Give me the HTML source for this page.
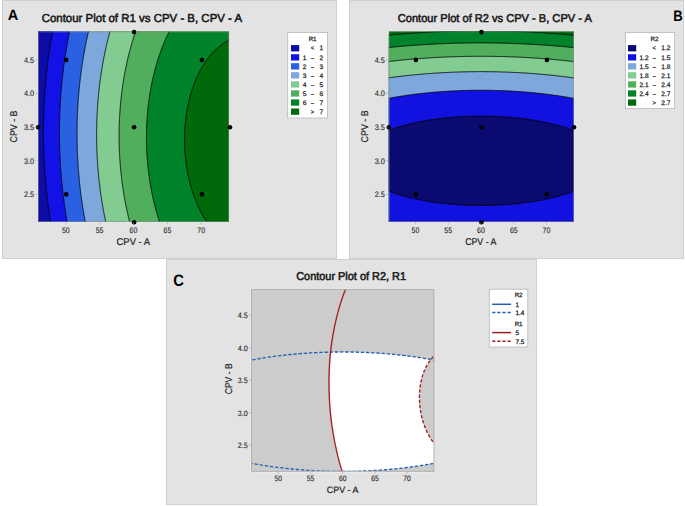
<!DOCTYPE html>
<html><head><meta charset="utf-8"><title>Contour Plots</title>
<style>html,body{margin:0;padding:0;background:#fff;} body{width:685px;height:506px;overflow:hidden;font-family:"Liberation Sans",sans-serif;} svg{display:block;}</style>
</head><body>
<svg width="685" height="506" viewBox="0 0 685 506" font-family='"Liberation Sans", sans-serif' text-rendering="geometricPrecision"><rect x="2.5" y="0.5" width="334" height="258" fill="#e3e3e3" stroke="#d0d0d0" stroke-width="1"/>
<rect x="349.5" y="0.5" width="334" height="258" fill="#e3e3e3" stroke="#d0d0d0" stroke-width="1"/>
<rect x="166.5" y="259.5" width="370" height="245" fill="#e3e3e3" stroke="#d0d0d0" stroke-width="1"/>
<clipPath id="cA"><rect x="38" y="31.4" width="191.1" height="190.6"/></clipPath>
<g clip-path="url(#cA)">
<rect x="38" y="31.4" width="191.1" height="190.6" fill="#006a0a"/>
<path d="M36,29.4L36.8,29.4L37.5,29.4L38.2,29.4L39,29.4L39.8,29.4L40.5,29.4L41.2,29.4L42,29.4L42.8,29.4L43.5,29.4L44.2,29.4L45,29.4L45.8,29.4L46.5,29.4L47.2,29.4L48,29.4L48.8,29.4L49.5,29.4L50.2,29.4L51,29.4L51.8,29.4L52.5,29.4L53.2,29.4L54,29.4L54.8,29.4L55.5,29.4L56.2,29.4L57,29.4L57.8,29.4L58.5,29.4L59.2,29.4L60,29.4L60.8,29.4L61.5,29.4L62.2,29.4L63,29.4L63.8,29.4L64.5,29.4L65.2,29.4L66,29.4L66.8,29.4L67.5,29.4L68.2,29.4L69,29.4L69.8,29.4L70.5,29.4L71.2,29.4L72,29.4L72.8,29.4L73.5,29.4L74.2,29.4L75,29.4L75.8,29.4L76.5,29.4L77.2,29.4L78,29.4L78.8,29.4L79.5,29.4L80.2,29.4L81,29.4L81.8,29.4L82.5,29.4L83.2,29.4L84,29.4L84.8,29.4L85.5,29.4L86.2,29.4L87,29.4L87.8,29.4L88.5,29.4L89.2,29.4L90,29.4L90.8,29.4L91.5,29.4L92.2,29.4L93,29.4L93.8,29.4L94.5,29.4L95.2,29.4L96,29.4L96.8,29.4L97.5,29.4L98.2,29.4L99,29.4L99.8,29.4L100.5,29.4L101.2,29.4L102,29.4L102.8,29.4L103.5,29.4L104.2,29.4L105,29.4L105.8,29.4L106.5,29.4L107.2,29.4L108,29.4L108.8,29.4L109.5,29.4L110.2,29.4L111,29.4L111.8,29.4L112.5,29.4L113.2,29.4L114,29.4L114.8,29.4L115.5,29.4L116.2,29.4L117,29.4L117.8,29.4L118.5,29.4L119.2,29.4L120,29.4L120.8,29.4L121.5,29.4L122.2,29.4L123,29.4L123.8,29.4L124.5,29.4L125.2,29.4L126,29.4L126.8,29.4L127.5,29.4L128.2,29.4L129,29.4L129.8,29.4L130.5,29.4L131.2,29.4L132,29.4L132.8,29.4L133.5,29.4L134.2,29.4L135,29.4L135.8,29.4L136.5,29.4L137.2,29.4L138,29.4L138.8,29.4L139.5,29.4L140.2,29.4L141,29.4L141.8,29.4L142.5,29.4L143.2,29.4L144,29.4L144.8,29.4L145.5,29.4L146.2,29.4L147,29.4L147.8,29.4L148.5,29.4L149.2,29.4L150,29.4L150.8,29.4L151.5,29.4L152.2,29.4L153,29.4L153.8,29.4L154.5,29.4L155.2,29.4L156,29.4L156.8,29.4L157.5,29.4L158.2,29.4L159,29.4L159.8,29.4L160.5,29.4L161.2,29.4L162,29.4L162.8,29.4L163.5,29.4L164.2,29.4L165,29.4L165.8,29.4L166.5,29.4L167.2,29.4L168,29.4L168.8,29.4L169.5,29.4L170.2,29.4L171,29.4L171.8,29.4L172.5,29.4L173.2,29.4L174,29.4L174.8,29.4L175.5,29.4L176.2,29.4L177,29.4L177.8,29.4L178.5,29.4L179.2,29.4L180,29.4L180.8,29.4L181.5,29.4L182.2,29.4L183,29.4L183.8,29.4L184.5,29.4L185.2,29.4L186,29.4L186.8,29.4L187.5,29.4L188.2,29.4L189,29.4L189.8,29.4L190.5,29.4L191.2,29.4L192,29.4L192.8,29.4L193.5,29.4L194.2,29.4L195,29.4L195.8,29.4L196.5,29.4L197.2,29.4L198,29.4L198.8,29.4L199.5,29.4L200.2,29.4L201,29.4L201.8,29.4L202.5,29.4L203.2,29.4L204,29.4L204.8,29.4L205.5,29.4L206.2,29.4L207,29.4L207.8,29.4L208.5,29.4L209.2,29.4L210,29.4L210.8,29.4L211.5,29.4L212.2,29.4L213,29.4L213.8,29.4L214.5,29.4L215.2,29.4L216,29.4L216.8,29.4L217.5,29.4L218.2,29.4L219,29.4L219.8,29.4L220.5,29.4L221.2,29.4L222,29.4L222.8,29.4L223.5,29.4L224.2,29.4L225,29.4L225.8,29.4L226.5,29.4L227.2,29.4L228,29.4L228.8,29.4L229.5,29.4L230.2,29.4L231,29.4L231.8,29.4L231.8,30.1L231.8,30.9L231.8,31.6L231.8,32.4L231.8,33.1L231.8,33.9L231.8,34.6L231.8,35.4L231.8,36.1L231.8,36.9L231.8,37.6L231.8,38.4L231.8,39.1L231.7,39.1L231,39.5L230.2,39.8L230,39.9L229.5,40.1L228.8,40.5L228.4,40.6L228,40.9L227.2,41.2L227,41.4L226.5,41.7L225.8,42.1L225.6,42.1L225,42.5L224.4,42.9L224.2,43L223.5,43.5L223.2,43.6L222.8,44L222.1,44.4L222,44.5L221.2,45L221.1,45.1L220.5,45.6L220.1,45.9L219.8,46.2L219.1,46.6L219,46.8L218.2,47.4L218.2,47.4L217.5,48L217.4,48.2L216.8,48.7L216.5,48.9L216,49.4L215.7,49.6L215.2,50.1L214.9,50.4L214.5,50.8L214.2,51.1L213.8,51.6L213.4,51.9L213,52.4L212.7,52.6L212.2,53.2L212,53.4L211.5,54L211.4,54.1L210.8,54.9L210.7,54.9L210.1,55.6L210,55.8L209.5,56.4L209.2,56.7L208.9,57.1L208.5,57.6L208.3,57.9L207.8,58.6L207.7,58.6L207.2,59.4L207,59.6L206.6,60.1L206.2,60.7L206.1,60.9L205.6,61.6L205.5,61.7L205,62.4L204.8,62.8L204.6,63.1L204.1,63.9L204,64L203.6,64.7L203.2,65.2L203.1,65.4L202.7,66.2L202.5,66.4L202.2,66.9L201.8,67.7L201.8,67.7L201.4,68.4L201,69L200.9,69.2L200.5,69.9L200.2,70.4L200.1,70.7L199.7,71.4L199.5,71.8L199.3,72.2L199,72.9L198.8,73.3L198.6,73.7L198.2,74.4L198,74.8L197.9,75.2L197.5,75.9L197.2,76.4L197.2,76.7L196.8,77.4L196.5,78.1L196.5,78.2L196.2,78.9L195.8,79.7L195.8,79.9L195.5,80.4L195.2,81.2L195,81.7L194.9,81.9L194.6,82.7L194.3,83.4L194.2,83.6L194,84.2L193.8,84.9L193.5,85.6L193.5,85.7L193.2,86.4L193,87.2L192.8,87.7L192.7,87.9L192.4,88.7L192.2,89.4L192,90L192,90.2L191.7,90.9L191.5,91.7L191.2,92.4L191.2,92.4L191,93.2L190.8,93.9L190.6,94.7L190.5,94.9L190.4,95.4L190.2,96.2L190,96.9L189.8,97.7L189.8,97.7L189.6,98.4L189.4,99.2L189.2,99.9L189,100.7L189,100.7L188.8,101.4L188.7,102.2L188.5,102.9L188.3,103.7L188.2,104L188.2,104.4L188,105.2L187.9,105.9L187.7,106.7L187.6,107.4L187.5,107.7L187.4,108.2L187.3,108.9L187.1,109.7L187,110.4L186.9,111.2L186.8,111.9L186.8,111.9L186.6,112.7L186.5,113.4L186.4,114.2L186.3,114.9L186.2,115.7L186.1,116.4L186,117L186,117.2L185.9,117.9L185.8,118.7L185.7,119.4L185.6,120.2L185.5,120.9L185.5,121.7L185.4,122.4L185.3,123.2L185.2,123.8L185.2,123.9L185.2,124.7L185.1,125.4L185.1,126.2L185,126.9L184.9,127.7L184.9,128.4L184.9,129.2L184.8,129.9L184.8,130.7L184.7,131.4L184.7,132.2L184.7,132.9L184.6,133.7L184.6,134.4L184.6,135.2L184.6,135.9L184.6,136.7L184.6,137.4L184.5,138.2L184.5,138.9L184.5,139.7L184.5,140.4L184.5,141.2L184.6,141.9L184.6,142.7L184.6,143.4L184.6,144.2L184.6,144.9L184.6,145.7L184.7,146.4L184.7,147.2L184.7,147.9L184.8,148.7L184.8,149.4L184.8,150.2L184.9,150.9L184.9,151.7L185,152.4L185.1,153.2L185.1,153.9L185.2,154.7L185.2,155.4L185.2,155.6L185.3,156.2L185.4,156.9L185.5,157.7L185.5,158.4L185.6,159.2L185.7,159.9L185.8,160.6L185.9,161.4L186,162.2L186,162.4L186.1,162.9L186.2,163.7L186.3,164.4L186.4,165.1L186.5,165.9L186.6,166.6L186.7,167.4L186.8,167.6L186.8,168.2L187,168.9L187.1,169.7L187.2,170.4L187.4,171.2L187.5,171.9L187.5,171.9L187.6,172.7L187.8,173.4L187.9,174.2L188.1,174.9L188.2,175.7L188.2,175.7L188.4,176.4L188.6,177.2L188.7,177.9L188.9,178.7L189,179.1L189.1,179.4L189.3,180.2L189.4,180.9L189.6,181.7L189.8,182.1L189.8,182.4L190,183.2L190.2,183.9L190.4,184.7L190.5,185L190.6,185.4L190.8,186.2L191,186.9L191.2,187.6L191.3,187.7L191.5,188.4L191.7,189.2L191.9,189.9L192,190.1L192.2,190.7L192.4,191.4L192.7,192.2L192.8,192.4L192.9,192.9L193.2,193.6L193.4,194.4L193.5,194.6L193.7,195.2L193.9,195.9L194.2,196.7L194.2,196.7L194.5,197.4L194.8,198.1L195,198.7L195.1,198.9L195.4,199.7L195.7,200.4L195.8,200.6L196,201.2L196.3,201.9L196.5,202.5L196.6,202.7L196.9,203.4L197.2,204.1L197.2,204.2L197.5,204.9L197.9,205.7L198,205.9L198.2,206.4L198.6,207.1L198.8,207.5L198.9,207.9L199.3,208.6L199.5,209.1L199.6,209.4L200,210.2L200.2,210.6L200.4,210.9L200.8,211.7L201,212.1L201.2,212.4L201.6,213.2L201.8,213.5L202,213.9L202.4,214.7L202.5,214.8L202.8,215.4L203.2,216.1L203.3,216.2L203.7,216.9L204,217.4L204.1,217.6L204.6,218.4L204.8,218.7L205.1,219.1L205.5,219.9L205.5,219.9L206,220.7L206.2,221L206.5,221.4L207,222.1L207,222.2L207.5,222.9L207.8,223.2L208,223.7L208.5,224.3L208.6,224.4L208.5,224.4L207.8,224.4L207,224.4L206.2,224.4L205.5,224.4L204.8,224.4L204,224.4L203.2,224.4L202.5,224.4L201.8,224.4L201,224.4L200.2,224.4L199.5,224.4L198.8,224.4L198,224.4L197.2,224.4L196.5,224.4L195.8,224.4L195,224.4L194.2,224.4L193.5,224.4L192.8,224.4L192,224.4L191.2,224.4L190.5,224.4L189.8,224.4L189,224.4L188.2,224.4L187.5,224.4L186.8,224.4L186,224.4L185.2,224.4L184.5,224.4L183.8,224.4L183,224.4L182.2,224.4L181.5,224.4L180.8,224.4L180,224.4L179.2,224.4L178.5,224.4L177.8,224.4L177,224.4L176.2,224.4L175.5,224.4L174.8,224.4L174,224.4L173.2,224.4L172.5,224.4L171.8,224.4L171,224.4L170.2,224.4L169.5,224.4L168.8,224.4L168,224.4L167.2,224.4L166.5,224.4L165.8,224.4L165,224.4L164.2,224.4L163.5,224.4L162.8,224.4L162,224.4L161.2,224.4L160.5,224.4L159.8,224.4L159,224.4L158.2,224.4L157.5,224.4L156.8,224.4L156,224.4L155.2,224.4L154.5,224.4L153.8,224.4L153,224.4L152.2,224.4L151.5,224.4L150.8,224.4L150,224.4L149.2,224.4L148.5,224.4L147.8,224.4L147,224.4L146.2,224.4L145.5,224.4L144.8,224.4L144,224.4L143.2,224.4L142.5,224.4L141.8,224.4L141,224.4L140.2,224.4L139.5,224.4L138.8,224.4L138,224.4L137.2,224.4L136.5,224.4L135.8,224.4L135,224.4L134.2,224.4L133.5,224.4L132.8,224.4L132,224.4L131.2,224.4L130.5,224.4L129.8,224.4L129,224.4L128.2,224.4L127.5,224.4L126.8,224.4L126,224.4L125.2,224.4L124.5,224.4L123.8,224.4L123,224.4L122.2,224.4L121.5,224.4L120.8,224.4L120,224.4L119.2,224.4L118.5,224.4L117.8,224.4L117,224.4L116.2,224.4L115.5,224.4L114.8,224.4L114,224.4L113.2,224.4L112.5,224.4L111.8,224.4L111,224.4L110.2,224.4L109.5,224.4L108.8,224.4L108,224.4L107.2,224.4L106.5,224.4L105.8,224.4L105,224.4L104.2,224.4L103.5,224.4L102.8,224.4L102,224.4L101.2,224.4L100.5,224.4L99.8,224.4L99,224.4L98.2,224.4L97.5,224.4L96.8,224.4L96,224.4L95.2,224.4L94.5,224.4L93.8,224.4L93,224.4L92.2,224.4L91.5,224.4L90.8,224.4L90,224.4L89.2,224.4L88.5,224.4L87.8,224.4L87,224.4L86.2,224.4L85.5,224.4L84.8,224.4L84,224.4L83.2,224.4L82.5,224.4L81.8,224.4L81,224.4L80.2,224.4L79.5,224.4L78.8,224.4L78,224.4L77.2,224.4L76.5,224.4L75.8,224.4L75,224.4L74.2,224.4L73.5,224.4L72.8,224.4L72,224.4L71.2,224.4L70.5,224.4L69.8,224.4L69,224.4L68.2,224.4L67.5,224.4L66.8,224.4L66,224.4L65.2,224.4L64.5,224.4L63.8,224.4L63,224.4L62.2,224.4L61.5,224.4L60.8,224.4L60,224.4L59.2,224.4L58.5,224.4L57.8,224.4L57,224.4L56.2,224.4L55.5,224.4L54.8,224.4L54,224.4L53.2,224.4L52.5,224.4L51.8,224.4L51,224.4L50.2,224.4L49.5,224.4L48.8,224.4L48,224.4L47.2,224.4L46.5,224.4L45.8,224.4L45,224.4L44.2,224.4L43.5,224.4L42.8,224.4L42,224.4L41.2,224.4L40.5,224.4L39.8,224.4L39,224.4L38.2,224.4L37.5,224.4L36.8,224.4L36,224.4L36,223.7L36,222.9L36,222.2L36,221.4L36,220.7L36,219.9L36,219.2L36,218.4L36,217.7L36,216.9L36,216.2L36,215.4L36,214.7L36,213.9L36,213.2L36,212.4L36,211.7L36,210.9L36,210.2L36,209.4L36,208.7L36,207.9L36,207.2L36,206.4L36,205.7L36,204.9L36,204.2L36,203.4L36,202.7L36,201.9L36,201.2L36,200.4L36,199.7L36,198.9L36,198.2L36,197.4L36,196.7L36,195.9L36,195.2L36,194.4L36,193.7L36,192.9L36,192.2L36,191.4L36,190.7L36,189.9L36,189.2L36,188.4L36,187.7L36,186.9L36,186.2L36,185.4L36,184.7L36,183.9L36,183.2L36,182.4L36,181.7L36,180.9L36,180.2L36,179.4L36,178.7L36,177.9L36,177.2L36,176.4L36,175.7L36,174.9L36,174.2L36,173.4L36,172.7L36,171.9L36,171.2L36,170.4L36,169.7L36,168.9L36,168.2L36,167.4L36,166.7L36,165.9L36,165.2L36,164.4L36,163.7L36,162.9L36,162.2L36,161.4L36,160.7L36,159.9L36,159.2L36,158.4L36,157.7L36,156.9L36,156.2L36,155.4L36,154.7L36,153.9L36,153.2L36,152.4L36,151.7L36,150.9L36,150.2L36,149.4L36,148.7L36,147.9L36,147.2L36,146.4L36,145.7L36,144.9L36,144.2L36,143.4L36,142.7L36,141.9L36,141.2L36,140.4L36,139.7L36,138.9L36,138.2L36,137.4L36,136.7L36,135.9L36,135.2L36,134.4L36,133.7L36,132.9L36,132.2L36,131.4L36,130.7L36,129.9L36,129.2L36,128.4L36,127.7L36,126.9L36,126.2L36,125.4L36,124.7L36,123.9L36,123.2L36,122.4L36,121.7L36,120.9L36,120.2L36,119.4L36,118.7L36,117.9L36,117.2L36,116.4L36,115.7L36,114.9L36,114.2L36,113.4L36,112.7L36,111.9L36,111.2L36,110.4L36,109.7L36,108.9L36,108.2L36,107.4L36,106.7L36,105.9L36,105.2L36,104.4L36,103.7L36,102.9L36,102.2L36,101.4L36,100.7L36,99.9L36,99.2L36,98.4L36,97.7L36,96.9L36,96.2L36,95.4L36,94.7L36,93.9L36,93.2L36,92.4L36,91.7L36,90.9L36,90.2L36,89.4L36,88.7L36,87.9L36,87.2L36,86.4L36,85.7L36,84.9L36,84.2L36,83.4L36,82.7L36,81.9L36,81.2L36,80.4L36,79.7L36,78.9L36,78.2L36,77.4L36,76.7L36,75.9L36,75.2L36,74.4L36,73.7L36,72.9L36,72.2L36,71.4L36,70.7L36,69.9L36,69.2L36,68.4L36,67.7L36,66.9L36,66.2L36,65.4L36,64.7L36,63.9L36,63.1L36,62.4L36,61.6L36,60.9L36,60.1L36,59.4L36,58.6L36,57.9L36,57.1L36,56.4L36,55.6L36,54.9L36,54.1L36,53.4L36,52.6L36,51.9L36,51.1L36,50.4L36,49.6L36,48.9L36,48.1L36,47.4L36,46.6L36,45.9L36,45.1L36,44.4L36,43.6L36,42.9L36,42.1L36,41.4L36,40.6L36,39.9L36,39.1L36,38.4L36,37.6L36,36.9L36,36.1L36,35.4L36,34.6L36,33.9L36,33.1L36,32.4L36,31.6L36,30.9L36,30.1Z" fill="#00832a"/>
<path d="M36,29.4L36.8,29.4L37.5,29.4L38.2,29.4L39,29.4L39.8,29.4L40.5,29.4L41.2,29.4L42,29.4L42.8,29.4L43.5,29.4L44.2,29.4L45,29.4L45.8,29.4L46.5,29.4L47.2,29.4L48,29.4L48.8,29.4L49.5,29.4L50.2,29.4L51,29.4L51.8,29.4L52.5,29.4L53.2,29.4L54,29.4L54.8,29.4L55.5,29.4L56.2,29.4L57,29.4L57.8,29.4L58.5,29.4L59.2,29.4L60,29.4L60.8,29.4L61.5,29.4L62.2,29.4L63,29.4L63.8,29.4L64.5,29.4L65.2,29.4L66,29.4L66.8,29.4L67.5,29.4L68.2,29.4L69,29.4L69.8,29.4L70.5,29.4L71.2,29.4L72,29.4L72.8,29.4L73.5,29.4L74.2,29.4L75,29.4L75.8,29.4L76.5,29.4L77.2,29.4L78,29.4L78.8,29.4L79.5,29.4L80.2,29.4L81,29.4L81.8,29.4L82.5,29.4L83.2,29.4L84,29.4L84.8,29.4L85.5,29.4L86.2,29.4L87,29.4L87.8,29.4L88.5,29.4L89.2,29.4L90,29.4L90.8,29.4L91.5,29.4L92.2,29.4L93,29.4L93.8,29.4L94.5,29.4L95.2,29.4L96,29.4L96.8,29.4L97.5,29.4L98.2,29.4L99,29.4L99.8,29.4L100.5,29.4L101.2,29.4L102,29.4L102.8,29.4L103.5,29.4L104.2,29.4L105,29.4L105.8,29.4L106.5,29.4L107.2,29.4L108,29.4L108.8,29.4L109.5,29.4L110.2,29.4L111,29.4L111.8,29.4L112.5,29.4L113.2,29.4L114,29.4L114.8,29.4L115.5,29.4L116.2,29.4L117,29.4L117.8,29.4L118.5,29.4L119.2,29.4L120,29.4L120.8,29.4L121.5,29.4L122.2,29.4L123,29.4L123.8,29.4L124.5,29.4L125.2,29.4L126,29.4L126.8,29.4L127.5,29.4L128.2,29.4L129,29.4L129.8,29.4L130.5,29.4L131.2,29.4L132,29.4L132.8,29.4L133.5,29.4L134.2,29.4L135,29.4L135.8,29.4L136.5,29.4L137.2,29.4L138,29.4L138.8,29.4L139.5,29.4L140.2,29.4L141,29.4L141.8,29.4L142.5,29.4L143.2,29.4L144,29.4L144.8,29.4L145.5,29.4L146.2,29.4L147,29.4L147.8,29.4L148.5,29.4L149.2,29.4L150,29.4L150.8,29.4L151.5,29.4L152.2,29.4L153,29.4L153.8,29.4L154.5,29.4L155.2,29.4L156,29.4L156.8,29.4L157.5,29.4L158.2,29.4L159,29.4L159.8,29.4L160.5,29.4L161.2,29.4L162,29.4L162.8,29.4L163.5,29.4L164.2,29.4L165,29.4L165.8,29.4L166.5,29.4L167.2,29.4L168,29.4L168.8,29.4L169.5,29.4L170.2,29.4L170.3,29.4L170.2,29.5L169.9,30.1L169.5,30.9L169.5,31L169.2,31.6L168.8,32.4L168.8,32.5L168.4,33.1L168.1,33.9L168,34L167.7,34.6L167.3,35.4L167.2,35.6L167,36.1L166.6,36.9L166.5,37.2L166.3,37.6L166,38.4L165.8,38.9L165.6,39.2L165.3,39.9L165,40.6L165,40.6L164.7,41.4L164.3,42.1L164.2,42.4L164,42.9L163.7,43.6L163.5,44.2L163.4,44.4L163.1,45.1L162.8,45.9L162.8,46.1L162.5,46.6L162.2,47.4L162,48L161.9,48.1L161.7,48.9L161.4,49.6L161.2,50L161.1,50.4L160.8,51.1L160.5,51.9L160.5,52L160.3,52.6L160,53.4L159.8,54.1L159.8,54.2L159.5,54.9L159.2,55.7L159,56.4L159,56.4L158.7,57.1L158.5,57.9L158.3,58.6L158.2,58.7L158,59.4L157.8,60.1L157.5,60.9L157.5,61L157.3,61.6L157.1,62.4L156.9,63.1L156.8,63.5L156.6,63.9L156.4,64.7L156.2,65.4L156,66.1L156,66.2L155.8,66.9L155.6,67.7L155.4,68.4L155.2,68.8L155.2,69.2L155,69.9L154.8,70.7L154.6,71.4L154.5,71.6L154.4,72.2L154.2,72.9L154,73.7L153.8,74.4L153.8,74.6L153.6,75.2L153.4,75.9L153.3,76.7L153.1,77.4L153,77.8L152.9,78.1L152.8,78.9L152.6,79.7L152.4,80.4L152.3,81.2L152.2,81.2L152.1,81.9L151.9,82.7L151.8,83.4L151.6,84.2L151.5,84.9L151.5,84.9L151.3,85.7L151.2,86.4L151.1,87.2L150.9,87.9L150.8,88.7L150.8,88.8L150.6,89.4L150.5,90.2L150.4,90.9L150.3,91.7L150.1,92.4L150,93.2L150,93.2L149.9,93.9L149.8,94.6L149.6,95.4L149.5,96.2L149.4,96.9L149.3,97.7L149.2,98L149.2,98.4L149.1,99.2L149,99.9L148.9,100.7L148.8,101.4L148.7,102.2L148.6,102.9L148.5,103.6L148.5,103.7L148.4,104.4L148.3,105.2L148.2,105.9L148.1,106.7L148.1,107.4L148,108.2L147.9,108.9L147.8,109.7L147.8,110.4L147.8,110.4L147.7,111.2L147.6,111.9L147.5,112.7L147.5,113.4L147.4,114.2L147.4,114.9L147.3,115.7L147.2,116.4L147.2,117.2L147.1,117.9L147.1,118.7L147,119.4L147,119.8L147,120.2L146.9,120.9L146.9,121.7L146.8,122.4L146.8,123.2L146.8,123.9L146.7,124.6L146.7,125.4L146.7,126.2L146.6,126.9L146.6,127.7L146.6,128.4L146.6,129.2L146.5,129.9L146.5,130.7L146.5,131.4L146.5,132.2L146.5,132.9L146.5,133.7L146.5,134.4L146.5,135.2L146.4,135.9L146.4,136.7L146.4,137.4L146.4,138.2L146.4,138.9L146.5,139.7L146.5,140.4L146.5,141.2L146.5,141.9L146.5,142.7L146.5,143.4L146.5,144.2L146.5,144.9L146.6,145.7L146.6,146.4L146.6,147.2L146.6,147.9L146.7,148.7L146.7,149.4L146.7,150.2L146.8,150.9L146.8,151.7L146.8,152.4L146.9,153.2L146.9,153.9L147,154.6L147,155.3L147,155.4L147.1,156.1L147.1,156.9L147.2,157.7L147.2,158.4L147.3,159.2L147.3,159.9L147.4,160.7L147.4,161.4L147.5,162.2L147.6,162.9L147.6,163.7L147.7,164.4L147.8,164.8L147.8,165.2L147.9,165.9L147.9,166.7L148,167.4L148.1,168.2L148.2,168.9L148.3,169.7L148.4,170.4L148.4,171.2L148.5,171.7L148.5,171.9L148.6,172.7L148.7,173.4L148.8,174.2L148.9,174.9L149,175.7L149.1,176.4L149.2,177.2L149.2,177.4L149.3,177.9L149.4,178.7L149.5,179.4L149.7,180.2L149.8,180.9L149.9,181.7L150,182.3L150,182.4L150.1,183.1L150.3,183.9L150.4,184.7L150.5,185.4L150.6,186.2L150.8,186.7L150.8,186.9L150.9,187.7L151.1,188.4L151.2,189.2L151.3,189.9L151.5,190.7L151.5,190.8L151.6,191.4L151.8,192.2L151.9,192.9L152.1,193.7L152.2,194.4L152.2,194.5L152.4,195.2L152.5,195.9L152.7,196.7L152.9,197.4L153,198L153,198.2L153.2,198.9L153.4,199.7L153.6,200.4L153.7,201.1L153.8,201.2L153.9,201.9L154.1,202.7L154.3,203.4L154.5,204.2L154.5,204.3L154.6,204.9L154.8,205.7L155,206.4L155.2,207.2L155.2,207.2L155.4,207.9L155.6,208.7L155.8,209.4L156,210L156,210.2L156.2,210.9L156.5,211.6L156.7,212.4L156.8,212.7L156.9,213.2L157.1,213.9L157.3,214.7L157.5,215.3L157.5,215.4L157.8,216.2L158,216.9L158.2,217.7L158.2,217.7L158.5,218.4L158.7,219.2L158.9,219.9L159,220.1L159.2,220.7L159.4,221.4L159.7,222.2L159.8,222.4L159.9,222.9L160.2,223.7L160.4,224.4L159.8,224.4L159,224.4L158.2,224.4L157.5,224.4L156.8,224.4L156,224.4L155.2,224.4L154.5,224.4L153.8,224.4L153,224.4L152.2,224.4L151.5,224.4L150.8,224.4L150,224.4L149.2,224.4L148.5,224.4L147.8,224.4L147,224.4L146.2,224.4L145.5,224.4L144.8,224.4L144,224.4L143.2,224.4L142.5,224.4L141.8,224.4L141,224.4L140.2,224.4L139.5,224.4L138.8,224.4L138,224.4L137.2,224.4L136.5,224.4L135.8,224.4L135,224.4L134.2,224.4L133.5,224.4L132.8,224.4L132,224.4L131.2,224.4L130.5,224.4L129.8,224.4L129,224.4L128.2,224.4L127.5,224.4L126.8,224.4L126,224.4L125.2,224.4L124.5,224.4L123.8,224.4L123,224.4L122.2,224.4L121.5,224.4L120.8,224.4L120,224.4L119.2,224.4L118.5,224.4L117.8,224.4L117,224.4L116.2,224.4L115.5,224.4L114.8,224.4L114,224.4L113.2,224.4L112.5,224.4L111.8,224.4L111,224.4L110.2,224.4L109.5,224.4L108.8,224.4L108,224.4L107.2,224.4L106.5,224.4L105.8,224.4L105,224.4L104.2,224.4L103.5,224.4L102.8,224.4L102,224.4L101.2,224.4L100.5,224.4L99.8,224.4L99,224.4L98.2,224.4L97.5,224.4L96.8,224.4L96,224.4L95.2,224.4L94.5,224.4L93.8,224.4L93,224.4L92.2,224.4L91.5,224.4L90.8,224.4L90,224.4L89.2,224.4L88.5,224.4L87.8,224.4L87,224.4L86.2,224.4L85.5,224.4L84.8,224.4L84,224.4L83.2,224.4L82.5,224.4L81.8,224.4L81,224.4L80.2,224.4L79.5,224.4L78.8,224.4L78,224.4L77.2,224.4L76.5,224.4L75.8,224.4L75,224.4L74.2,224.4L73.5,224.4L72.8,224.4L72,224.4L71.2,224.4L70.5,224.4L69.8,224.4L69,224.4L68.2,224.4L67.5,224.4L66.8,224.4L66,224.4L65.2,224.4L64.5,224.4L63.8,224.4L63,224.4L62.2,224.4L61.5,224.4L60.8,224.4L60,224.4L59.2,224.4L58.5,224.4L57.8,224.4L57,224.4L56.2,224.4L55.5,224.4L54.8,224.4L54,224.4L53.2,224.4L52.5,224.4L51.8,224.4L51,224.4L50.2,224.4L49.5,224.4L48.8,224.4L48,224.4L47.2,224.4L46.5,224.4L45.8,224.4L45,224.4L44.2,224.4L43.5,224.4L42.8,224.4L42,224.4L41.2,224.4L40.5,224.4L39.8,224.4L39,224.4L38.2,224.4L37.5,224.4L36.8,224.4L36,224.4L36,223.7L36,222.9L36,222.2L36,221.4L36,220.7L36,219.9L36,219.2L36,218.4L36,217.7L36,216.9L36,216.2L36,215.4L36,214.7L36,213.9L36,213.2L36,212.4L36,211.7L36,210.9L36,210.2L36,209.4L36,208.7L36,207.9L36,207.2L36,206.4L36,205.7L36,204.9L36,204.2L36,203.4L36,202.7L36,201.9L36,201.2L36,200.4L36,199.7L36,198.9L36,198.2L36,197.4L36,196.7L36,195.9L36,195.2L36,194.4L36,193.7L36,192.9L36,192.2L36,191.4L36,190.7L36,189.9L36,189.2L36,188.4L36,187.7L36,186.9L36,186.2L36,185.4L36,184.7L36,183.9L36,183.2L36,182.4L36,181.7L36,180.9L36,180.2L36,179.4L36,178.7L36,177.9L36,177.2L36,176.4L36,175.7L36,174.9L36,174.2L36,173.4L36,172.7L36,171.9L36,171.2L36,170.4L36,169.7L36,168.9L36,168.2L36,167.4L36,166.7L36,165.9L36,165.2L36,164.4L36,163.7L36,162.9L36,162.2L36,161.4L36,160.7L36,159.9L36,159.2L36,158.4L36,157.7L36,156.9L36,156.2L36,155.4L36,154.7L36,153.9L36,153.2L36,152.4L36,151.7L36,150.9L36,150.2L36,149.4L36,148.7L36,147.9L36,147.2L36,146.4L36,145.7L36,144.9L36,144.2L36,143.4L36,142.7L36,141.9L36,141.2L36,140.4L36,139.7L36,138.9L36,138.2L36,137.4L36,136.7L36,135.9L36,135.2L36,134.4L36,133.7L36,132.9L36,132.2L36,131.4L36,130.7L36,129.9L36,129.2L36,128.4L36,127.7L36,126.9L36,126.2L36,125.4L36,124.7L36,123.9L36,123.2L36,122.4L36,121.7L36,120.9L36,120.2L36,119.4L36,118.7L36,117.9L36,117.2L36,116.4L36,115.7L36,114.9L36,114.2L36,113.4L36,112.7L36,111.9L36,111.2L36,110.4L36,109.7L36,108.9L36,108.2L36,107.4L36,106.7L36,105.9L36,105.2L36,104.4L36,103.7L36,102.9L36,102.2L36,101.4L36,100.7L36,99.9L36,99.2L36,98.4L36,97.7L36,96.9L36,96.2L36,95.4L36,94.7L36,93.9L36,93.2L36,92.4L36,91.7L36,90.9L36,90.2L36,89.4L36,88.7L36,87.9L36,87.2L36,86.4L36,85.7L36,84.9L36,84.2L36,83.4L36,82.7L36,81.9L36,81.2L36,80.4L36,79.7L36,78.9L36,78.2L36,77.4L36,76.7L36,75.9L36,75.2L36,74.4L36,73.7L36,72.9L36,72.2L36,71.4L36,70.7L36,69.9L36,69.2L36,68.4L36,67.7L36,66.9L36,66.2L36,65.4L36,64.7L36,63.9L36,63.1L36,62.4L36,61.6L36,60.9L36,60.1L36,59.4L36,58.6L36,57.9L36,57.1L36,56.4L36,55.6L36,54.9L36,54.1L36,53.4L36,52.6L36,51.9L36,51.1L36,50.4L36,49.6L36,48.9L36,48.1L36,47.4L36,46.6L36,45.9L36,45.1L36,44.4L36,43.6L36,42.9L36,42.1L36,41.4L36,40.6L36,39.9L36,39.1L36,38.4L36,37.6L36,36.9L36,36.1L36,35.4L36,34.6L36,33.9L36,33.1L36,32.4L36,31.6L36,30.9L36,30.1Z" fill="#51ae5d"/>
<path d="M36,29.4L36.8,29.4L37.5,29.4L38.2,29.4L39,29.4L39.8,29.4L40.5,29.4L41.2,29.4L42,29.4L42.8,29.4L43.5,29.4L44.2,29.4L45,29.4L45.8,29.4L46.5,29.4L47.2,29.4L48,29.4L48.8,29.4L49.5,29.4L50.2,29.4L51,29.4L51.8,29.4L52.5,29.4L53.2,29.4L54,29.4L54.8,29.4L55.5,29.4L56.2,29.4L57,29.4L57.8,29.4L58.5,29.4L59.2,29.4L60,29.4L60.8,29.4L61.5,29.4L62.2,29.4L63,29.4L63.8,29.4L64.5,29.4L65.2,29.4L66,29.4L66.8,29.4L67.5,29.4L68.2,29.4L69,29.4L69.8,29.4L70.5,29.4L71.2,29.4L72,29.4L72.8,29.4L73.5,29.4L74.2,29.4L75,29.4L75.8,29.4L76.5,29.4L77.2,29.4L78,29.4L78.8,29.4L79.5,29.4L80.2,29.4L81,29.4L81.8,29.4L82.5,29.4L83.2,29.4L84,29.4L84.8,29.4L85.5,29.4L86.2,29.4L87,29.4L87.8,29.4L88.5,29.4L89.2,29.4L90,29.4L90.8,29.4L91.5,29.4L92.2,29.4L93,29.4L93.8,29.4L94.5,29.4L95.2,29.4L96,29.4L96.8,29.4L97.5,29.4L98.2,29.4L99,29.4L99.8,29.4L100.5,29.4L101.2,29.4L102,29.4L102.8,29.4L103.5,29.4L104.2,29.4L105,29.4L105.8,29.4L106.5,29.4L107.2,29.4L108,29.4L108.8,29.4L109.5,29.4L110.2,29.4L111,29.4L111.8,29.4L112.5,29.4L113.2,29.4L114,29.4L114.8,29.4L115.5,29.4L116.2,29.4L117,29.4L117.8,29.4L118.5,29.4L119.2,29.4L120,29.4L120.8,29.4L121.5,29.4L122.2,29.4L123,29.4L123.8,29.4L124.5,29.4L125.2,29.4L126,29.4L126.8,29.4L127.5,29.4L128.2,29.4L129,29.4L129.8,29.4L130.5,29.4L131.2,29.4L132,29.4L132.8,29.4L133.5,29.4L134.2,29.4L135,29.4L135.8,29.4L136.3,29.4L136,30.1L135.8,30.9L135.8,31L135.5,31.6L135.3,32.4L135,33.1L135,33.2L134.8,33.9L134.5,34.6L134.3,35.4L134.2,35.5L134,36.2L133.8,36.9L133.6,37.6L133.5,37.8L133.3,38.4L133.1,39.1L132.9,39.9L132.8,40.3L132.6,40.6L132.4,41.4L132.2,42.1L132,42.8L132,42.9L131.7,43.6L131.5,44.4L131.3,45.1L131.2,45.4L131.1,45.9L130.9,46.6L130.7,47.4L130.5,48.1L130.5,48.1L130.3,48.9L130.1,49.6L129.9,50.4L129.8,50.9L129.7,51.1L129.5,51.9L129.3,52.6L129.1,53.4L129,53.8L128.9,54.2L128.7,54.9L128.5,55.6L128.3,56.4L128.2,56.8L128.2,57.1L128,57.9L127.8,58.6L127.6,59.4L127.5,60L127.5,60.1L127.3,60.9L127.1,61.6L127,62.4L126.8,63.1L126.8,63.3L126.6,63.9L126.5,64.7L126.3,65.4L126.2,66.2L126,66.9L126,66.9L125.8,67.7L125.7,68.4L125.5,69.2L125.4,69.9L125.2,70.6L125.2,70.6L125.1,71.4L125,72.2L124.8,72.9L124.7,73.7L124.5,74.4L124.5,74.6L124.4,75.2L124.3,75.9L124.1,76.7L124,77.4L123.9,78.2L123.8,78.9L123.8,79L123.6,79.7L123.5,80.4L123.4,81.2L123.3,81.9L123.2,82.7L123,83.4L123,83.7L122.9,84.2L122.8,84.9L122.7,85.7L122.6,86.4L122.5,87.2L122.4,87.9L122.3,88.7L122.2,88.9L122.2,89.4L122.1,90.2L122,90.9L121.9,91.7L121.8,92.4L121.7,93.2L121.6,93.9L121.5,94.7L121.5,94.8L121.4,95.4L121.3,96.2L121.3,96.9L121.2,97.7L121.1,98.4L121,99.2L120.9,99.9L120.9,100.7L120.8,101.4L120.8,101.8L120.7,102.2L120.6,102.9L120.6,103.7L120.5,104.4L120.4,105.2L120.4,105.9L120.3,106.7L120.3,107.4L120.2,108.2L120.1,108.9L120.1,109.7L120,110.4L120,110.8L120,111.2L119.9,111.9L119.9,112.7L119.8,113.4L119.8,114.2L119.7,114.9L119.7,115.7L119.6,116.4L119.6,117.2L119.6,117.9L119.5,118.7L119.5,119.4L119.5,120.2L119.4,120.9L119.4,121.7L119.4,122.4L119.3,123.2L119.3,123.9L119.3,124.7L119.3,125.4L119.2,126L119.2,126.2L119.2,126.9L119.2,127.7L119.2,128.4L119.2,129.2L119.2,129.9L119.2,130.7L119.1,131.4L119.1,132.2L119.1,132.9L119.1,133.7L119.1,134.4L119.1,135.2L119.1,135.9L119.1,136.7L119.1,137.4L119.1,138.2L119.1,138.9L119.1,139.7L119.1,140.4L119.1,141.2L119.2,141.9L119.2,142.7L119.2,143.4L119.2,144.2L119.2,144.9L119.2,145.7L119.2,146L119.3,146.4L119.3,147.2L119.3,147.9L119.3,148.7L119.4,149.4L119.4,150.2L119.4,150.9L119.4,151.7L119.5,152.4L119.5,153.2L119.6,153.9L119.6,154.7L119.6,155.4L119.7,156.2L119.7,156.9L119.8,157.7L119.8,158.4L119.9,159.2L119.9,159.9L120,160.7L120,161.3L120,161.4L120.1,162.2L120.1,162.9L120.2,163.7L120.2,164.4L120.3,165.2L120.4,165.9L120.4,166.7L120.5,167.4L120.5,168.1L120.6,168.9L120.7,169.7L120.8,170.4L120.8,170.4L120.8,171.2L120.9,171.9L121,172.7L121.1,173.4L121.1,174.2L121.2,174.9L121.3,175.7L121.4,176.4L121.5,177.2L121.5,177.5L121.6,177.9L121.6,178.6L121.7,179.4L121.8,180.2L121.9,180.9L122,181.7L122.1,182.4L122.2,183.2L122.2,183.5L122.3,183.9L122.4,184.7L122.5,185.4L122.6,186.2L122.7,186.9L122.8,187.7L122.9,188.4L123,188.8L123.1,189.2L123.2,189.9L123.3,190.7L123.4,191.4L123.5,192.2L123.6,192.9L123.8,193.6L123.8,193.7L123.9,194.4L124,195.2L124.1,195.9L124.3,196.6L124.4,197.4L124.5,198L124.5,198.2L124.7,198.9L124.8,199.7L124.9,200.4L125.1,201.2L125.2,201.9L125.2,202.1L125.4,202.7L125.5,203.4L125.6,204.2L125.8,204.9L125.9,205.7L126,205.9L126.1,206.4L126.2,207.2L126.4,207.9L126.6,208.7L126.7,209.4L126.8,209.5L126.9,210.2L127,210.9L127.2,211.7L127.4,212.4L127.5,213L127.5,213.2L127.7,213.9L127.9,214.7L128.1,215.4L128.2,216.2L128.2,216.2L128.4,216.9L128.6,217.7L128.8,218.4L128.9,219.2L129,219.4L129.1,219.9L129.3,220.7L129.5,221.4L129.7,222.2L129.8,222.4L129.9,222.9L130.1,223.7L130.3,224.4L129.8,224.4L129,224.4L128.2,224.4L127.5,224.4L126.8,224.4L126,224.4L125.2,224.4L124.5,224.4L123.8,224.4L123,224.4L122.2,224.4L121.5,224.4L120.8,224.4L120,224.4L119.2,224.4L118.5,224.4L117.8,224.4L117,224.4L116.2,224.4L115.5,224.4L114.8,224.4L114,224.4L113.2,224.4L112.5,224.4L111.8,224.4L111,224.4L110.2,224.4L109.5,224.4L108.8,224.4L108,224.4L107.2,224.4L106.5,224.4L105.8,224.4L105,224.4L104.2,224.4L103.5,224.4L102.8,224.4L102,224.4L101.2,224.4L100.5,224.4L99.8,224.4L99,224.4L98.2,224.4L97.5,224.4L96.8,224.4L96,224.4L95.2,224.4L94.5,224.4L93.8,224.4L93,224.4L92.2,224.4L91.5,224.4L90.8,224.4L90,224.4L89.2,224.4L88.5,224.4L87.8,224.4L87,224.4L86.2,224.4L85.5,224.4L84.8,224.4L84,224.4L83.2,224.4L82.5,224.4L81.8,224.4L81,224.4L80.2,224.4L79.5,224.4L78.8,224.4L78,224.4L77.2,224.4L76.5,224.4L75.8,224.4L75,224.4L74.2,224.4L73.5,224.4L72.8,224.4L72,224.4L71.2,224.4L70.5,224.4L69.8,224.4L69,224.4L68.2,224.4L67.5,224.4L66.8,224.4L66,224.4L65.2,224.4L64.5,224.4L63.8,224.4L63,224.4L62.2,224.4L61.5,224.4L60.8,224.4L60,224.4L59.2,224.4L58.5,224.4L57.8,224.4L57,224.4L56.2,224.4L55.5,224.4L54.8,224.4L54,224.4L53.2,224.4L52.5,224.4L51.8,224.4L51,224.4L50.2,224.4L49.5,224.4L48.8,224.4L48,224.4L47.2,224.4L46.5,224.4L45.8,224.4L45,224.4L44.2,224.4L43.5,224.4L42.8,224.4L42,224.4L41.2,224.4L40.5,224.4L39.8,224.4L39,224.4L38.2,224.4L37.5,224.4L36.8,224.4L36,224.4L36,223.7L36,222.9L36,222.2L36,221.4L36,220.7L36,219.9L36,219.2L36,218.4L36,217.7L36,216.9L36,216.2L36,215.4L36,214.7L36,213.9L36,213.2L36,212.4L36,211.7L36,210.9L36,210.2L36,209.4L36,208.7L36,207.9L36,207.2L36,206.4L36,205.7L36,204.9L36,204.2L36,203.4L36,202.7L36,201.9L36,201.2L36,200.4L36,199.7L36,198.9L36,198.2L36,197.4L36,196.7L36,195.9L36,195.2L36,194.4L36,193.7L36,192.9L36,192.2L36,191.4L36,190.7L36,189.9L36,189.2L36,188.4L36,187.7L36,186.9L36,186.2L36,185.4L36,184.7L36,183.9L36,183.2L36,182.4L36,181.7L36,180.9L36,180.2L36,179.4L36,178.7L36,177.9L36,177.2L36,176.4L36,175.7L36,174.9L36,174.2L36,173.4L36,172.7L36,171.9L36,171.2L36,170.4L36,169.7L36,168.9L36,168.2L36,167.4L36,166.7L36,165.9L36,165.2L36,164.4L36,163.7L36,162.9L36,162.2L36,161.4L36,160.7L36,159.9L36,159.2L36,158.4L36,157.7L36,156.9L36,156.2L36,155.4L36,154.7L36,153.9L36,153.2L36,152.4L36,151.7L36,150.9L36,150.2L36,149.4L36,148.7L36,147.9L36,147.2L36,146.4L36,145.7L36,144.9L36,144.2L36,143.4L36,142.7L36,141.9L36,141.2L36,140.4L36,139.7L36,138.9L36,138.2L36,137.4L36,136.7L36,135.9L36,135.2L36,134.4L36,133.7L36,132.9L36,132.2L36,131.4L36,130.7L36,129.9L36,129.2L36,128.4L36,127.7L36,126.9L36,126.2L36,125.4L36,124.7L36,123.9L36,123.2L36,122.4L36,121.7L36,120.9L36,120.2L36,119.4L36,118.7L36,117.9L36,117.2L36,116.4L36,115.7L36,114.9L36,114.2L36,113.4L36,112.7L36,111.9L36,111.2L36,110.4L36,109.7L36,108.9L36,108.2L36,107.4L36,106.7L36,105.9L36,105.2L36,104.4L36,103.7L36,102.9L36,102.2L36,101.4L36,100.7L36,99.9L36,99.2L36,98.4L36,97.7L36,96.9L36,96.2L36,95.4L36,94.7L36,93.9L36,93.2L36,92.4L36,91.7L36,90.9L36,90.2L36,89.4L36,88.7L36,87.9L36,87.2L36,86.4L36,85.7L36,84.9L36,84.2L36,83.4L36,82.7L36,81.9L36,81.2L36,80.4L36,79.7L36,78.9L36,78.2L36,77.4L36,76.7L36,75.9L36,75.2L36,74.4L36,73.7L36,72.9L36,72.2L36,71.4L36,70.7L36,69.9L36,69.2L36,68.4L36,67.7L36,66.9L36,66.2L36,65.4L36,64.7L36,63.9L36,63.1L36,62.4L36,61.6L36,60.9L36,60.1L36,59.4L36,58.6L36,57.9L36,57.1L36,56.4L36,55.6L36,54.9L36,54.1L36,53.4L36,52.6L36,51.9L36,51.1L36,50.4L36,49.6L36,48.9L36,48.1L36,47.4L36,46.6L36,45.9L36,45.1L36,44.4L36,43.6L36,42.9L36,42.1L36,41.4L36,40.6L36,39.9L36,39.1L36,38.4L36,37.6L36,36.9L36,36.1L36,35.4L36,34.6L36,33.9L36,33.1L36,32.4L36,31.6L36,30.9L36,30.1Z" fill="#82cc91"/>
<path d="M36,29.4L36.8,29.4L37.5,29.4L38.2,29.4L39,29.4L39.8,29.4L40.5,29.4L41.2,29.4L42,29.4L42.8,29.4L43.5,29.4L44.2,29.4L45,29.4L45.8,29.4L46.5,29.4L47.2,29.4L48,29.4L48.8,29.4L49.5,29.4L50.2,29.4L51,29.4L51.8,29.4L52.5,29.4L53.2,29.4L54,29.4L54.8,29.4L55.5,29.4L56.2,29.4L57,29.4L57.8,29.4L58.5,29.4L59.2,29.4L60,29.4L60.8,29.4L61.5,29.4L62.2,29.4L63,29.4L63.8,29.4L64.5,29.4L65.2,29.4L66,29.4L66.8,29.4L67.5,29.4L68.2,29.4L69,29.4L69.8,29.4L70.5,29.4L71.2,29.4L72,29.4L72.8,29.4L73.5,29.4L74.2,29.4L75,29.4L75.8,29.4L76.5,29.4L77.2,29.4L78,29.4L78.8,29.4L79.5,29.4L80.2,29.4L81,29.4L81.8,29.4L82.5,29.4L83.2,29.4L84,29.4L84.8,29.4L85.5,29.4L86.2,29.4L87,29.4L87.8,29.4L88.5,29.4L89.2,29.4L90,29.4L90.8,29.4L91.5,29.4L92.2,29.4L93,29.4L93.8,29.4L94.5,29.4L95.2,29.4L96,29.4L96.8,29.4L97.5,29.4L98.2,29.4L99,29.4L99.8,29.4L100.5,29.4L101.2,29.4L102,29.4L102.8,29.4L103.5,29.4L104.2,29.4L105,29.4L105.8,29.4L106.5,29.4L107.2,29.4L108,29.4L108.8,29.4L109.5,29.4L110.2,29.4L110.6,29.4L110.4,30.1L110.2,30.6L110.2,30.9L110,31.6L109.7,32.4L109.5,33.1L109.5,33.3L109.3,33.9L109.1,34.6L109,35.4L108.8,36.1L108.8,36.2L108.6,36.9L108.4,37.6L108.2,38.4L108,39.1L108,39.1L107.8,39.9L107.6,40.6L107.4,41.4L107.3,42.1L107.2,42.2L107.1,42.9L106.9,43.6L106.7,44.4L106.6,45.1L106.5,45.4L106.4,45.9L106.2,46.6L106,47.4L105.9,48.1L105.8,48.7L105.7,48.9L105.5,49.6L105.4,50.4L105.2,51.1L105.1,51.9L105,52.2L104.9,52.6L104.7,53.4L104.6,54.1L104.4,54.9L104.3,55.6L104.2,55.9L104.1,56.4L104,57.1L103.8,57.9L103.7,58.6L103.6,59.4L103.5,59.7L103.4,60.1L103.3,60.9L103.1,61.7L103,62.4L102.9,63.1L102.8,63.8L102.7,63.9L102.6,64.7L102.5,65.4L102.3,66.2L102.2,66.9L102.1,67.7L102,68.2L102,68.4L101.8,69.2L101.7,69.9L101.6,70.7L101.5,71.4L101.4,72.2L101.3,72.9L101.2,72.9L101.1,73.7L101,74.4L100.9,75.2L100.8,75.9L100.7,76.7L100.6,77.4L100.5,78L100.5,78.2L100.4,78.9L100.3,79.7L100.2,80.4L100.1,81.2L100,81.9L99.9,82.7L99.8,83.4L99.8,83.7L99.7,84.2L99.6,84.9L99.5,85.7L99.4,86.4L99.3,87.2L99.3,87.9L99.2,88.7L99.1,89.4L99,90.2L99,90.2L98.9,90.9L98.8,91.7L98.8,92.4L98.7,93.2L98.6,93.9L98.5,94.7L98.5,95.4L98.4,96.2L98.3,96.9L98.3,97.7L98.2,97.8L98.2,98.4L98.1,99.2L98.1,99.9L98,100.7L97.9,101.4L97.9,102.2L97.8,102.9L97.8,103.7L97.7,104.4L97.7,105.2L97.6,105.9L97.6,106.7L97.5,107.4L97.5,107.5L97.5,108.2L97.4,108.9L97.4,109.7L97.3,110.4L97.3,111.2L97.2,111.9L97.2,112.7L97.2,113.4L97.1,114.2L97.1,114.9L97.1,115.7L97,116.4L97,117.2L97,117.9L96.9,118.7L96.9,119.4L96.9,120.2L96.8,120.9L96.8,121.7L96.8,122.4L96.8,123.2L96.8,123.9L96.8,124.2L96.7,124.7L96.7,125.4L96.7,126.2L96.7,126.9L96.7,127.7L96.7,128.4L96.7,129.2L96.6,129.9L96.6,130.7L96.6,131.4L96.6,132.2L96.6,132.9L96.6,133.7L96.6,134.4L96.6,135.2L96.6,135.9L96.6,136.7L96.6,137.4L96.6,138.2L96.6,138.9L96.6,139.7L96.7,140.4L96.7,141.2L96.7,141.9L96.7,142.7L96.7,143.4L96.7,144.1L96.7,144.9L96.8,145.4L96.8,145.7L96.8,146.4L96.8,147.2L96.8,147.9L96.8,148.7L96.9,149.4L96.9,150.2L96.9,150.9L97,151.7L97,152.4L97,153.2L97,153.9L97.1,154.7L97.1,155.4L97.2,156.2L97.2,156.9L97.2,157.7L97.3,158.4L97.3,159.1L97.4,159.9L97.4,160.7L97.5,161.4L97.5,162.1L97.5,162.2L97.6,162.9L97.6,163.7L97.7,164.4L97.7,165.2L97.8,165.9L97.8,166.7L97.9,167.4L97.9,168.2L98,168.9L98.1,169.6L98.1,170.4L98.2,171.2L98.2,171.9L98.2,171.9L98.3,172.7L98.4,173.4L98.5,174.2L98.5,174.9L98.6,175.7L98.7,176.4L98.7,177.2L98.8,177.9L98.9,178.7L99,179.4L99,179.6L99.1,180.2L99.1,180.9L99.2,181.7L99.3,182.4L99.4,183.2L99.5,183.9L99.6,184.7L99.7,185.4L99.7,186.2L99.8,186.2L99.8,186.9L99.9,187.6L100,188.4L100.1,189.2L100.2,189.9L100.3,190.7L100.4,191.4L100.5,191.9L100.5,192.2L100.6,192.9L100.7,193.7L100.8,194.4L101,195.2L101.1,195.9L101.2,196.7L101.2,197.2L101.3,197.4L101.4,198.2L101.5,198.9L101.6,199.7L101.7,200.4L101.9,201.2L102,201.9L102,202L102.1,202.7L102.2,203.4L102.4,204.2L102.5,204.9L102.6,205.7L102.7,206.4L102.8,206.4L102.9,207.2L103,207.9L103.1,208.6L103.3,209.4L103.4,210.1L103.5,210.6L103.6,210.9L103.7,211.6L103.8,212.4L104,213.1L104.1,213.9L104.2,214.5L104.3,214.7L104.4,215.4L104.6,216.2L104.7,216.9L104.9,217.7L105,218.3L105,218.4L105.2,219.2L105.3,219.9L105.5,220.7L105.7,221.4L105.8,221.9L105.8,222.2L106,222.9L106.1,223.7L106.3,224.4L105.8,224.4L105,224.4L104.2,224.4L103.5,224.4L102.8,224.4L102,224.4L101.2,224.4L100.5,224.4L99.8,224.4L99,224.4L98.2,224.4L97.5,224.4L96.8,224.4L96,224.4L95.2,224.4L94.5,224.4L93.8,224.4L93,224.4L92.2,224.4L91.5,224.4L90.8,224.4L90,224.4L89.2,224.4L88.5,224.4L87.8,224.4L87,224.4L86.2,224.4L85.5,224.4L84.8,224.4L84,224.4L83.2,224.4L82.5,224.4L81.8,224.4L81,224.4L80.2,224.4L79.5,224.4L78.8,224.4L78,224.4L77.2,224.4L76.5,224.4L75.8,224.4L75,224.4L74.2,224.4L73.5,224.4L72.8,224.4L72,224.4L71.2,224.4L70.5,224.4L69.8,224.4L69,224.4L68.2,224.4L67.5,224.4L66.8,224.4L66,224.4L65.2,224.4L64.5,224.4L63.8,224.4L63,224.4L62.2,224.4L61.5,224.4L60.8,224.4L60,224.4L59.2,224.4L58.5,224.4L57.8,224.4L57,224.4L56.2,224.4L55.5,224.4L54.8,224.4L54,224.4L53.2,224.4L52.5,224.4L51.8,224.4L51,224.4L50.2,224.4L49.5,224.4L48.8,224.4L48,224.4L47.2,224.4L46.5,224.4L45.8,224.4L45,224.4L44.2,224.4L43.5,224.4L42.8,224.4L42,224.4L41.2,224.4L40.5,224.4L39.8,224.4L39,224.4L38.2,224.4L37.5,224.4L36.8,224.4L36,224.4L36,223.7L36,222.9L36,222.2L36,221.4L36,220.7L36,219.9L36,219.2L36,218.4L36,217.7L36,216.9L36,216.2L36,215.4L36,214.7L36,213.9L36,213.2L36,212.4L36,211.7L36,210.9L36,210.2L36,209.4L36,208.7L36,207.9L36,207.2L36,206.4L36,205.7L36,204.9L36,204.2L36,203.4L36,202.7L36,201.9L36,201.2L36,200.4L36,199.7L36,198.9L36,198.2L36,197.4L36,196.7L36,195.9L36,195.2L36,194.4L36,193.7L36,192.9L36,192.2L36,191.4L36,190.7L36,189.9L36,189.2L36,188.4L36,187.7L36,186.9L36,186.2L36,185.4L36,184.7L36,183.9L36,183.2L36,182.4L36,181.7L36,180.9L36,180.2L36,179.4L36,178.7L36,177.9L36,177.2L36,176.4L36,175.7L36,174.9L36,174.2L36,173.4L36,172.7L36,171.9L36,171.2L36,170.4L36,169.7L36,168.9L36,168.2L36,167.4L36,166.7L36,165.9L36,165.2L36,164.4L36,163.7L36,162.9L36,162.2L36,161.4L36,160.7L36,159.9L36,159.2L36,158.4L36,157.7L36,156.9L36,156.2L36,155.4L36,154.7L36,153.9L36,153.2L36,152.4L36,151.7L36,150.9L36,150.2L36,149.4L36,148.7L36,147.9L36,147.2L36,146.4L36,145.7L36,144.9L36,144.2L36,143.4L36,142.7L36,141.9L36,141.2L36,140.4L36,139.7L36,138.9L36,138.2L36,137.4L36,136.7L36,135.9L36,135.2L36,134.4L36,133.7L36,132.9L36,132.2L36,131.4L36,130.7L36,129.9L36,129.2L36,128.4L36,127.7L36,126.9L36,126.2L36,125.4L36,124.7L36,123.9L36,123.2L36,122.4L36,121.7L36,120.9L36,120.2L36,119.4L36,118.7L36,117.9L36,117.2L36,116.4L36,115.7L36,114.9L36,114.2L36,113.4L36,112.7L36,111.9L36,111.2L36,110.4L36,109.7L36,108.9L36,108.2L36,107.4L36,106.7L36,105.9L36,105.2L36,104.4L36,103.7L36,102.9L36,102.2L36,101.4L36,100.7L36,99.9L36,99.2L36,98.4L36,97.7L36,96.9L36,96.2L36,95.4L36,94.7L36,93.9L36,93.2L36,92.4L36,91.7L36,90.9L36,90.2L36,89.4L36,88.7L36,87.9L36,87.2L36,86.4L36,85.7L36,84.9L36,84.2L36,83.4L36,82.7L36,81.9L36,81.2L36,80.4L36,79.7L36,78.9L36,78.2L36,77.4L36,76.7L36,75.9L36,75.2L36,74.4L36,73.7L36,72.9L36,72.2L36,71.4L36,70.7L36,69.9L36,69.2L36,68.4L36,67.7L36,66.9L36,66.2L36,65.4L36,64.7L36,63.9L36,63.1L36,62.4L36,61.6L36,60.9L36,60.1L36,59.4L36,58.6L36,57.9L36,57.1L36,56.4L36,55.6L36,54.9L36,54.1L36,53.4L36,52.6L36,51.9L36,51.1L36,50.4L36,49.6L36,48.9L36,48.1L36,47.4L36,46.6L36,45.9L36,45.1L36,44.4L36,43.6L36,42.9L36,42.1L36,41.4L36,40.6L36,39.9L36,39.1L36,38.4L36,37.6L36,36.9L36,36.1L36,35.4L36,34.6L36,33.9L36,33.1L36,32.4L36,31.6L36,30.9L36,30.1Z" fill="#7ea7dc"/>
<path d="M36,29.4L36.8,29.4L37.5,29.4L38.2,29.4L39,29.4L39.8,29.4L40.5,29.4L41.2,29.4L42,29.4L42.8,29.4L43.5,29.4L44.2,29.4L45,29.4L45.8,29.4L46.5,29.4L47.2,29.4L48,29.4L48.8,29.4L49.5,29.4L50.2,29.4L51,29.4L51.8,29.4L52.5,29.4L53.2,29.4L54,29.4L54.8,29.4L55.5,29.4L56.2,29.4L57,29.4L57.8,29.4L58.5,29.4L59.2,29.4L60,29.4L60.8,29.4L61.5,29.4L62.2,29.4L63,29.4L63.8,29.4L64.5,29.4L65.2,29.4L66,29.4L66.8,29.4L67.5,29.4L68.2,29.4L69,29.4L69.8,29.4L70.5,29.4L71.2,29.4L72,29.4L72.8,29.4L73.5,29.4L74.2,29.4L75,29.4L75.8,29.4L76.5,29.4L77.2,29.4L78,29.4L78.8,29.4L79.5,29.4L80.2,29.4L81,29.4L81.8,29.4L82.5,29.4L83.2,29.4L84,29.4L84.8,29.4L85.5,29.4L86.2,29.4L87,29.4L87.8,29.4L88.5,29.4L89,29.4L88.8,30.1L88.6,30.9L88.5,31.5L88.5,31.6L88.3,32.4L88.1,33.1L87.9,33.9L87.8,34.6L87.8,34.8L87.6,35.4L87.4,36.1L87.3,36.9L87.1,37.6L87,38.2L87,38.4L86.8,39.1L86.6,39.9L86.5,40.6L86.3,41.4L86.2,41.7L86.2,42.1L86,42.9L85.9,43.6L85.7,44.4L85.6,45.1L85.5,45.4L85.4,45.9L85.3,46.6L85.1,47.4L85,48.1L84.8,48.9L84.8,49.3L84.7,49.6L84.5,50.4L84.4,51.2L84.3,51.9L84.1,52.6L84,53.4L84,53.4L83.9,54.1L83.7,54.9L83.6,55.6L83.5,56.4L83.4,57.1L83.2,57.8L83.2,57.9L83.1,58.6L83,59.4L82.9,60.1L82.7,60.9L82.6,61.6L82.5,62.4L82.5,62.4L82.4,63.2L82.3,63.9L82.2,64.7L82,65.4L81.9,66.2L81.8,66.9L81.8,67.4L81.7,67.7L81.6,68.4L81.5,69.2L81.4,69.9L81.3,70.7L81.2,71.4L81.1,72.2L81,72.8L81,72.9L80.9,73.7L80.8,74.4L80.7,75.2L80.6,75.9L80.5,76.7L80.4,77.4L80.3,78.2L80.2,78.8L80.2,78.9L80.2,79.7L80.1,80.4L80,81.2L79.9,81.9L79.8,82.7L79.7,83.4L79.7,84.2L79.6,84.9L79.5,85.6L79.5,85.7L79.4,86.4L79.3,87.2L79.3,87.9L79.2,88.7L79.1,89.4L79.1,90.2L79,90.9L78.9,91.7L78.9,92.4L78.8,93.2L78.8,93.6L78.7,93.9L78.7,94.7L78.6,95.4L78.5,96.2L78.5,96.9L78.4,97.7L78.4,98.4L78.3,99.2L78.3,99.9L78.2,100.7L78.1,101.4L78.1,102.2L78,102.9L78,103.6L78,103.7L78,104.4L77.9,105.2L77.9,105.9L77.8,106.7L77.8,107.4L77.7,108.2L77.7,108.9L77.7,109.7L77.6,110.4L77.6,111.2L77.5,111.9L77.5,112.7L77.5,113.4L77.4,114.2L77.4,114.9L77.4,115.7L77.4,116.4L77.3,117.2L77.3,117.9L77.3,118.7L77.3,119.4L77.2,119.8L77.2,120.2L77.2,120.9L77.2,121.7L77.2,122.4L77.2,123.2L77.1,123.9L77.1,124.7L77.1,125.4L77.1,126.2L77.1,126.9L77.1,127.7L77.1,128.4L77.1,129.2L77.1,129.9L77.1,130.7L77.1,131.4L77,132.2L77,132.9L77,133.7L77,134.4L77,135.2L77.1,135.9L77.1,136.7L77.1,137.4L77.1,138.2L77.1,138.9L77.1,139.7L77.1,140.4L77.1,141.2L77.1,141.9L77.1,142.7L77.1,143.4L77.2,144.2L77.2,144.9L77.2,145.7L77.2,146.4L77.2,147.2L77.2,147.6L77.3,147.9L77.3,148.7L77.3,149.4L77.3,150.2L77.4,150.9L77.4,151.7L77.4,152.4L77.4,153.2L77.5,153.9L77.5,154.7L77.5,155.4L77.6,156.2L77.6,156.9L77.6,157.7L77.7,158.4L77.7,159.2L77.8,159.9L77.8,160.7L77.9,161.4L77.9,162.2L77.9,162.9L78,163.7L78,163.9L78,164.4L78.1,165.2L78.1,165.9L78.2,166.7L78.2,167.4L78.3,168.2L78.3,168.9L78.4,169.7L78.5,170.4L78.5,171.2L78.6,171.9L78.6,172.7L78.7,173.4L78.8,174L78.8,174.2L78.8,174.9L78.9,175.7L79,176.4L79,177.2L79.1,177.9L79.2,178.7L79.2,179.4L79.3,180.2L79.4,180.9L79.5,181.7L79.5,182.1L79.5,182.4L79.6,183.2L79.7,183.9L79.8,184.7L79.9,185.4L79.9,186.1L80,186.9L80.1,187.7L80.2,188.4L80.2,188.9L80.3,189.2L80.4,189.9L80.5,190.7L80.5,191.4L80.6,192.2L80.7,192.9L80.8,193.6L80.9,194.4L81,195L81,195.2L81.1,195.9L81.2,196.7L81.3,197.4L81.4,198.2L81.5,198.9L81.6,199.7L81.7,200.4L81.8,200.5L81.8,201.2L81.9,201.9L82.1,202.7L82.2,203.4L82.3,204.2L82.4,204.9L82.5,205.6L82.5,205.7L82.6,206.4L82.7,207.2L82.9,207.9L83,208.7L83.1,209.4L83.2,210.2L83.2,210.3L83.3,210.9L83.5,211.6L83.6,212.4L83.7,213.2L83.9,213.9L84,214.7L84,214.7L84.1,215.4L84.2,216.2L84.4,216.9L84.5,217.7L84.7,218.4L84.8,218.9L84.8,219.2L84.9,219.9L85.1,220.7L85.2,221.4L85.4,222.2L85.5,222.9L85.5,222.9L85.6,223.7L85.8,224.4L85.5,224.4L84.8,224.4L84,224.4L83.2,224.4L82.5,224.4L81.8,224.4L81,224.4L80.2,224.4L79.5,224.4L78.8,224.4L78,224.4L77.2,224.4L76.5,224.4L75.8,224.4L75,224.4L74.2,224.4L73.5,224.4L72.8,224.4L72,224.4L71.2,224.4L70.5,224.4L69.8,224.4L69,224.4L68.2,224.4L67.5,224.4L66.8,224.4L66,224.4L65.2,224.4L64.5,224.4L63.8,224.4L63,224.4L62.2,224.4L61.5,224.4L60.8,224.4L60,224.4L59.2,224.4L58.5,224.4L57.8,224.4L57,224.4L56.2,224.4L55.5,224.4L54.8,224.4L54,224.4L53.2,224.4L52.5,224.4L51.8,224.4L51,224.4L50.2,224.4L49.5,224.4L48.8,224.4L48,224.4L47.2,224.4L46.5,224.4L45.8,224.4L45,224.4L44.2,224.4L43.5,224.4L42.8,224.4L42,224.4L41.2,224.4L40.5,224.4L39.8,224.4L39,224.4L38.2,224.4L37.5,224.4L36.8,224.4L36,224.4L36,223.7L36,222.9L36,222.2L36,221.4L36,220.7L36,219.9L36,219.2L36,218.4L36,217.7L36,216.9L36,216.2L36,215.4L36,214.7L36,213.9L36,213.2L36,212.4L36,211.7L36,210.9L36,210.2L36,209.4L36,208.7L36,207.9L36,207.2L36,206.4L36,205.7L36,204.9L36,204.2L36,203.4L36,202.7L36,201.9L36,201.2L36,200.4L36,199.7L36,198.9L36,198.2L36,197.4L36,196.7L36,195.9L36,195.2L36,194.4L36,193.7L36,192.9L36,192.2L36,191.4L36,190.7L36,189.9L36,189.2L36,188.4L36,187.7L36,186.9L36,186.2L36,185.4L36,184.7L36,183.9L36,183.2L36,182.4L36,181.7L36,180.9L36,180.2L36,179.4L36,178.7L36,177.9L36,177.2L36,176.4L36,175.7L36,174.9L36,174.2L36,173.4L36,172.7L36,171.9L36,171.2L36,170.4L36,169.7L36,168.9L36,168.2L36,167.4L36,166.7L36,165.9L36,165.2L36,164.4L36,163.7L36,162.9L36,162.2L36,161.4L36,160.7L36,159.9L36,159.2L36,158.4L36,157.7L36,156.9L36,156.2L36,155.4L36,154.7L36,153.9L36,153.2L36,152.4L36,151.7L36,150.9L36,150.2L36,149.4L36,148.7L36,147.9L36,147.2L36,146.4L36,145.7L36,144.9L36,144.2L36,143.4L36,142.7L36,141.9L36,141.2L36,140.4L36,139.7L36,138.9L36,138.2L36,137.4L36,136.7L36,135.9L36,135.2L36,134.4L36,133.7L36,132.9L36,132.2L36,131.4L36,130.7L36,129.9L36,129.2L36,128.4L36,127.7L36,126.9L36,126.2L36,125.4L36,124.7L36,123.9L36,123.2L36,122.4L36,121.7L36,120.9L36,120.2L36,119.4L36,118.7L36,117.9L36,117.2L36,116.4L36,115.7L36,114.9L36,114.2L36,113.4L36,112.7L36,111.9L36,111.2L36,110.4L36,109.7L36,108.9L36,108.2L36,107.4L36,106.7L36,105.9L36,105.2L36,104.4L36,103.7L36,102.9L36,102.2L36,101.4L36,100.7L36,99.9L36,99.2L36,98.4L36,97.7L36,96.9L36,96.2L36,95.4L36,94.7L36,93.9L36,93.2L36,92.4L36,91.7L36,90.9L36,90.2L36,89.4L36,88.7L36,87.9L36,87.2L36,86.4L36,85.7L36,84.9L36,84.2L36,83.4L36,82.7L36,81.9L36,81.2L36,80.4L36,79.7L36,78.9L36,78.2L36,77.4L36,76.7L36,75.9L36,75.2L36,74.4L36,73.7L36,72.9L36,72.2L36,71.4L36,70.7L36,69.9L36,69.2L36,68.4L36,67.7L36,66.9L36,66.2L36,65.4L36,64.7L36,63.9L36,63.1L36,62.4L36,61.6L36,60.9L36,60.1L36,59.4L36,58.6L36,57.9L36,57.1L36,56.4L36,55.6L36,54.9L36,54.1L36,53.4L36,52.6L36,51.9L36,51.1L36,50.4L36,49.6L36,48.9L36,48.1L36,47.4L36,46.6L36,45.9L36,45.1L36,44.4L36,43.6L36,42.9L36,42.1L36,41.4L36,40.6L36,39.9L36,39.1L36,38.4L36,37.6L36,36.9L36,36.1L36,35.4L36,34.6L36,33.9L36,33.1L36,32.4L36,31.6L36,30.9L36,30.1Z" fill="#2a60e2"/>
<path d="M36,29.4L36.8,29.4L37.5,29.4L38.2,29.4L39,29.4L39.8,29.4L40.5,29.4L41.2,29.4L42,29.4L42.8,29.4L43.5,29.4L44.2,29.4L45,29.4L45.8,29.4L46.5,29.4L47.2,29.4L48,29.4L48.8,29.4L49.5,29.4L50.2,29.4L51,29.4L51.8,29.4L52.5,29.4L53.2,29.4L54,29.4L54.8,29.4L55.5,29.4L56.2,29.4L57,29.4L57.8,29.4L58.5,29.4L59.2,29.4L60,29.4L60.8,29.4L61.5,29.4L62.2,29.4L63,29.4L63.8,29.4L64.5,29.4L65.2,29.4L66,29.4L66.8,29.4L67.5,29.4L68.2,29.4L69,29.4L69.8,29.4L70,29.4L69.9,30.1L69.8,30.8L69.7,30.9L69.6,31.6L69.4,32.4L69.3,33.1L69.1,33.9L69,34.5L69,34.6L68.8,35.4L68.7,36.1L68.5,36.9L68.4,37.6L68.2,38.3L68.2,38.4L68.1,39.2L67.9,39.9L67.8,40.6L67.7,41.4L67.5,42.1L67.5,42.3L67.4,42.9L67.3,43.6L67.1,44.4L67,45.1L66.9,45.9L66.8,46.6L66.7,46.7L66.6,47.4L66.5,48.1L66.4,48.9L66.2,49.6L66.1,50.4L66,51L66,51.1L65.9,51.9L65.7,52.6L65.6,53.4L65.5,54.1L65.4,54.9L65.3,55.6L65.2,55.8L65.2,56.4L65,57.1L64.9,57.9L64.8,58.6L64.7,59.4L64.6,60.1L64.5,60.9L64.5,60.9L64.4,61.6L64.3,62.4L64.2,63.1L64.1,63.9L64,64.7L63.9,65.4L63.8,66.2L63.8,66.4L63.7,66.9L63.6,67.7L63.5,68.4L63.4,69.2L63.3,69.9L63.2,70.7L63.1,71.4L63,72.2L63,72.4L62.9,72.9L62.9,73.7L62.8,74.4L62.7,75.2L62.6,75.9L62.5,76.7L62.4,77.4L62.4,78.2L62.3,78.9L62.2,79.2L62.2,79.7L62.1,80.4L62.1,81.2L62,81.9L61.9,82.7L61.8,83.4L61.8,84.2L61.7,84.9L61.6,85.7L61.6,86.4L61.5,87L61.5,87.2L61.4,87.9L61.4,88.7L61.3,89.4L61.2,90.2L61.2,90.9L61.1,91.7L61.1,92.4L61,93.2L60.9,93.9L60.9,94.7L60.8,95.4L60.8,96.2L60.8,96.5L60.7,96.9L60.7,97.6L60.6,98.4L60.6,99.2L60.5,99.9L60.5,100.7L60.4,101.4L60.4,102.2L60.3,102.9L60.3,103.7L60.3,104.4L60.2,105.2L60.2,105.9L60.1,106.7L60.1,107.4L60.1,108.2L60,108.9L60,109.6L60,109.7L60,110.4L59.9,111.2L59.9,111.9L59.9,112.7L59.8,113.4L59.8,114.2L59.8,114.9L59.8,115.7L59.7,116.4L59.7,117.2L59.7,117.9L59.7,118.7L59.7,119.4L59.6,120.2L59.6,120.9L59.6,121.7L59.6,122.4L59.6,123.2L59.6,123.9L59.6,124.7L59.5,125.4L59.5,126.2L59.5,126.9L59.5,127.7L59.5,128.4L59.5,129.2L59.5,129.9L59.5,130.7L59.5,131.4L59.5,132.2L59.5,132.9L59.5,133.7L59.5,134.4L59.5,135.2L59.5,135.9L59.5,136.7L59.5,137.4L59.5,138.2L59.5,138.9L59.5,139.7L59.5,140.4L59.6,141.2L59.6,141.9L59.6,142.7L59.6,143.4L59.6,144.2L59.6,144.9L59.7,145.7L59.7,146.4L59.7,147.2L59.7,147.9L59.7,148.7L59.8,149.4L59.8,150.1L59.8,150.9L59.8,151.7L59.9,152.4L59.9,153.2L59.9,153.9L59.9,154.7L60,155.4L60,155.9L60,156.2L60,156.9L60.1,157.7L60.1,158.4L60.2,159.2L60.2,159.9L60.2,160.7L60.3,161.4L60.3,162.2L60.4,162.9L60.4,163.6L60.4,164.4L60.5,165.2L60.5,165.9L60.6,166.6L60.6,167.4L60.7,168.2L60.7,168.9L60.8,169.1L60.8,169.7L60.8,170.4L60.9,171.2L60.9,171.9L61,172.7L61.1,173.4L61.1,174.2L61.2,174.9L61.2,175.7L61.3,176.4L61.4,177.2L61.4,177.9L61.5,178.7L61.5,178.7L61.6,179.4L61.6,180.2L61.7,180.9L61.8,181.7L61.8,182.4L61.9,183.2L62,183.9L62.1,184.6L62.1,185.4L62.2,186.2L62.2,186.6L62.3,186.9L62.4,187.7L62.4,188.4L62.5,189.2L62.6,189.9L62.7,190.7L62.8,191.4L62.9,192.2L62.9,192.9L63,193.4L63,193.7L63.1,194.4L63.2,195.2L63.3,195.9L63.4,196.6L63.5,197.4L63.6,198.1L63.7,198.9L63.8,199.5L63.8,199.7L63.9,200.4L64,201.2L64.1,201.9L64.2,202.6L64.3,203.4L64.4,204.2L64.5,204.9L64.5,205.1L64.6,205.7L64.7,206.4L64.8,207.2L64.9,207.9L65,208.7L65.1,209.4L65.2,210.2L65.2,210.3L65.3,210.9L65.5,211.6L65.6,212.4L65.7,213.2L65.8,213.9L65.9,214.7L66,215.1L66,215.4L66.2,216.2L66.3,216.9L66.4,217.7L66.5,218.4L66.7,219.1L66.8,219.7L66.8,219.9L66.9,220.6L67,221.4L67.2,222.2L67.3,222.9L67.4,223.7L67.5,224L67.6,224.4L67.5,224.4L66.8,224.4L66,224.4L65.2,224.4L64.5,224.4L63.8,224.4L63,224.4L62.2,224.4L61.5,224.4L60.8,224.4L60,224.4L59.2,224.4L58.5,224.4L57.8,224.4L57,224.4L56.2,224.4L55.5,224.4L54.8,224.4L54,224.4L53.2,224.4L52.5,224.4L51.8,224.4L51,224.4L50.2,224.4L49.5,224.4L48.8,224.4L48,224.4L47.2,224.4L46.5,224.4L45.8,224.4L45,224.4L44.2,224.4L43.5,224.4L42.8,224.4L42,224.4L41.2,224.4L40.5,224.4L39.8,224.4L39,224.4L38.2,224.4L37.5,224.4L36.8,224.4L36,224.4L36,223.7L36,222.9L36,222.2L36,221.4L36,220.7L36,219.9L36,219.2L36,218.4L36,217.7L36,216.9L36,216.2L36,215.4L36,214.7L36,213.9L36,213.2L36,212.4L36,211.7L36,210.9L36,210.2L36,209.4L36,208.7L36,207.9L36,207.2L36,206.4L36,205.7L36,204.9L36,204.2L36,203.4L36,202.7L36,201.9L36,201.2L36,200.4L36,199.7L36,198.9L36,198.2L36,197.4L36,196.7L36,195.9L36,195.2L36,194.4L36,193.7L36,192.9L36,192.2L36,191.4L36,190.7L36,189.9L36,189.2L36,188.4L36,187.7L36,186.9L36,186.2L36,185.4L36,184.7L36,183.9L36,183.2L36,182.4L36,181.7L36,180.9L36,180.2L36,179.4L36,178.7L36,177.9L36,177.2L36,176.4L36,175.7L36,174.9L36,174.2L36,173.4L36,172.7L36,171.9L36,171.2L36,170.4L36,169.7L36,168.9L36,168.2L36,167.4L36,166.7L36,165.9L36,165.2L36,164.4L36,163.7L36,162.9L36,162.2L36,161.4L36,160.7L36,159.9L36,159.2L36,158.4L36,157.7L36,156.9L36,156.2L36,155.4L36,154.7L36,153.9L36,153.2L36,152.4L36,151.7L36,150.9L36,150.2L36,149.4L36,148.7L36,147.9L36,147.2L36,146.4L36,145.7L36,144.9L36,144.2L36,143.4L36,142.7L36,141.9L36,141.2L36,140.4L36,139.7L36,138.9L36,138.2L36,137.4L36,136.7L36,135.9L36,135.2L36,134.4L36,133.7L36,132.9L36,132.2L36,131.4L36,130.7L36,129.9L36,129.2L36,128.4L36,127.7L36,126.9L36,126.2L36,125.4L36,124.7L36,123.9L36,123.2L36,122.4L36,121.7L36,120.9L36,120.2L36,119.4L36,118.7L36,117.9L36,117.2L36,116.4L36,115.7L36,114.9L36,114.2L36,113.4L36,112.7L36,111.9L36,111.2L36,110.4L36,109.7L36,108.9L36,108.2L36,107.4L36,106.7L36,105.9L36,105.2L36,104.4L36,103.7L36,102.9L36,102.2L36,101.4L36,100.7L36,99.9L36,99.2L36,98.4L36,97.7L36,96.9L36,96.2L36,95.4L36,94.7L36,93.9L36,93.2L36,92.4L36,91.7L36,90.9L36,90.2L36,89.4L36,88.7L36,87.9L36,87.2L36,86.4L36,85.7L36,84.9L36,84.2L36,83.4L36,82.7L36,81.9L36,81.2L36,80.4L36,79.7L36,78.9L36,78.2L36,77.4L36,76.7L36,75.9L36,75.2L36,74.4L36,73.7L36,72.9L36,72.2L36,71.4L36,70.7L36,69.9L36,69.2L36,68.4L36,67.7L36,66.9L36,66.2L36,65.4L36,64.7L36,63.9L36,63.1L36,62.4L36,61.6L36,60.9L36,60.1L36,59.4L36,58.6L36,57.9L36,57.1L36,56.4L36,55.6L36,54.9L36,54.1L36,53.4L36,52.6L36,51.9L36,51.1L36,50.4L36,49.6L36,48.9L36,48.1L36,47.4L36,46.6L36,45.9L36,45.1L36,44.4L36,43.6L36,42.9L36,42.1L36,41.4L36,40.6L36,39.9L36,39.1L36,38.4L36,37.6L36,36.9L36,36.1L36,35.4L36,34.6L36,33.9L36,33.1L36,32.4L36,31.6L36,30.9L36,30.1Z" fill="#1212e6"/>
<path d="M36,29.4L36.8,29.4L37.5,29.4L38.2,29.4L39,29.4L39.8,29.4L40.5,29.4L41.2,29.4L42,29.4L42.8,29.4L43.5,29.4L44.2,29.4L45,29.4L45.8,29.4L46.5,29.4L47.2,29.4L48,29.4L48.8,29.4L49.5,29.4L50.2,29.4L51,29.4L51.8,29.4L52.5,29.4L52.9,29.4L52.8,30.1L52.7,30.9L52.5,31.6L52.5,31.7L52.4,32.4L52.2,33.1L52.1,33.9L52,34.6L51.8,35.4L51.8,35.8L51.7,36.1L51.6,36.9L51.4,37.6L51.3,38.4L51.2,39.1L51,39.9L51,40.2L50.9,40.6L50.8,41.4L50.7,42.2L50.5,42.9L50.4,43.6L50.3,44.4L50.2,44.7L50.2,45.1L50.1,45.9L49.9,46.6L49.8,47.4L49.7,48.1L49.6,48.9L49.5,49.6L49.5,49.6L49.4,50.4L49.3,51.1L49.2,51.9L49,52.6L48.9,53.4L48.8,54.1L48.8,54.7L48.7,54.9L48.6,55.6L48.5,56.4L48.4,57.1L48.3,57.9L48.2,58.6L48.1,59.4L48,60.1L48,60.3L47.9,60.9L47.8,61.7L47.7,62.4L47.6,63.2L47.5,63.9L47.5,64.7L47.4,65.4L47.3,66.2L47.2,66.3L47.2,66.9L47.1,67.7L47,68.4L46.9,69.2L46.8,69.9L46.8,70.7L46.7,71.4L46.6,72.2L46.5,72.9L46.5,73.1L46.4,73.7L46.4,74.4L46.3,75.2L46.2,75.9L46.1,76.7L46.1,77.4L46,78.2L45.9,78.9L45.8,79.7L45.8,80.4L45.8,80.7L45.7,81.2L45.6,81.9L45.6,82.7L45.5,83.4L45.4,84.2L45.4,84.9L45.3,85.7L45.3,86.4L45.2,87.2L45.1,87.9L45.1,88.7L45,89.4L45,89.7L45,90.2L44.9,90.9L44.9,91.7L44.8,92.4L44.8,93.2L44.7,93.9L44.7,94.7L44.6,95.4L44.6,96.2L44.5,96.9L44.5,97.7L44.4,98.4L44.4,99.2L44.3,99.9L44.3,100.7L44.2,101.4L44.2,101.4L44.2,102.2L44.2,102.9L44.1,103.7L44.1,104.4L44.1,105.2L44,105.9L44,106.7L44,107.4L43.9,108.2L43.9,108.9L43.9,109.7L43.8,110.4L43.8,111.2L43.8,111.9L43.8,112.7L43.7,113.4L43.7,114.2L43.7,114.9L43.7,115.7L43.6,116.4L43.6,117.2L43.6,117.9L43.6,118.7L43.6,119.4L43.6,120.2L43.5,120.9L43.5,121.7L43.5,122.4L43.5,123.1L43.5,123.2L43.5,123.9L43.5,124.7L43.5,125.4L43.5,126.1L43.5,126.9L43.4,127.7L43.4,128.4L43.4,129.2L43.4,129.9L43.4,130.7L43.4,131.4L43.4,132.2L43.4,132.9L43.4,133.7L43.4,134.4L43.4,135.2L43.4,135.9L43.5,136.7L43.5,137.4L43.5,138.2L43.5,138.9L43.5,139.7L43.5,140.4L43.5,140.5L43.5,141.2L43.5,141.9L43.5,142.7L43.6,143.4L43.6,144.2L43.6,144.9L43.6,145.7L43.6,146.4L43.6,147.2L43.7,147.9L43.7,148.7L43.7,149.4L43.7,150.2L43.8,150.9L43.8,151.7L43.8,152.4L43.8,153.2L43.9,153.9L43.9,154.7L43.9,155.4L44,156.2L44,156.9L44,157.7L44.1,158.4L44.1,159.2L44.1,159.9L44.2,160.7L44.2,161.4L44.2,162.2L44.2,162.4L44.3,162.9L44.3,163.7L44.4,164.4L44.4,165.2L44.4,165.9L44.5,166.7L44.5,167.4L44.6,168.2L44.6,168.9L44.7,169.7L44.7,170.4L44.8,171.2L44.8,171.9L44.9,172.7L44.9,173.4L45,174.1L45,174.2L45.1,174.9L45.1,175.6L45.2,176.4L45.2,177.2L45.3,177.9L45.4,178.7L45.4,179.4L45.5,180.2L45.5,180.9L45.6,181.7L45.7,182.4L45.7,183.2L45.8,183.3L45.8,183.9L45.9,184.7L45.9,185.4L46,186.2L46.1,186.9L46.2,187.7L46.2,188.4L46.3,189.2L46.4,189.9L46.5,190.7L46.5,191L46.5,191.4L46.6,192.2L46.7,192.9L46.8,193.7L46.9,194.4L47,195.2L47,195.9L47.1,196.7L47.2,197.4L47.2,197.8L47.3,198.2L47.4,198.9L47.5,199.7L47.6,200.4L47.7,201.2L47.7,201.9L47.8,202.7L47.9,203.4L48,203.9L48,204.2L48.1,204.9L48.2,205.7L48.3,206.4L48.4,207.1L48.5,207.9L48.6,208.7L48.7,209.4L48.8,209.5L48.8,210.2L48.9,210.9L49,211.7L49.2,212.4L49.3,213.2L49.4,213.9L49.5,214.7L49.5,214.8L49.6,215.4L49.7,216.2L49.8,216.9L49.9,217.7L50,218.4L50.2,219.2L50.2,219.7L50.3,219.9L50.4,220.6L50.5,221.4L50.6,222.2L50.8,222.9L50.9,223.7L51,224.4L51,224.4L51,224.4L50.2,224.4L49.5,224.4L48.8,224.4L48,224.4L47.2,224.4L46.5,224.4L45.8,224.4L45,224.4L44.2,224.4L43.5,224.4L42.8,224.4L42,224.4L41.2,224.4L40.5,224.4L39.8,224.4L39,224.4L38.2,224.4L37.5,224.4L36.8,224.4L36,224.4L36,223.7L36,222.9L36,222.2L36,221.4L36,220.7L36,219.9L36,219.2L36,218.4L36,217.7L36,216.9L36,216.2L36,215.4L36,214.7L36,213.9L36,213.2L36,212.4L36,211.7L36,210.9L36,210.2L36,209.4L36,208.7L36,207.9L36,207.2L36,206.4L36,205.7L36,204.9L36,204.2L36,203.4L36,202.7L36,201.9L36,201.2L36,200.4L36,199.7L36,198.9L36,198.2L36,197.4L36,196.7L36,195.9L36,195.2L36,194.4L36,193.7L36,192.9L36,192.2L36,191.4L36,190.7L36,189.9L36,189.2L36,188.4L36,187.7L36,186.9L36,186.2L36,185.4L36,184.7L36,183.9L36,183.2L36,182.4L36,181.7L36,180.9L36,180.2L36,179.4L36,178.7L36,177.9L36,177.2L36,176.4L36,175.7L36,174.9L36,174.2L36,173.4L36,172.7L36,171.9L36,171.2L36,170.4L36,169.7L36,168.9L36,168.2L36,167.4L36,166.7L36,165.9L36,165.2L36,164.4L36,163.7L36,162.9L36,162.2L36,161.4L36,160.7L36,159.9L36,159.2L36,158.4L36,157.7L36,156.9L36,156.2L36,155.4L36,154.7L36,153.9L36,153.2L36,152.4L36,151.7L36,150.9L36,150.2L36,149.4L36,148.7L36,147.9L36,147.2L36,146.4L36,145.7L36,144.9L36,144.2L36,143.4L36,142.7L36,141.9L36,141.2L36,140.4L36,139.7L36,138.9L36,138.2L36,137.4L36,136.7L36,135.9L36,135.2L36,134.4L36,133.7L36,132.9L36,132.2L36,131.4L36,130.7L36,129.9L36,129.2L36,128.4L36,127.7L36,126.9L36,126.2L36,125.4L36,124.7L36,123.9L36,123.2L36,122.4L36,121.7L36,120.9L36,120.2L36,119.4L36,118.7L36,117.9L36,117.2L36,116.4L36,115.7L36,114.9L36,114.2L36,113.4L36,112.7L36,111.9L36,111.2L36,110.4L36,109.7L36,108.9L36,108.2L36,107.4L36,106.7L36,105.9L36,105.2L36,104.4L36,103.7L36,102.9L36,102.2L36,101.4L36,100.7L36,99.9L36,99.2L36,98.4L36,97.7L36,96.9L36,96.2L36,95.4L36,94.7L36,93.9L36,93.2L36,92.4L36,91.7L36,90.9L36,90.2L36,89.4L36,88.7L36,87.9L36,87.2L36,86.4L36,85.7L36,84.9L36,84.2L36,83.4L36,82.7L36,81.9L36,81.2L36,80.4L36,79.7L36,78.9L36,78.2L36,77.4L36,76.7L36,75.9L36,75.2L36,74.4L36,73.7L36,72.9L36,72.2L36,71.4L36,70.7L36,69.9L36,69.2L36,68.4L36,67.7L36,66.9L36,66.2L36,65.4L36,64.7L36,63.9L36,63.1L36,62.4L36,61.6L36,60.9L36,60.1L36,59.4L36,58.6L36,57.9L36,57.1L36,56.4L36,55.6L36,54.9L36,54.1L36,53.4L36,52.6L36,51.9L36,51.1L36,50.4L36,49.6L36,48.9L36,48.1L36,47.4L36,46.6L36,45.9L36,45.1L36,44.4L36,43.6L36,42.9L36,42.1L36,41.4L36,40.6L36,39.9L36,39.1L36,38.4L36,37.6L36,36.9L36,36.1L36,35.4L36,34.6L36,33.9L36,33.1L36,32.4L36,31.6L36,30.9L36,30.1Z" fill="#0c0ca6"/>
<path d="M51,224.4 51,224.4 50.9,223.7 50.8,222.9 50.6,222.2 50.5,221.4 50.4,220.6 50.3,219.9 50.2,219.7 50.2,219.2 50,218.4 49.9,217.7 49.8,216.9 49.7,216.2 49.6,215.4 49.5,214.8 49.5,214.7 49.4,213.9 49.3,213.2 49.2,212.4 49,211.7 48.9,210.9 48.8,210.2 48.8,209.5 48.7,209.4 48.6,208.7 48.5,207.9 48.4,207.2 48.3,206.4 48.2,205.7 48.1,204.9 48,204.2 48,203.9 47.9,203.4 47.8,202.7 47.7,201.9 47.7,201.2 47.6,200.4 47.5,199.7 47.4,198.9 47.3,198.1 47.2,197.8 47.2,197.4 47.1,196.7 47,195.9 47,195.2 46.9,194.4 46.8,193.6 46.7,192.9 46.6,192.2 46.5,191.4 46.5,191 46.5,190.7 46.4,189.9 46.3,189.2 46.2,188.4 46.2,187.7 46.1,186.9 46,186.2 45.9,185.4 45.9,184.7 45.8,183.9 45.8,183.3 45.7,183.2 45.7,182.4 45.6,181.7 45.5,180.9 45.5,180.2 45.4,179.4 45.4,178.7 45.3,177.9 45.2,177.2 45.2,176.4 45.1,175.7 45.1,174.9 45,174.2 45,174.1 44.9,173.4 44.9,172.7 44.8,171.9 44.8,171.2 44.7,170.4 44.7,169.7 44.6,168.9 44.6,168.2 44.5,167.4 44.5,166.7 44.4,165.9 44.4,165.2 44.4,164.4 44.3,163.7 44.3,162.9 44.2,162.4 44.2,162.2 44.2,161.4 44.2,160.7 44.1,159.9 44.1,159.2 44.1,158.4 44,157.7 44,156.9 44,156.2 43.9,155.4 43.9,154.7 43.9,153.9 43.8,153.1 43.8,152.4 43.8,151.7 43.8,150.9 43.7,150.2 43.7,149.4 43.7,148.7 43.7,147.9 43.6,147.2 43.6,146.4 43.6,145.7 43.6,144.9 43.6,144.1 43.6,143.4 43.5,142.7 43.5,141.9 43.5,141.2 43.5,140.5 43.5,140.4 43.5,139.7 43.5,138.9 43.5,138.2 43.5,137.4 43.5,136.7 43.4,135.9 43.4,135.2 43.4,134.4 43.4,133.7 43.4,132.9 43.4,132.2 43.4,131.4 43.4,130.7 43.4,129.9 43.4,129.2 43.4,128.4 43.4,127.7 43.5,126.9 43.5,126.2 43.5,125.4 43.5,124.7 43.5,123.9 43.5,123.2 43.5,123.1 43.5,122.4 43.5,121.7 43.5,120.9 43.6,120.2 43.6,119.4 43.6,118.7 43.6,117.9 43.6,117.2 43.6,116.4 43.7,115.7 43.7,114.9 43.7,114.2 43.7,113.4 43.8,112.7 43.8,111.9 43.8,111.2 43.8,110.4 43.9,109.7 43.9,108.9 43.9,108.2 44,107.4 44,106.7 44,105.9 44.1,105.2 44.1,104.4 44.1,103.7 44.2,102.9 44.2,102.2 44.2,101.4 44.2,101.4 44.3,100.7 44.3,99.9 44.4,99.2 44.4,98.4 44.5,97.7 44.5,96.9 44.6,96.2 44.6,95.4 44.7,94.7 44.7,93.9 44.8,93.2 44.8,92.4 44.9,91.7 44.9,90.9 45,90.2 45,89.7 45,89.4 45.1,88.7 45.1,87.9 45.2,87.2 45.3,86.4 45.3,85.7 45.4,84.9 45.4,84.2 45.5,83.4 45.6,82.7 45.6,81.9 45.7,81.2 45.8,80.7 45.8,80.4 45.8,79.7 45.9,78.9 46,78.2 46.1,77.4 46.1,76.7 46.2,75.9 46.3,75.2 46.4,74.4 46.4,73.7 46.5,73.1 46.5,72.9 46.6,72.2 46.7,71.4 46.8,70.7 46.8,69.9 46.9,69.2 47,68.4 47.1,67.7 47.2,66.9 47.2,66.3 47.3,66.1 47.4,65.4 47.5,64.7 47.5,63.9 47.6,63.2 47.7,62.4 47.8,61.6 47.9,60.9 48,60.3 48,60.1 48.1,59.4 48.2,58.6 48.3,57.9 48.4,57.1 48.5,56.4 48.6,55.6 48.7,54.9 48.8,54.7 48.8,54.1 48.9,53.4 49,52.6 49.2,51.9 49.3,51.1 49.4,50.4 49.5,49.6 49.5,49.6 49.6,48.9 49.7,48.1 49.8,47.4 49.9,46.6 50.1,45.9 50.2,45.1 50.2,44.7 50.3,44.4 50.4,43.7 50.5,42.9 50.7,42.1 50.8,41.4 50.9,40.6 51,40.2 51,39.9 51.2,39.1 51.3,38.4 51.4,37.6 51.6,36.9 51.7,36.1 51.8,35.8 51.8,35.4 52,34.6 52.1,33.9 52.2,33.1 52.4,32.4 52.5,31.7 52.5,31.6 52.7,30.9 52.8,30.1 52.9,29.4" fill="none" stroke="#050505" stroke-opacity="0.9" stroke-width="0.95"/>
<path d="M67.6,224.4 67.5,224 67.4,223.7 67.3,222.9 67.2,222.2 67,221.4 66.9,220.6 66.8,219.9 66.8,219.7 66.7,219.2 66.5,218.4 66.4,217.7 66.3,216.9 66.2,216.2 66,215.4 66,215.1 65.9,214.6 65.8,213.9 65.7,213.2 65.6,212.4 65.5,211.6 65.3,210.9 65.2,210.3 65.2,210.2 65.1,209.4 65,208.7 64.9,207.9 64.8,207.2 64.7,206.4 64.6,205.6 64.5,205.1 64.5,204.9 64.4,204.2 64.3,203.4 64.2,202.7 64.1,201.9 64,201.1 63.9,200.4 63.8,199.7 63.7,199.5 63.7,198.9 63.6,198.2 63.5,197.4 63.4,196.7 63.3,195.9 63.2,195.2 63.1,194.4 63,193.7 63,193.4 62.9,192.9 62.9,192.1 62.8,191.4 62.7,190.7 62.6,189.9 62.5,189.1 62.4,188.4 62.4,187.7 62.3,186.9 62.2,186.6 62.2,186.2 62.1,185.4 62.1,184.7 62,183.9 61.9,183.2 61.8,182.4 61.8,181.7 61.7,180.9 61.6,180.2 61.6,179.4 61.5,178.7 61.5,178.7 61.4,177.9 61.4,177.2 61.3,176.4 61.2,175.7 61.2,174.9 61.1,174.2 61.1,173.4 61,172.7 60.9,171.9 60.9,171.2 60.8,170.4 60.8,169.7 60.8,169.1 60.7,168.9 60.7,168.2 60.6,167.4 60.6,166.7 60.5,165.9 60.5,165.2 60.4,164.4 60.4,163.7 60.4,162.9 60.3,162.2 60.3,161.4 60.2,160.7 60.2,159.9 60.2,159.1 60.1,158.4 60.1,157.7 60,156.9 60,156.2 60,155.9 60,155.4 59.9,154.7 59.9,153.9 59.9,153.2 59.9,152.4 59.8,151.7 59.8,150.9 59.8,150.2 59.8,149.4 59.7,148.7 59.7,147.9 59.7,147.2 59.7,146.4 59.7,145.7 59.6,144.9 59.6,144.2 59.6,143.4 59.6,142.6 59.6,141.9 59.6,141.2 59.5,140.4 59.5,139.7 59.5,138.9 59.5,138.2 59.5,137.4 59.5,136.7 59.5,135.9 59.5,135.2 59.5,134.4 59.5,133.7 59.5,132.9 59.5,132.2 59.5,131.4 59.5,130.7 59.5,129.9 59.5,129.2 59.5,128.4 59.5,127.7 59.5,126.9 59.5,126.2 59.5,125.4 59.6,124.7 59.6,123.9 59.6,123.2 59.6,122.4 59.6,121.7 59.6,120.9 59.6,120.2 59.7,119.4 59.7,118.7 59.7,117.9 59.7,117.2 59.7,116.4 59.8,115.7 59.8,114.9 59.8,114.2 59.8,113.4 59.9,112.7 59.9,111.9 59.9,111.2 60,110.4 60,109.7 60,109.6 60,108.9 60.1,108.2 60.1,107.4 60.1,106.7 60.2,105.9 60.2,105.2 60.3,104.4 60.3,103.7 60.3,102.9 60.4,102.2 60.4,101.4 60.5,100.7 60.5,99.9 60.6,99.2 60.6,98.4 60.7,97.7 60.7,96.9 60.8,96.5 60.8,96.2 60.8,95.4 60.9,94.7 60.9,93.9 61,93.2 61.1,92.4 61.1,91.7 61.2,90.9 61.2,90.2 61.3,89.4 61.4,88.7 61.4,87.9 61.5,87.2 61.5,87 61.6,86.4 61.6,85.7 61.7,84.9 61.8,84.2 61.8,83.4 61.9,82.7 62,81.9 62.1,81.2 62.1,80.4 62.2,79.7 62.2,79.2 62.3,78.9 62.4,78.2 62.4,77.4 62.5,76.7 62.6,75.9 62.7,75.2 62.8,74.4 62.9,73.7 62.9,72.9 63,72.4 63,72.2 63.1,71.4 63.2,70.7 63.3,69.9 63.4,69.2 63.5,68.4 63.6,67.7 63.7,66.9 63.8,66.4 63.8,66.2 63.9,65.4 64,64.7 64.1,63.9 64.2,63.1 64.3,62.4 64.4,61.6 64.5,60.9 64.5,60.9 64.6,60.1 64.7,59.4 64.8,58.6 64.9,57.9 65,57.1 65.2,56.4 65.2,55.8 65.3,55.6 65.4,54.9 65.5,54.1 65.6,53.4 65.7,52.6 65.9,51.9 66,51.1 66,51 66.1,50.4 66.2,49.6 66.4,48.9 66.5,48.1 66.6,47.4 66.7,46.6 66.8,46.6 66.9,45.9 67,45.1 67.1,44.4 67.3,43.6 67.4,42.9 67.5,42.3 67.5,42.1 67.7,41.4 67.8,40.7 67.9,39.9 68.1,39.1 68.2,38.4 68.2,38.3 68.4,37.6 68.5,36.9 68.7,36.1 68.8,35.4 69,34.6 69,34.5 69.1,33.9 69.3,33.1 69.4,32.4 69.6,31.6 69.7,30.9 69.8,30.8 69.9,30.1 70,29.4" fill="none" stroke="#050505" stroke-opacity="0.9" stroke-width="0.95"/>
<path d="M85.8,224.4 85.6,223.7 85.5,222.9 85.5,222.9 85.4,222.2 85.2,221.4 85.1,220.7 84.9,219.9 84.8,219.2 84.8,218.9 84.7,218.4 84.5,217.6 84.4,216.9 84.2,216.2 84.1,215.4 84,214.7 84,214.7 83.9,213.9 83.7,213.2 83.6,212.4 83.5,211.6 83.3,210.9 83.2,210.3 83.2,210.2 83.1,209.4 83,208.7 82.9,207.9 82.7,207.2 82.6,206.4 82.5,205.7 82.5,205.6 82.4,204.9 82.3,204.2 82.2,203.4 82.1,202.7 81.9,201.9 81.8,201.2 81.8,200.5 81.7,200.4 81.6,199.7 81.5,198.9 81.4,198.2 81.3,197.4 81.2,196.7 81.1,195.9 81,195.2 81,195 80.9,194.4 80.8,193.7 80.7,192.9 80.6,192.2 80.5,191.4 80.5,190.7 80.4,189.9 80.3,189.2 80.2,188.9 80.2,188.4 80.1,187.7 80,186.9 79.9,186.2 79.9,185.4 79.8,184.7 79.7,183.9 79.6,183.2 79.5,182.4 79.5,182.1 79.5,181.7 79.4,180.9 79.3,180.2 79.2,179.4 79.2,178.7 79.1,177.9 79,177.2 79,176.4 78.9,175.7 78.8,174.9 78.8,174.2 78.8,174 78.7,173.4 78.6,172.7 78.6,171.9 78.5,171.2 78.5,170.4 78.4,169.7 78.3,168.9 78.3,168.2 78.2,167.4 78.2,166.7 78.1,165.9 78.1,165.2 78,164.4 78,163.9 78,163.7 77.9,162.9 77.9,162.2 77.9,161.4 77.8,160.7 77.8,159.9 77.7,159.2 77.7,158.4 77.6,157.7 77.6,156.9 77.6,156.1 77.5,155.4 77.5,154.7 77.5,153.9 77.4,153.2 77.4,152.4 77.4,151.7 77.4,150.9 77.3,150.2 77.3,149.4 77.3,148.7 77.3,147.9 77.2,147.6 77.2,147.2 77.2,146.4 77.2,145.7 77.2,144.9 77.2,144.2 77.1,143.4 77.1,142.7 77.1,141.9 77.1,141.2 77.1,140.4 77.1,139.7 77.1,138.9 77.1,138.2 77.1,137.4 77.1,136.7 77.1,135.9 77,135.2 77,134.4 77,133.7 77,132.9 77,132.2 77.1,131.4 77.1,130.7 77.1,129.9 77.1,129.2 77.1,128.4 77.1,127.7 77.1,126.9 77.1,126.2 77.1,125.4 77.1,124.7 77.1,123.9 77.2,123.2 77.2,122.4 77.2,121.7 77.2,120.9 77.2,120.2 77.2,119.8 77.3,119.4 77.3,118.7 77.3,117.9 77.3,117.2 77.4,116.4 77.4,115.7 77.4,114.9 77.4,114.2 77.5,113.4 77.5,112.7 77.5,111.9 77.6,111.2 77.6,110.4 77.7,109.7 77.7,108.9 77.7,108.2 77.8,107.4 77.8,106.7 77.9,105.9 77.9,105.2 78,104.4 78,103.7 78,103.6 78,102.9 78.1,102.2 78.1,101.4 78.2,100.7 78.3,99.9 78.3,99.2 78.4,98.4 78.4,97.7 78.5,96.9 78.5,96.2 78.6,95.4 78.7,94.7 78.7,93.9 78.8,93.6 78.8,93.2 78.9,92.4 78.9,91.7 79,90.9 79.1,90.2 79.1,89.4 79.2,88.7 79.3,87.9 79.3,87.2 79.4,86.4 79.5,85.7 79.5,85.6 79.6,84.9 79.7,84.2 79.7,83.4 79.8,82.7 79.9,81.9 80,81.2 80.1,80.4 80.2,79.7 80.2,78.9 80.2,78.8 80.3,78.2 80.4,77.4 80.5,76.7 80.6,75.9 80.7,75.2 80.8,74.4 80.9,73.7 81,72.9 81,72.8 81.1,72.2 81.2,71.4 81.3,70.7 81.4,69.9 81.5,69.2 81.6,68.4 81.7,67.7 81.8,67.4 81.8,66.9 81.9,66.2 82,65.4 82.2,64.7 82.3,63.9 82.4,63.2 82.5,62.4 82.5,62.4 82.6,61.6 82.7,60.9 82.9,60.1 83,59.4 83.1,58.6 83.2,57.9 83.2,57.8 83.4,57.1 83.5,56.4 83.6,55.6 83.7,54.9 83.9,54.1 84,53.4 84,53.4 84.1,52.6 84.3,51.9 84.4,51.1 84.5,50.4 84.7,49.6 84.8,49.3 84.8,48.9 85,48.1 85.1,47.4 85.3,46.6 85.4,45.9 85.5,45.4 85.6,45.1 85.7,44.4 85.9,43.6 86,42.9 86.2,42.1 86.2,41.7 86.3,41.4 86.5,40.6 86.6,39.9 86.8,39.1 87,38.4 87,38.2 87.1,37.6 87.3,36.9 87.4,36.1 87.6,35.4 87.8,34.8 87.8,34.6 87.9,33.9 88.1,33.1 88.3,32.4 88.5,31.6 88.5,31.5 88.6,30.9 88.8,30.1 89,29.4" fill="none" stroke="#050505" stroke-opacity="0.9" stroke-width="0.95"/>
<path d="M106.3,224.4 106.1,223.7 106,222.9 105.8,222.2 105.8,221.9 105.7,221.4 105.5,220.7 105.3,219.9 105.2,219.2 105,218.4 105,218.3 104.9,217.7 104.7,216.9 104.6,216.2 104.4,215.4 104.3,214.7 104.2,214.5 104.1,213.9 104,213.2 103.8,212.4 103.7,211.6 103.6,210.9 103.5,210.6 103.4,210.2 103.3,209.4 103.1,208.7 103,207.9 102.9,207.2 102.8,206.4 102.7,206.4 102.6,205.7 102.5,204.9 102.4,204.2 102.2,203.4 102.1,202.7 102,202 102,201.9 101.9,201.2 101.7,200.4 101.6,199.7 101.5,198.9 101.4,198.2 101.3,197.4 101.2,197.2 101.2,196.7 101.1,195.9 101,195.2 100.8,194.4 100.7,193.7 100.6,192.9 100.5,192.2 100.5,191.9 100.4,191.4 100.3,190.7 100.2,189.9 100.1,189.2 100,188.4 99.9,187.7 99.8,186.9 99.8,186.2 99.7,186.2 99.7,185.4 99.6,184.7 99.5,183.9 99.4,183.2 99.3,182.4 99.2,181.7 99.1,180.9 99.1,180.1 99,179.6 99,179.4 98.9,178.7 98.8,177.9 98.7,177.2 98.7,176.4 98.6,175.7 98.5,174.9 98.5,174.2 98.4,173.4 98.3,172.7 98.2,171.9 98.2,171.9 98.2,171.2 98.1,170.4 98.1,169.7 98,168.9 97.9,168.2 97.9,167.4 97.8,166.7 97.8,165.9 97.7,165.2 97.7,164.4 97.6,163.6 97.6,162.9 97.5,162.2 97.5,162.1 97.5,161.4 97.4,160.7 97.4,159.9 97.3,159.2 97.3,158.4 97.2,157.7 97.2,156.9 97.2,156.2 97.1,155.4 97.1,154.7 97,153.9 97,153.2 97,152.4 97,151.7 96.9,150.9 96.9,150.2 96.9,149.4 96.8,148.7 96.8,147.9 96.8,147.2 96.8,146.4 96.8,145.7 96.8,145.4 96.7,144.9 96.7,144.2 96.7,143.4 96.7,142.7 96.7,141.9 96.7,141.2 96.7,140.4 96.6,139.7 96.6,138.9 96.6,138.2 96.6,137.4 96.6,136.7 96.6,135.9 96.6,135.2 96.6,134.4 96.6,133.7 96.6,132.9 96.6,132.2 96.6,131.4 96.6,130.7 96.6,129.9 96.7,129.2 96.7,128.4 96.7,127.7 96.7,126.9 96.7,126.2 96.7,125.4 96.7,124.7 96.8,124.2 96.8,123.9 96.8,123.1 96.8,122.4 96.8,121.7 96.8,120.9 96.9,120.2 96.9,119.4 96.9,118.7 97,117.9 97,117.2 97,116.4 97.1,115.7 97.1,114.9 97.1,114.2 97.2,113.4 97.2,112.7 97.2,111.9 97.3,111.2 97.3,110.4 97.4,109.7 97.4,108.9 97.5,108.2 97.5,107.5 97.5,107.4 97.6,106.7 97.6,105.9 97.7,105.2 97.7,104.4 97.8,103.7 97.8,102.9 97.9,102.2 97.9,101.4 98,100.7 98.1,99.9 98.1,99.2 98.2,98.4 98.2,97.8 98.3,97.7 98.3,96.9 98.4,96.2 98.5,95.4 98.5,94.7 98.6,93.9 98.7,93.2 98.8,92.4 98.8,91.7 98.9,90.9 99,90.2 99,90.2 99.1,89.4 99.2,88.7 99.3,87.9 99.3,87.2 99.4,86.4 99.5,85.7 99.6,84.9 99.7,84.2 99.8,83.7 99.8,83.4 99.9,82.7 100,81.9 100.1,81.2 100.2,80.4 100.3,79.7 100.4,78.9 100.5,78.2 100.5,78 100.6,77.4 100.7,76.7 100.8,75.9 100.9,75.2 101,74.4 101.1,73.7 101.2,72.9 101.3,72.9 101.4,72.2 101.5,71.4 101.6,70.7 101.7,69.9 101.8,69.2 102,68.4 102,68.2 102.1,67.7 102.2,66.9 102.3,66.2 102.5,65.4 102.6,64.7 102.7,63.9 102.8,63.8 102.9,63.1 103,62.4 103.1,61.7 103.3,60.9 103.4,60.1 103.5,59.7 103.6,59.4 103.7,58.6 103.8,57.9 104,57.1 104.1,56.4 104.2,55.9 104.3,55.6 104.4,54.9 104.6,54.1 104.7,53.4 104.9,52.6 105,52.2 105.1,51.9 105.2,51.2 105.4,50.4 105.5,49.6 105.7,48.9 105.8,48.7 105.9,48.1 106,47.4 106.2,46.6 106.4,45.9 106.5,45.4 106.6,45.1 106.7,44.4 106.9,43.6 107.1,42.9 107.2,42.2 107.3,42.1 107.4,41.4 107.6,40.6 107.8,39.9 108,39.1 108,39.1 108.2,38.4 108.4,37.6 108.6,36.9 108.8,36.2 108.8,36.1 109,35.4 109.1,34.6 109.3,33.9 109.5,33.3 109.5,33.1 109.7,32.4 110,31.6 110.2,30.9 110.2,30.6 110.4,30.1 110.6,29.4" fill="none" stroke="#050505" stroke-opacity="0.9" stroke-width="0.95"/>
<path d="M130.3,224.4 130.1,223.7 129.9,222.9 129.8,222.4 129.7,222.2 129.5,221.4 129.3,220.7 129.1,219.9 129,219.4 128.9,219.2 128.8,218.4 128.6,217.6 128.4,216.9 128.2,216.2 128.2,216.2 128.1,215.4 127.9,214.7 127.7,213.9 127.5,213.2 127.5,213 127.4,212.4 127.2,211.7 127,210.9 126.9,210.2 126.8,209.5 126.7,209.4 126.6,208.7 126.4,207.9 126.2,207.2 126.1,206.4 126,205.9 125.9,205.7 125.8,204.9 125.6,204.2 125.5,203.4 125.4,202.6 125.2,202.1 125.2,201.9 125.1,201.2 124.9,200.4 124.8,199.7 124.7,198.9 124.5,198.2 124.5,198 124.4,197.4 124.3,196.7 124.1,195.9 124,195.2 123.9,194.4 123.8,193.7 123.8,193.6 123.6,192.9 123.5,192.2 123.4,191.4 123.3,190.7 123.2,189.9 123.1,189.1 123,188.8 122.9,188.4 122.8,187.7 122.7,186.9 122.6,186.1 122.5,185.4 122.4,184.7 122.3,183.9 122.2,183.5 122.2,183.2 122.1,182.4 122,181.7 121.9,180.9 121.8,180.2 121.7,179.4 121.6,178.6 121.6,177.9 121.5,177.5 121.5,177.2 121.4,176.4 121.3,175.7 121.2,174.9 121.1,174.2 121.1,173.4 121,172.7 120.9,171.9 120.8,171.1 120.8,170.4 120.8,170.4 120.7,169.7 120.6,168.9 120.5,168.2 120.5,167.4 120.4,166.7 120.4,165.9 120.3,165.2 120.2,164.4 120.2,163.7 120.1,162.9 120.1,162.2 120,161.4 120,161.3 120,160.7 119.9,159.9 119.9,159.2 119.8,158.4 119.8,157.7 119.7,156.9 119.7,156.2 119.6,155.4 119.6,154.7 119.6,153.9 119.5,153.2 119.5,152.4 119.4,151.6 119.4,150.9 119.4,150.2 119.4,149.4 119.3,148.7 119.3,147.9 119.3,147.2 119.3,146.4 119.2,146 119.2,145.7 119.2,144.9 119.2,144.2 119.2,143.4 119.2,142.7 119.2,141.9 119.1,141.2 119.1,140.4 119.1,139.7 119.1,138.9 119.1,138.2 119.1,137.4 119.1,136.7 119.1,135.9 119.1,135.2 119.1,134.4 119.1,133.7 119.1,132.9 119.1,132.2 119.1,131.4 119.2,130.7 119.2,129.9 119.2,129.2 119.2,128.4 119.2,127.7 119.2,126.9 119.2,126.2 119.2,126 119.3,125.4 119.3,124.7 119.3,123.9 119.3,123.2 119.4,122.4 119.4,121.7 119.4,120.9 119.5,120.2 119.5,119.4 119.5,118.7 119.6,117.9 119.6,117.2 119.6,116.4 119.7,115.7 119.7,114.9 119.8,114.2 119.8,113.4 119.9,112.7 119.9,111.9 120,111.2 120,110.8 120,110.4 120.1,109.7 120.1,108.9 120.2,108.2 120.3,107.4 120.3,106.7 120.4,105.9 120.4,105.2 120.5,104.4 120.6,103.7 120.6,102.9 120.7,102.2 120.8,101.8 120.8,101.4 120.9,100.7 120.9,99.9 121,99.2 121.1,98.4 121.2,97.7 121.3,96.9 121.3,96.2 121.4,95.4 121.5,94.8 121.5,94.7 121.6,93.9 121.7,93.2 121.8,92.4 121.9,91.7 122,90.9 122.1,90.2 122.2,89.4 122.2,88.9 122.3,88.7 122.4,87.9 122.5,87.2 122.6,86.4 122.7,85.7 122.8,84.9 122.9,84.2 123,83.7 123,83.4 123.2,82.7 123.3,81.9 123.4,81.2 123.5,80.4 123.6,79.7 123.8,79 123.8,78.9 123.9,78.2 124,77.4 124.1,76.7 124.3,75.9 124.4,75.2 124.5,74.6 124.5,74.4 124.7,73.7 124.8,72.9 125,72.2 125.1,71.4 125.2,70.7 125.2,70.6 125.4,69.9 125.5,69.2 125.7,68.4 125.8,67.7 126,66.9 126,66.9 126.2,66.2 126.3,65.4 126.5,64.7 126.6,63.9 126.8,63.3 126.8,63.1 127,62.4 127.1,61.7 127.3,60.9 127.5,60.1 127.5,60 127.6,59.4 127.8,58.6 128,57.9 128.2,57.1 128.2,56.8 128.3,56.4 128.5,55.6 128.7,54.9 128.9,54.1 129,53.8 129.1,53.4 129.3,52.6 129.5,51.9 129.7,51.1 129.8,50.9 129.9,50.4 130.1,49.6 130.3,48.9 130.5,48.1 130.5,48.1 130.7,47.4 130.9,46.6 131.1,45.9 131.2,45.4 131.3,45.1 131.5,44.4 131.7,43.6 132,42.9 132,42.8 132.2,42.1 132.4,41.4 132.6,40.6 132.8,40.3 132.9,39.9 133.1,39.2 133.3,38.4 133.5,37.8 133.6,37.6 133.8,36.9 134,36.1 134.2,35.5 134.3,35.4 134.5,34.6 134.8,33.9 135,33.2 135,33.1 135.3,32.4 135.5,31.6 135.8,31 135.8,30.9 136,30.1 136.3,29.4" fill="none" stroke="#050505" stroke-opacity="0.9" stroke-width="0.95"/>
<path d="M160.4,224.4 160.2,223.7 159.9,222.9 159.8,222.4 159.7,222.2 159.4,221.4 159.2,220.7 159,220.1 158.9,219.9 158.7,219.2 158.5,218.4 158.2,217.7 158.2,217.6 158,216.9 157.8,216.2 157.5,215.4 157.5,215.3 157.3,214.7 157.1,213.9 156.9,213.2 156.8,212.7 156.7,212.4 156.5,211.7 156.2,210.9 156,210.2 156,210 155.8,209.4 155.6,208.7 155.4,207.9 155.2,207.2 155.2,207.2 155,206.4 154.8,205.7 154.6,204.9 154.5,204.3 154.5,204.2 154.3,203.4 154.1,202.7 153.9,201.9 153.8,201.2 153.7,201.2 153.6,200.4 153.4,199.7 153.2,198.9 153,198.2 153,198 152.9,197.4 152.7,196.7 152.5,195.9 152.4,195.2 152.2,194.5 152.2,194.4 152.1,193.7 151.9,192.9 151.8,192.1 151.6,191.4 151.5,190.8 151.5,190.7 151.3,189.9 151.2,189.2 151.1,188.4 150.9,187.7 150.8,186.9 150.8,186.7 150.6,186.2 150.5,185.4 150.4,184.7 150.3,183.9 150.1,183.1 150,182.4 150,182.3 149.9,181.7 149.8,180.9 149.7,180.2 149.5,179.4 149.4,178.7 149.3,177.9 149.2,177.4 149.2,177.2 149.1,176.4 149,175.7 148.9,174.9 148.8,174.2 148.7,173.4 148.6,172.7 148.5,171.9 148.5,171.7 148.4,171.2 148.4,170.4 148.3,169.7 148.2,168.9 148.1,168.2 148,167.4 147.9,166.7 147.9,165.9 147.8,165.2 147.8,164.8 147.7,164.4 147.6,163.7 147.6,162.9 147.5,162.2 147.4,161.4 147.4,160.7 147.3,159.9 147.3,159.2 147.2,158.4 147.2,157.7 147.1,156.9 147.1,156.1 147,155.4 147,155.3 147,154.7 146.9,153.9 146.9,153.2 146.8,152.4 146.8,151.7 146.8,150.9 146.7,150.2 146.7,149.4 146.7,148.7 146.6,147.9 146.6,147.2 146.6,146.4 146.6,145.7 146.5,144.9 146.5,144.2 146.5,143.4 146.5,142.7 146.5,141.9 146.5,141.2 146.5,140.4 146.5,139.7 146.4,138.9 146.4,138.2 146.4,137.4 146.4,136.7 146.4,135.9 146.5,135.2 146.5,134.4 146.5,133.7 146.5,132.9 146.5,132.2 146.5,131.4 146.5,130.7 146.5,129.9 146.6,129.2 146.6,128.4 146.6,127.7 146.6,126.9 146.7,126.2 146.7,125.4 146.7,124.7 146.8,123.9 146.8,123.2 146.8,122.4 146.9,121.7 146.9,120.9 147,120.2 147,119.8 147,119.4 147.1,118.7 147.1,117.9 147.2,117.2 147.2,116.4 147.3,115.7 147.4,114.9 147.4,114.2 147.5,113.4 147.5,112.7 147.6,111.9 147.7,111.2 147.8,110.4 147.8,110.4 147.8,109.7 147.9,108.9 148,108.2 148.1,107.4 148.1,106.7 148.2,105.9 148.3,105.2 148.4,104.4 148.5,103.7 148.5,103.6 148.6,102.9 148.7,102.1 148.8,101.4 148.9,100.7 149,99.9 149.1,99.2 149.2,98.4 149.2,98 149.3,97.7 149.4,96.9 149.5,96.2 149.6,95.4 149.8,94.7 149.9,93.9 150,93.2 150,93.2 150.1,92.4 150.3,91.7 150.4,90.9 150.5,90.2 150.6,89.4 150.8,88.8 150.8,88.6 150.9,87.9 151.1,87.2 151.2,86.4 151.3,85.7 151.5,84.9 151.5,84.9 151.6,84.2 151.8,83.4 151.9,82.7 152.1,81.9 152.2,81.2 152.3,81.2 152.4,80.4 152.6,79.7 152.8,78.9 152.9,78.2 153,77.8 153.1,77.4 153.3,76.7 153.4,75.9 153.6,75.2 153.8,74.6 153.8,74.4 154,73.7 154.2,72.9 154.4,72.2 154.5,71.6 154.6,71.4 154.8,70.7 155,69.9 155.2,69.2 155.2,68.8 155.4,68.4 155.6,67.7 155.8,66.9 156,66.2 156,66.1 156.2,65.4 156.4,64.7 156.6,63.9 156.8,63.5 156.9,63.1 157.1,62.4 157.3,61.6 157.5,61 157.5,60.9 157.8,60.1 158,59.4 158.2,58.7 158.3,58.6 158.5,57.9 158.7,57.1 159,56.4 159,56.4 159.2,55.7 159.5,54.9 159.8,54.2 159.8,54.1 160,53.4 160.3,52.6 160.5,52 160.5,51.9 160.8,51.1 161.1,50.4 161.2,50 161.4,49.6 161.7,48.9 161.9,48.1 162,48 162.2,47.4 162.5,46.6 162.8,46.1 162.8,45.9 163.1,45.1 163.4,44.4 163.5,44.2 163.7,43.6 164,42.9 164.2,42.4 164.3,42.1 164.7,41.4 165,40.6 165,40.6 165.3,39.9 165.6,39.2 165.8,38.9 166,38.4 166.3,37.6 166.5,37.2 166.6,36.9 167,36.1 167.2,35.6 167.3,35.4 167.7,34.6 168,34 168.1,33.9 168.4,33.1 168.8,32.5 168.8,32.4 169.2,31.6 169.5,31 169.5,30.9 169.9,30.1 170.2,29.5 170.3,29.4" fill="none" stroke="#050505" stroke-opacity="0.9" stroke-width="0.95"/>
<path d="M208.6,224.4 208.5,224.3 208,223.7 207.8,223.2 207.5,222.9 207,222.2 207,222.1 206.5,221.4 206.2,221 206,220.6 205.5,219.9 205.5,219.9 205.1,219.2 204.8,218.7 204.6,218.4 204.1,217.6 204,217.4 203.7,216.9 203.3,216.2 203.2,216.1 202.8,215.4 202.5,214.8 202.4,214.7 202,213.9 201.8,213.5 201.6,213.2 201.2,212.4 201,212.1 200.8,211.7 200.4,210.9 200.2,210.6 200,210.2 199.6,209.4 199.5,209.1 199.3,208.7 198.9,207.9 198.8,207.5 198.6,207.1 198.2,206.4 198,205.9 197.9,205.7 197.5,204.9 197.2,204.2 197.2,204.2 196.9,203.4 196.6,202.7 196.5,202.5 196.3,201.9 196,201.2 195.8,200.6 195.7,200.4 195.4,199.6 195.1,198.9 195,198.7 194.8,198.2 194.5,197.4 194.2,196.7 194.2,196.7 193.9,195.9 193.7,195.2 193.5,194.6 193.4,194.4 193.2,193.7 192.9,192.9 192.8,192.4 192.7,192.2 192.4,191.4 192.2,190.7 192,190.1 191.9,189.9 191.7,189.2 191.5,188.4 191.3,187.7 191.3,187.6 191,186.9 190.8,186.2 190.6,185.4 190.5,185 190.4,184.7 190.2,183.9 190,183.2 189.8,182.4 189.8,182.1 189.6,181.7 189.4,180.9 189.3,180.2 189.1,179.4 189,179.1 188.9,178.7 188.7,177.9 188.6,177.1 188.4,176.4 188.2,175.7 188.2,175.7 188.1,174.9 187.9,174.2 187.8,173.4 187.6,172.7 187.5,171.9 187.5,171.9 187.4,171.2 187.2,170.4 187.1,169.7 187,168.9 186.8,168.2 186.8,167.6 186.7,167.4 186.6,166.7 186.5,165.9 186.4,165.2 186.3,164.4 186.2,163.7 186.1,162.9 186,162.4 186,162.2 185.9,161.4 185.8,160.7 185.7,159.9 185.6,159.2 185.5,158.4 185.5,157.7 185.4,156.9 185.3,156.2 185.2,155.6 185.2,155.4 185.2,154.7 185.1,153.9 185.1,153.2 185,152.4 184.9,151.7 184.9,150.9 184.8,150.2 184.8,149.4 184.8,148.7 184.7,147.9 184.7,147.2 184.7,146.4 184.6,145.7 184.6,144.9 184.6,144.2 184.6,143.4 184.6,142.7 184.6,141.9 184.5,141.2 184.5,140.4 184.5,139.7 184.5,138.9 184.5,138.2 184.6,137.4 184.6,136.7 184.6,135.9 184.6,135.2 184.6,134.4 184.6,133.7 184.7,132.9 184.7,132.2 184.7,131.4 184.8,130.7 184.8,129.9 184.9,129.2 184.9,128.4 184.9,127.7 185,126.9 185.1,126.2 185.1,125.4 185.2,124.7 185.2,123.9 185.2,123.8 185.3,123.2 185.4,122.4 185.5,121.7 185.5,120.9 185.6,120.2 185.7,119.4 185.8,118.7 185.9,117.9 186,117.2 186,117 186.1,116.4 186.2,115.7 186.3,114.9 186.4,114.2 186.5,113.4 186.6,112.7 186.8,111.9 186.8,111.9 186.9,111.2 187,110.4 187.1,109.7 187.3,108.9 187.4,108.2 187.5,107.7 187.6,107.4 187.7,106.7 187.9,105.9 188,105.2 188.2,104.4 188.2,104 188.3,103.7 188.5,102.9 188.7,102.2 188.8,101.4 189,100.7 189,100.6 189.2,99.9 189.4,99.2 189.6,98.4 189.8,97.7 189.8,97.7 190,96.9 190.2,96.2 190.4,95.4 190.5,94.9 190.6,94.7 190.8,93.9 191,93.2 191.2,92.4 191.2,92.4 191.5,91.7 191.7,90.9 192,90.2 192,90 192.2,89.4 192.4,88.7 192.7,87.9 192.8,87.7 193,87.2 193.2,86.4 193.5,85.7 193.5,85.6 193.8,84.9 194,84.2 194.2,83.6 194.3,83.4 194.6,82.7 194.9,81.9 195,81.7 195.2,81.2 195.5,80.4 195.8,79.9 195.8,79.7 196.2,78.9 196.5,78.2 196.5,78.1 196.8,77.4 197.2,76.7 197.2,76.4 197.5,75.9 197.9,75.2 198,74.8 198.2,74.4 198.6,73.7 198.8,73.3 199,72.9 199.3,72.2 199.5,71.8 199.7,71.4 200.1,70.7 200.2,70.4 200.5,69.9 200.9,69.2 201,69 201.4,68.4 201.7,67.7 201.8,67.7 202.2,66.9 202.5,66.4 202.7,66.2 203.1,65.4 203.2,65.2 203.6,64.7 204,64 204.1,63.9 204.6,63.1 204.8,62.8 205,62.4 205.5,61.7 205.6,61.6 206.1,60.9 206.2,60.7 206.6,60.2 207,59.6 207.2,59.4 207.7,58.6 207.8,58.6 208.3,57.9 208.5,57.6 208.9,57.2 209.2,56.7 209.5,56.4 210,55.8 210.1,55.6 210.7,54.9 210.8,54.9 211.4,54.1 211.5,54 212,53.4 212.2,53.2 212.7,52.7 213,52.4 213.4,51.9 213.8,51.6 214.2,51.1 214.5,50.8 214.9,50.4 215.2,50.1 215.7,49.6 216,49.4 216.5,48.9 216.8,48.7 217.4,48.2 217.5,48 218.2,47.4 218.2,47.4 219,46.8 219.1,46.7 219.8,46.2 220.1,45.9 220.5,45.6 221.1,45.1 221.2,45 222,44.5 222.1,44.4 222.8,44 223.2,43.6 223.5,43.5 224.2,43 224.4,42.9 225,42.5 225.6,42.1 225.8,42.1 226.5,41.7 227,41.4 227.2,41.2 228,40.9 228.4,40.6 228.8,40.5 229.5,40.1 230,39.9 230.2,39.8 231,39.5 231.7,39.1 231.8,39.1" fill="none" stroke="#050505" stroke-opacity="0.9" stroke-width="0.95"/>
</g>
<rect x="37.3" y="30.7" width="192.5" height="192.0" fill="none" stroke="#f2f2ee" stroke-opacity="0.5" stroke-width="0.7"/>
<rect x="38.5" y="31.9" width="190.1" height="189.6" fill="none" stroke="#8a8a8a" stroke-opacity="0.55" stroke-width="1"/>
<circle cx="66.2" cy="194.4" r="2.3" fill="#000"/>
<circle cx="66.2" cy="59.9" r="2.3" fill="#000"/>
<circle cx="201.9" cy="194.4" r="2.3" fill="#000"/>
<circle cx="201.9" cy="59.9" r="2.3" fill="#000"/>
<circle cx="38.1" cy="127.2" r="2.3" fill="#000"/>
<circle cx="230" cy="127.2" r="2.3" fill="#000"/>
<circle cx="134.1" cy="222.2" r="2.3" fill="#000"/>
<circle cx="134.1" cy="32.1" r="2.3" fill="#000"/>
<circle cx="134.1" cy="127.2" r="2.3" fill="#000"/>
<line x1="65.8" y1="222.5" x2="65.8" y2="224.5" stroke="#999" stroke-width="0.6"/>
<text x="65.8" y="233.1" font-size="8" font-weight="normal" text-anchor="middle" fill="#262626" textLength="7.8" lengthAdjust="spacingAndGlyphs" stroke="#262626" stroke-width="0.12">50</text>
<line x1="99.6" y1="222.5" x2="99.6" y2="224.5" stroke="#999" stroke-width="0.6"/>
<text x="99.6" y="233.1" font-size="8" font-weight="normal" text-anchor="middle" fill="#262626" textLength="7.8" lengthAdjust="spacingAndGlyphs" stroke="#262626" stroke-width="0.12">55</text>
<line x1="133.5" y1="222.5" x2="133.5" y2="224.5" stroke="#999" stroke-width="0.6"/>
<text x="133.5" y="233.1" font-size="8" font-weight="normal" text-anchor="middle" fill="#262626" textLength="7.8" lengthAdjust="spacingAndGlyphs" stroke="#262626" stroke-width="0.12">60</text>
<line x1="167.4" y1="222.5" x2="167.4" y2="224.5" stroke="#999" stroke-width="0.6"/>
<text x="167.4" y="233.1" font-size="8" font-weight="normal" text-anchor="middle" fill="#262626" textLength="7.8" lengthAdjust="spacingAndGlyphs" stroke="#262626" stroke-width="0.12">65</text>
<line x1="201.2" y1="222.5" x2="201.2" y2="224.5" stroke="#999" stroke-width="0.6"/>
<text x="201.2" y="233.1" font-size="8" font-weight="normal" text-anchor="middle" fill="#262626" textLength="7.8" lengthAdjust="spacingAndGlyphs" stroke="#262626" stroke-width="0.12">70</text>
<line x1="35.5" y1="194.2" x2="37.5" y2="194.2" stroke="#999" stroke-width="0.6"/>
<text x="34.2" y="197.2" font-size="8" font-weight="normal" text-anchor="end" fill="#262626" textLength="10.2" lengthAdjust="spacingAndGlyphs" stroke="#262626" stroke-width="0.12">2.5</text>
<line x1="35.5" y1="160.6" x2="37.5" y2="160.6" stroke="#999" stroke-width="0.6"/>
<text x="34.2" y="163.5" font-size="8" font-weight="normal" text-anchor="end" fill="#262626" textLength="10.2" lengthAdjust="spacingAndGlyphs" stroke="#262626" stroke-width="0.12">3.0</text>
<line x1="35.5" y1="127" x2="37.5" y2="127" stroke="#999" stroke-width="0.6"/>
<text x="34.2" y="129.9" font-size="8" font-weight="normal" text-anchor="end" fill="#262626" textLength="10.2" lengthAdjust="spacingAndGlyphs" stroke="#262626" stroke-width="0.12">3.5</text>
<line x1="35.5" y1="93.4" x2="37.5" y2="93.4" stroke="#999" stroke-width="0.6"/>
<text x="34.2" y="96.3" font-size="8" font-weight="normal" text-anchor="end" fill="#262626" textLength="10.2" lengthAdjust="spacingAndGlyphs" stroke="#262626" stroke-width="0.12">4.0</text>
<line x1="35.5" y1="59.8" x2="37.5" y2="59.8" stroke="#999" stroke-width="0.6"/>
<text x="34.2" y="62.6" font-size="8" font-weight="normal" text-anchor="end" fill="#262626" textLength="10.2" lengthAdjust="spacingAndGlyphs" stroke="#262626" stroke-width="0.12">4.5</text>
<text x="133.3" y="245.2" font-size="9.8" font-weight="normal" text-anchor="middle" fill="#222" textLength="33.5" lengthAdjust="spacingAndGlyphs" stroke="#222" stroke-width="0.2">CPV - A</text>
<text x="0" y="0" font-size="9.8" font-weight="normal" text-anchor="middle" fill="#222" textLength="32" lengthAdjust="spacingAndGlyphs" stroke="#222" stroke-width="0.2" transform="translate(16.9,126.5) rotate(-90)">CPV - B</text>
<text x="41.7" y="22" font-size="11.6" font-weight="normal" text-anchor="start" fill="#1a1a1a" textLength="200.4" lengthAdjust="spacingAndGlyphs" stroke="#1a1a1a" stroke-width="0.55">Contour Plot of R1 vs CPV - B, CPV - A</text>
<text x="7.7" y="20.2" font-size="14.9" font-weight="bold" text-anchor="start" fill="#000" textLength="10.5" lengthAdjust="spacingAndGlyphs" >A</text>
<rect x="287.7" y="32.5" width="39.80000000000001" height="85.5" fill="#fff" stroke="#b8b8b8" stroke-width="0.8"/>
<text x="312.6" y="40.9" font-size="6.2" font-weight="normal" text-anchor="middle" fill="#222" stroke="#222" stroke-width="0.25">R1</text>
<rect x="291" y="45.1" width="8.2" height="6.3" fill="#0c0ca6"/>
<text x="312.4" y="50.4" font-size="6.6" font-weight="normal" text-anchor="middle" fill="#1e1e1e" textLength="3.4" lengthAdjust="spacingAndGlyphs" stroke="#1e1e1e" stroke-width="0.25">&lt;</text>
<text x="323.2" y="50.4" font-size="6.6" font-weight="normal" text-anchor="end" fill="#1e1e1e" stroke="#1e1e1e" stroke-width="0.25">1</text>
<rect x="291" y="54.2" width="8.2" height="6.3" fill="#1212e6"/>
<text x="306.4" y="59.5" font-size="6.6" font-weight="normal" text-anchor="end" fill="#1e1e1e" stroke="#1e1e1e" stroke-width="0.25">1</text>
<text x="312.4" y="59.5" font-size="6.6" font-weight="normal" text-anchor="middle" fill="#1e1e1e" textLength="3.0" lengthAdjust="spacingAndGlyphs" stroke="#1e1e1e" stroke-width="0.25">–</text>
<text x="323.2" y="59.5" font-size="6.6" font-weight="normal" text-anchor="end" fill="#1e1e1e" stroke="#1e1e1e" stroke-width="0.25">2</text>
<rect x="291" y="63.2" width="8.2" height="6.3" fill="#2a60e2"/>
<text x="306.4" y="68.5" font-size="6.6" font-weight="normal" text-anchor="end" fill="#1e1e1e" stroke="#1e1e1e" stroke-width="0.25">2</text>
<text x="312.4" y="68.5" font-size="6.6" font-weight="normal" text-anchor="middle" fill="#1e1e1e" textLength="3.0" lengthAdjust="spacingAndGlyphs" stroke="#1e1e1e" stroke-width="0.25">–</text>
<text x="323.2" y="68.5" font-size="6.6" font-weight="normal" text-anchor="end" fill="#1e1e1e" stroke="#1e1e1e" stroke-width="0.25">3</text>
<rect x="291" y="72.2" width="8.2" height="6.3" fill="#7ea7dc"/>
<text x="306.4" y="77.5" font-size="6.6" font-weight="normal" text-anchor="end" fill="#1e1e1e" stroke="#1e1e1e" stroke-width="0.25">3</text>
<text x="312.4" y="77.5" font-size="6.6" font-weight="normal" text-anchor="middle" fill="#1e1e1e" textLength="3.0" lengthAdjust="spacingAndGlyphs" stroke="#1e1e1e" stroke-width="0.25">–</text>
<text x="323.2" y="77.5" font-size="6.6" font-weight="normal" text-anchor="end" fill="#1e1e1e" stroke="#1e1e1e" stroke-width="0.25">4</text>
<rect x="291" y="81.3" width="8.2" height="6.3" fill="#82cc91"/>
<text x="306.4" y="86.6" font-size="6.6" font-weight="normal" text-anchor="end" fill="#1e1e1e" stroke="#1e1e1e" stroke-width="0.25">4</text>
<text x="312.4" y="86.6" font-size="6.6" font-weight="normal" text-anchor="middle" fill="#1e1e1e" textLength="3.0" lengthAdjust="spacingAndGlyphs" stroke="#1e1e1e" stroke-width="0.25">–</text>
<text x="323.2" y="86.6" font-size="6.6" font-weight="normal" text-anchor="end" fill="#1e1e1e" stroke="#1e1e1e" stroke-width="0.25">5</text>
<rect x="291" y="90.3" width="8.2" height="6.3" fill="#51ae5d"/>
<text x="306.4" y="95.6" font-size="6.6" font-weight="normal" text-anchor="end" fill="#1e1e1e" stroke="#1e1e1e" stroke-width="0.25">5</text>
<text x="312.4" y="95.6" font-size="6.6" font-weight="normal" text-anchor="middle" fill="#1e1e1e" textLength="3.0" lengthAdjust="spacingAndGlyphs" stroke="#1e1e1e" stroke-width="0.25">–</text>
<text x="323.2" y="95.6" font-size="6.6" font-weight="normal" text-anchor="end" fill="#1e1e1e" stroke="#1e1e1e" stroke-width="0.25">6</text>
<rect x="291" y="99.4" width="8.2" height="6.3" fill="#00832a"/>
<text x="306.4" y="104.7" font-size="6.6" font-weight="normal" text-anchor="end" fill="#1e1e1e" stroke="#1e1e1e" stroke-width="0.25">6</text>
<text x="312.4" y="104.7" font-size="6.6" font-weight="normal" text-anchor="middle" fill="#1e1e1e" textLength="3.0" lengthAdjust="spacingAndGlyphs" stroke="#1e1e1e" stroke-width="0.25">–</text>
<text x="323.2" y="104.7" font-size="6.6" font-weight="normal" text-anchor="end" fill="#1e1e1e" stroke="#1e1e1e" stroke-width="0.25">7</text>
<rect x="291" y="108.5" width="8.2" height="6.3" fill="#006a0a"/>
<text x="312.4" y="113.8" font-size="6.6" font-weight="normal" text-anchor="middle" fill="#1e1e1e" textLength="3.4" lengthAdjust="spacingAndGlyphs" stroke="#1e1e1e" stroke-width="0.25">&gt;</text>
<text x="323.2" y="113.8" font-size="6.6" font-weight="normal" text-anchor="end" fill="#1e1e1e" stroke="#1e1e1e" stroke-width="0.25">7</text>
<clipPath id="cB"><rect x="388.7" y="31.2" width="185.3" height="190.8"/></clipPath>
<g clip-path="url(#cB)">
<rect x="388.7" y="31.2" width="185.3" height="190.8" fill="#006a0a"/>
<path d="M447.1,31.5L447.4,31.4L448.2,31.4L448.9,31.4L449.7,31.4L450.4,31.3L451.2,31.3L451.9,31.3L452.7,31.3L453.4,31.3L454.2,31.2L454.9,31.2L455.7,31.2L456.5,31.2L457.2,31.2L457.9,31.2L458.7,31.1L459.4,31.1L460.2,31.1L460.9,31.1L461.7,31.1L462.4,31.1L463.2,31.1L463.9,31L464.7,31L465.4,31L466.2,31L466.9,31L467.7,31L468.4,31L469.2,31L469.9,31L470.7,31L471.4,30.9L472.2,30.9L472.9,30.9L473.7,30.9L474.5,30.9L475.2,30.9L475.9,30.9L476.7,30.9L477.5,30.9L478.2,30.9L478.9,30.9L479.7,30.9L480.5,30.9L481.2,30.9L481.9,30.9L482.7,30.9L483.4,30.9L484.2,30.9L484.9,30.9L485.7,30.9L486.4,30.9L487.2,30.9L487.9,30.9L488.7,30.9L489.4,30.9L490.2,30.9L491,31L491.7,31L492.5,31L493.2,31L493.9,31L494.7,31L495.5,31L496.2,31L496.9,31L497.7,31L498.4,31.1L499.2,31.1L499.9,31.1L500.7,31.1L501.5,31.1L502.2,31.1L502.9,31.1L503.7,31.2L504.5,31.2L505.2,31.2L505.9,31.2L506.7,31.2L507.5,31.2L508.2,31.3L508.9,31.3L509.7,31.3L510.4,31.3L511.2,31.4L511.9,31.4L512.7,31.4L513.5,31.4L514.2,31.4L514.3,31.4L515,31.5L515.7,31.5L516.5,31.5L517.2,31.5L518,31.6L518.7,31.6L519.5,31.6L520.2,31.7L521,31.7L521.7,31.7L522.5,31.7L523.2,31.8L524,31.8L524.7,31.8L525.5,31.9L526.2,31.9L527,31.9L527.7,32L528.5,32L529.2,32L530,32.1L530.7,32.1L531.5,32.2L532.2,32.2L532.4,32.2L533,32.2L533.7,32.3L534.5,32.3L535.2,32.3L536,32.4L536.7,32.4L537.5,32.5L538.2,32.5L539,32.6L539.7,32.6L540.5,32.6L541.2,32.7L542,32.7L542.7,32.8L543.5,32.8L544.2,32.9L545,32.9L545.5,33L545.7,33L546.5,33L547.2,33.1L548,33.1L548.7,33.2L549.5,33.2L550.2,33.3L551,33.3L551.7,33.4L552.5,33.4L553.2,33.5L554,33.5L554.7,33.6L555.5,33.6L556.2,33.7L556.3,33.7L557,33.7L557.7,33.8L558.5,33.9L559.2,33.9L560,34L560.7,34L561.5,34.1L562.2,34.2L563,34.2L563.7,34.3L564.5,34.3L565.2,34.4L565.7,34.5L566,34.5L566.7,34.5L567.5,34.6L568.2,34.7L569,34.7L569.7,34.8L570.5,34.9L571.2,34.9L572,35L572.7,35.1L573.5,35.1L574.2,35.2L574.2,35.2L575,35.3L575.7,35.3L576.5,35.4L576.5,36L576.5,36.7L576.5,37.5L576.5,38.2L576.5,39L576.5,39.7L576.5,40.5L576.5,41.2L576.5,42L576.5,42.7L576.5,43.5L576.5,44.2L576.5,45L576.5,45.7L576.5,46.5L576.5,47.2L576.5,48L576.5,48.7L576.5,49.5L576.5,50.2L576.5,51L576.5,51.7L576.5,52.5L576.5,53.2L576.5,54L576.5,54.7L576.5,55.5L576.5,56.2L576.5,57L576.5,57.7L576.5,58.5L576.5,59.2L576.5,60L576.5,60.7L576.5,61.5L576.5,62.2L576.5,63L576.5,63.7L576.5,64.5L576.5,65.2L576.5,66L576.5,66.7L576.5,67.5L576.5,68.2L576.5,69L576.5,69.7L576.5,70.5L576.5,71.2L576.5,72L576.5,72.7L576.5,73.5L576.5,74.2L576.5,75L576.5,75.7L576.5,76.5L576.5,77.2L576.5,78L576.5,78.7L576.5,79.5L576.5,80.2L576.5,81L576.5,81.7L576.5,82.5L576.5,83.2L576.5,84L576.5,84.7L576.5,85.5L576.5,86.2L576.5,87L576.5,87.7L576.5,88.5L576.5,89.2L576.5,90L576.5,90.7L576.5,91.5L576.5,92.2L576.5,93L576.5,93.7L576.5,94.5L576.5,95.2L576.5,96L576.5,96.7L576.5,97.5L576.5,98.2L576.5,99L576.5,99.7L576.5,100.5L576.5,101.2L576.5,102L576.5,102.7L576.5,103.5L576.5,104.2L576.5,105L576.5,105.7L576.5,106.5L576.5,107.2L576.5,108L576.5,108.7L576.5,109.5L576.5,110.2L576.5,111L576.5,111.7L576.5,112.5L576.5,113.2L576.5,114L576.5,114.7L576.5,115.5L576.5,116.2L576.5,117L576.5,117.7L576.5,118.5L576.5,119.2L576.5,120L576.5,120.7L576.5,121.5L576.5,122.2L576.5,123L576.5,123.7L576.5,124.5L576.5,125.2L576.5,126L576.5,126.7L576.5,127.5L576.5,128.2L576.5,128.9L576.5,129.7L576.5,130.4L576.5,131.2L576.5,131.9L576.5,132.7L576.5,133.4L576.5,134.2L576.5,134.9L576.5,135.7L576.5,136.4L576.5,137.2L576.5,137.9L576.5,138.7L576.5,139.4L576.5,140.2L576.5,140.9L576.5,141.7L576.5,142.4L576.5,143.2L576.5,143.9L576.5,144.7L576.5,145.4L576.5,146.2L576.5,146.9L576.5,147.7L576.5,148.4L576.5,149.2L576.5,149.9L576.5,150.7L576.5,151.4L576.5,152.2L576.5,152.9L576.5,153.7L576.5,154.4L576.5,155.2L576.5,155.9L576.5,156.7L576.5,157.4L576.5,158.2L576.5,158.9L576.5,159.7L576.5,160.4L576.5,161.2L576.5,161.9L576.5,162.7L576.5,163.4L576.5,164.2L576.5,164.9L576.5,165.7L576.5,166.4L576.5,167.2L576.5,167.9L576.5,168.7L576.5,169.4L576.5,170.2L576.5,170.9L576.5,171.7L576.5,172.4L576.5,173.2L576.5,173.9L576.5,174.7L576.5,175.4L576.5,176.2L576.5,176.9L576.5,177.7L576.5,178.4L576.5,179.2L576.5,179.9L576.5,180.7L576.5,181.4L576.5,182.2L576.5,182.9L576.5,183.7L576.5,184.4L576.5,185.2L576.5,185.9L576.5,186.7L576.5,187.4L576.5,188.2L576.5,188.9L576.5,189.7L576.5,190.4L576.5,191.2L576.5,191.9L576.5,192.7L576.5,193.4L576.5,194.2L576.5,194.9L576.5,195.7L576.5,196.4L576.5,197.2L576.5,197.9L576.5,198.7L576.5,199.4L576.5,200.2L576.5,200.9L576.5,201.7L576.5,202.4L576.5,203.2L576.5,203.9L576.5,204.7L576.5,205.4L576.5,206.2L576.5,206.9L576.5,207.7L576.5,208.4L576.5,209.2L576.5,209.9L576.5,210.7L576.5,211.4L576.5,212.2L576.5,212.9L576.5,213.7L576.5,214.4L576.5,215.2L576.5,215.9L576.5,216.7L576.5,217.4L576.5,218.2L576.5,218.9L576.5,219.7L576.5,220.4L576.5,221.2L576.5,221.9L576.5,222.7L576.5,223.4L576.5,224.2L575.7,224.2L575,224.2L574.2,224.2L573.5,224.2L572.7,224.2L572,224.2L571.2,224.2L570.5,224.2L569.7,224.2L569,224.2L568.2,224.2L567.5,224.2L566.7,224.2L566,224.2L565.2,224.2L564.5,224.2L563.7,224.2L563,224.2L562.2,224.2L561.5,224.2L560.7,224.2L560,224.2L559.2,224.2L558.5,224.2L557.7,224.2L557,224.2L556.2,224.2L555.5,224.2L554.7,224.2L554,224.2L553.2,224.2L552.5,224.2L551.7,224.2L551,224.2L550.2,224.2L549.5,224.2L548.7,224.2L548,224.2L547.2,224.2L546.5,224.2L545.7,224.2L545,224.2L544.2,224.2L543.5,224.2L542.7,224.2L542,224.2L541.2,224.2L540.5,224.2L539.7,224.2L539,224.2L538.2,224.2L537.5,224.2L536.7,224.2L536,224.2L535.2,224.2L534.5,224.2L533.7,224.2L533,224.2L532.2,224.2L531.5,224.2L530.7,224.2L530,224.2L529.2,224.2L528.5,224.2L527.7,224.2L527,224.2L526.2,224.2L525.5,224.2L524.7,224.2L524,224.2L523.2,224.2L522.5,224.2L521.7,224.2L521,224.2L520.2,224.2L519.5,224.2L518.7,224.2L518,224.2L517.2,224.2L516.5,224.2L515.7,224.2L515,224.2L514.2,224.2L513.5,224.2L512.7,224.2L511.9,224.2L511.2,224.2L510.4,224.2L509.7,224.2L508.9,224.2L508.2,224.2L507.4,224.2L506.7,224.2L505.9,224.2L505.2,224.2L504.4,224.2L503.7,224.2L502.9,224.2L502.2,224.2L501.4,224.2L500.7,224.2L499.9,224.2L499.2,224.2L498.4,224.2L497.7,224.2L496.9,224.2L496.2,224.2L495.4,224.2L494.7,224.2L493.9,224.2L493.2,224.2L492.4,224.2L491.7,224.2L490.9,224.2L490.2,224.2L489.4,224.2L488.7,224.2L487.9,224.2L487.2,224.2L486.4,224.2L485.7,224.2L484.9,224.2L484.2,224.2L483.4,224.2L482.7,224.2L481.9,224.2L481.2,224.2L480.4,224.2L479.7,224.2L478.9,224.2L478.2,224.2L477.4,224.2L476.7,224.2L475.9,224.2L475.2,224.2L474.4,224.2L473.7,224.2L472.9,224.2L472.2,224.2L471.4,224.2L470.7,224.2L469.9,224.2L469.2,224.2L468.4,224.2L467.7,224.2L466.9,224.2L466.2,224.2L465.4,224.2L464.7,224.2L463.9,224.2L463.2,224.2L462.4,224.2L461.7,224.2L460.9,224.2L460.2,224.2L459.4,224.2L458.7,224.2L457.9,224.2L457.2,224.2L456.4,224.2L455.7,224.2L454.9,224.2L454.2,224.2L453.4,224.2L452.7,224.2L451.9,224.2L451.2,224.2L450.4,224.2L449.7,224.2L448.9,224.2L448.2,224.2L447.4,224.2L446.7,224.2L445.9,224.2L445.2,224.2L444.4,224.2L443.7,224.2L442.9,224.2L442.2,224.2L441.4,224.2L440.7,224.2L439.9,224.2L439.2,224.2L438.4,224.2L437.7,224.2L436.9,224.2L436.2,224.2L435.4,224.2L434.7,224.2L433.9,224.2L433.2,224.2L432.4,224.2L431.7,224.2L430.9,224.2L430.2,224.2L429.4,224.2L428.7,224.2L427.9,224.2L427.2,224.2L426.4,224.2L425.7,224.2L424.9,224.2L424.2,224.2L423.4,224.2L422.7,224.2L421.9,224.2L421.2,224.2L420.4,224.2L419.7,224.2L418.9,224.2L418.2,224.2L417.4,224.2L416.7,224.2L415.9,224.2L415.2,224.2L414.4,224.2L413.7,224.2L412.9,224.2L412.2,224.2L411.4,224.2L410.7,224.2L409.9,224.2L409.2,224.2L408.4,224.2L407.7,224.2L406.9,224.2L406.2,224.2L405.4,224.2L404.7,224.2L403.9,224.2L403.2,224.2L402.4,224.2L401.7,224.2L400.9,224.2L400.2,224.2L399.4,224.2L398.7,224.2L397.9,224.2L397.2,224.2L396.4,224.2L395.7,224.2L394.9,224.2L394.2,224.2L393.4,224.2L392.7,224.2L391.9,224.2L391.2,224.2L390.4,224.2L389.7,224.2L388.9,224.2L388.2,224.2L387.4,224.2L386.7,224.2L386.7,223.4L386.7,222.7L386.7,221.9L386.7,221.2L386.7,220.4L386.7,219.7L386.7,218.9L386.7,218.2L386.7,217.4L386.7,216.7L386.7,215.9L386.7,215.2L386.7,214.4L386.7,213.7L386.7,212.9L386.7,212.2L386.7,211.4L386.7,210.7L386.7,209.9L386.7,209.2L386.7,208.4L386.7,207.7L386.7,206.9L386.7,206.2L386.7,205.4L386.7,204.7L386.7,203.9L386.7,203.2L386.7,202.4L386.7,201.7L386.7,200.9L386.7,200.2L386.7,199.4L386.7,198.7L386.7,197.9L386.7,197.2L386.7,196.4L386.7,195.7L386.7,194.9L386.7,194.2L386.7,193.4L386.7,192.7L386.7,191.9L386.7,191.2L386.7,190.4L386.7,189.7L386.7,188.9L386.7,188.2L386.7,187.4L386.7,186.7L386.7,185.9L386.7,185.2L386.7,184.4L386.7,183.7L386.7,182.9L386.7,182.2L386.7,181.4L386.7,180.7L386.7,179.9L386.7,179.2L386.7,178.4L386.7,177.7L386.7,176.9L386.7,176.2L386.7,175.4L386.7,174.7L386.7,173.9L386.7,173.2L386.7,172.4L386.7,171.7L386.7,170.9L386.7,170.2L386.7,169.4L386.7,168.7L386.7,167.9L386.7,167.2L386.7,166.4L386.7,165.7L386.7,164.9L386.7,164.2L386.7,163.4L386.7,162.7L386.7,161.9L386.7,161.2L386.7,160.4L386.7,159.7L386.7,158.9L386.7,158.2L386.7,157.4L386.7,156.7L386.7,155.9L386.7,155.2L386.7,154.4L386.7,153.7L386.7,152.9L386.7,152.2L386.7,151.4L386.7,150.7L386.7,149.9L386.7,149.2L386.7,148.4L386.7,147.7L386.7,146.9L386.7,146.2L386.7,145.4L386.7,144.7L386.7,143.9L386.7,143.2L386.7,142.4L386.7,141.7L386.7,140.9L386.7,140.2L386.7,139.4L386.7,138.7L386.7,137.9L386.7,137.2L386.7,136.4L386.7,135.7L386.7,134.9L386.7,134.2L386.7,133.4L386.7,132.7L386.7,131.9L386.7,131.2L386.7,130.4L386.7,129.7L386.7,128.9L386.7,128.2L386.7,127.5L386.7,126.7L386.7,126L386.7,125.2L386.7,124.5L386.7,123.7L386.7,123L386.7,122.2L386.7,121.5L386.7,120.7L386.7,120L386.7,119.2L386.7,118.5L386.7,117.7L386.7,117L386.7,116.2L386.7,115.5L386.7,114.7L386.7,114L386.7,113.2L386.7,112.5L386.7,111.7L386.7,111L386.7,110.2L386.7,109.5L386.7,108.7L386.7,108L386.7,107.2L386.7,106.5L386.7,105.7L386.7,105L386.7,104.2L386.7,103.5L386.7,102.7L386.7,102L386.7,101.2L386.7,100.5L386.7,99.7L386.7,99L386.7,98.2L386.7,97.5L386.7,96.7L386.7,96L386.7,95.2L386.7,94.5L386.7,93.7L386.7,93L386.7,92.2L386.7,91.5L386.7,90.7L386.7,90L386.7,89.2L386.7,88.5L386.7,87.7L386.7,87L386.7,86.2L386.7,85.5L386.7,84.7L386.7,84L386.7,83.2L386.7,82.5L386.7,81.7L386.7,81L386.7,80.2L386.7,79.5L386.7,78.7L386.7,78L386.7,77.2L386.7,76.5L386.7,75.7L386.7,75L386.7,74.2L386.7,73.5L386.7,72.7L386.7,72L386.7,71.2L386.7,70.5L386.7,69.7L386.7,69L386.7,68.2L386.7,67.5L386.7,66.7L386.7,66L386.7,65.2L386.7,64.5L386.7,63.7L386.7,63L386.7,62.2L386.7,61.5L386.7,60.7L386.7,60L386.7,59.2L386.7,58.5L386.7,57.7L386.7,57L386.7,56.2L386.7,55.5L386.7,54.7L386.7,54L386.7,53.2L386.7,52.5L386.7,51.7L386.7,51L386.7,50.2L386.7,49.5L386.7,48.7L386.7,48L386.7,47.2L386.7,46.5L386.7,45.7L386.7,45L386.7,44.2L386.7,43.5L386.7,42.7L386.7,42L386.7,41.2L386.7,40.5L386.7,39.7L386.7,39L386.7,38.2L386.7,37.5L386.7,36.7L386.7,36L386.7,35.3L387.3,35.2L387.4,35.2L388.2,35.1L388.9,35L389.7,35L390.4,34.9L391.2,34.8L391.9,34.8L392.7,34.7L393.4,34.6L394.2,34.6L394.9,34.5L395.7,34.5L395.7,34.5L396.4,34.4L397.2,34.3L397.9,34.3L398.7,34.2L399.4,34.1L400.2,34.1L400.9,34L401.7,34L402.4,33.9L403.2,33.8L403.9,33.8L404.7,33.7L405.1,33.7L405.4,33.7L406.2,33.6L406.9,33.6L407.7,33.5L408.4,33.5L409.2,33.4L409.9,33.4L410.7,33.3L411.4,33.2L412.2,33.2L412.9,33.1L413.7,33.1L414.4,33L415.2,33L415.9,33L415.9,32.9L416.7,32.9L417.4,32.9L418.2,32.8L418.9,32.8L419.7,32.7L420.5,32.7L421.2,32.6L421.9,32.6L422.7,32.5L423.5,32.5L424.2,32.5L424.9,32.4L425.7,32.4L426.4,32.3L427.2,32.3L427.9,32.3L428.7,32.2L429.1,32.2L429.4,32.2L430.2,32.1L430.9,32.1L431.7,32.1L432.4,32L433.2,32L433.9,32L434.7,31.9L435.4,31.9L436.2,31.9L436.9,31.8L437.7,31.8L438.4,31.8L439.2,31.7L439.9,31.7L440.7,31.7L441.4,31.7L442.2,31.6L442.9,31.6L443.7,31.6L444.4,31.5L445.2,31.5L445.9,31.5L446.7,31.5Z" fill="#00832a"/>
<path d="M448.9,43.5L448.9,43.4L449.7,43.4L450.4,43.4L451.2,43.4L451.9,43.3L452.7,43.3L453.4,43.3L454.2,43.3L455,43.3L455.7,43.2L456.5,43.2L457.2,43.2L457.9,43.2L458.7,43.2L459.4,43.1L460.2,43.1L460.9,43.1L461.7,43.1L462.4,43.1L463.2,43.1L463.9,43.1L464.7,43L465.4,43L466.2,43L466.9,43L467.7,43L468.4,43L469.2,43L469.9,43L470.7,43L471.5,43L472.2,42.9L473,42.9L473.7,42.9L474.5,42.9L475.2,42.9L476,42.9L476.7,42.9L477.5,42.9L478.2,42.9L478.9,42.9L479.7,42.9L480.4,42.9L481.2,42.9L482,42.9L482.7,42.9L483.4,42.9L484.2,42.9L484.9,42.9L485.7,42.9L486.5,42.9L487.2,42.9L487.9,42.9L488.7,42.9L489.5,42.9L490.2,43L490.9,43L491.7,43L492.4,43L493.2,43L493.9,43L494.7,43L495.5,43L496.2,43L496.9,43L497.7,43.1L498.4,43.1L499.2,43.1L499.9,43.1L500.7,43.1L501.4,43.1L502.2,43.2L502.9,43.2L503.7,43.2L504.4,43.2L505.2,43.2L505.9,43.2L506.7,43.3L507.4,43.3L508.2,43.3L508.9,43.3L509.7,43.4L510.4,43.4L511.2,43.4L511.9,43.4L512.7,43.5L512.7,43.5L513.5,43.5L514.2,43.5L515,43.5L515.7,43.6L516.5,43.6L517.2,43.6L518,43.6L518.7,43.7L519.5,43.7L520.2,43.7L521,43.8L521.7,43.8L522.5,43.8L523.2,43.9L524,43.9L524.7,43.9L525.5,44L526.2,44L527,44.1L527.7,44.1L528.5,44.1L529.2,44.2L529.9,44.2L530,44.2L530.7,44.2L531.5,44.3L532.2,44.3L533,44.4L533.7,44.4L534.5,44.5L535.2,44.5L536,44.5L536.7,44.6L537.5,44.6L538.2,44.7L539,44.7L539.7,44.8L540.5,44.8L541.2,44.9L542,44.9L542.4,45L542.7,45L543.5,45L544.2,45.1L545,45.1L545.7,45.2L546.5,45.2L547.2,45.3L548,45.3L548.7,45.4L549.5,45.5L550.2,45.5L551,45.6L551.7,45.6L552.5,45.7L552.7,45.7L553.2,45.7L554,45.8L554.7,45.9L555.5,45.9L556.2,46L557,46L557.7,46.1L558.5,46.2L559.2,46.2L560,46.3L560.7,46.4L561.5,46.4L561.7,46.5L562.2,46.5L563,46.6L563.7,46.6L564.5,46.7L565.2,46.8L566,46.8L566.7,46.9L567.5,47L568.2,47.1L569,47.1L569.7,47.2L569.7,47.2L570.5,47.3L571.2,47.4L572,47.4L572.7,47.5L573.5,47.6L574.2,47.7L575,47.7L575.7,47.8L576.5,47.9L576.5,48L576.5,48.7L576.5,49.5L576.5,50.2L576.5,51L576.5,51.7L576.5,52.5L576.5,53.2L576.5,54L576.5,54.7L576.5,55.5L576.5,56.2L576.5,57L576.5,57.7L576.5,58.5L576.5,59.2L576.5,60L576.5,60.7L576.5,61.5L576.5,62.2L576.5,63L576.5,63.7L576.5,64.5L576.5,65.2L576.5,66L576.5,66.7L576.5,67.5L576.5,68.2L576.5,69L576.5,69.7L576.5,70.5L576.5,71.2L576.5,72L576.5,72.7L576.5,73.5L576.5,74.2L576.5,75L576.5,75.7L576.5,76.5L576.5,77.2L576.5,78L576.5,78.7L576.5,79.5L576.5,80.2L576.5,81L576.5,81.7L576.5,82.5L576.5,83.2L576.5,84L576.5,84.7L576.5,85.5L576.5,86.2L576.5,87L576.5,87.7L576.5,88.5L576.5,89.2L576.5,90L576.5,90.7L576.5,91.5L576.5,92.2L576.5,93L576.5,93.7L576.5,94.5L576.5,95.2L576.5,96L576.5,96.7L576.5,97.5L576.5,98.2L576.5,99L576.5,99.7L576.5,100.5L576.5,101.2L576.5,102L576.5,102.7L576.5,103.5L576.5,104.2L576.5,105L576.5,105.7L576.5,106.5L576.5,107.2L576.5,108L576.5,108.7L576.5,109.5L576.5,110.2L576.5,111L576.5,111.7L576.5,112.5L576.5,113.2L576.5,114L576.5,114.7L576.5,115.5L576.5,116.2L576.5,117L576.5,117.7L576.5,118.5L576.5,119.2L576.5,120L576.5,120.7L576.5,121.5L576.5,122.2L576.5,123L576.5,123.7L576.5,124.5L576.5,125.2L576.5,126L576.5,126.7L576.5,127.5L576.5,128.2L576.5,128.9L576.5,129.7L576.5,130.4L576.5,131.2L576.5,131.9L576.5,132.7L576.5,133.4L576.5,134.2L576.5,134.9L576.5,135.7L576.5,136.4L576.5,137.2L576.5,137.9L576.5,138.7L576.5,139.4L576.5,140.2L576.5,140.9L576.5,141.7L576.5,142.4L576.5,143.2L576.5,143.9L576.5,144.7L576.5,145.4L576.5,146.2L576.5,146.9L576.5,147.7L576.5,148.4L576.5,149.2L576.5,149.9L576.5,150.7L576.5,151.4L576.5,152.2L576.5,152.9L576.5,153.7L576.5,154.4L576.5,155.2L576.5,155.9L576.5,156.7L576.5,157.4L576.5,158.2L576.5,158.9L576.5,159.7L576.5,160.4L576.5,161.2L576.5,161.9L576.5,162.7L576.5,163.4L576.5,164.2L576.5,164.9L576.5,165.7L576.5,166.4L576.5,167.2L576.5,167.9L576.5,168.7L576.5,169.4L576.5,170.2L576.5,170.9L576.5,171.7L576.5,172.4L576.5,173.2L576.5,173.9L576.5,174.7L576.5,175.4L576.5,176.2L576.5,176.9L576.5,177.7L576.5,178.4L576.5,179.2L576.5,179.9L576.5,180.7L576.5,181.4L576.5,182.2L576.5,182.9L576.5,183.7L576.5,184.4L576.5,185.2L576.5,185.9L576.5,186.7L576.5,187.4L576.5,188.2L576.5,188.9L576.5,189.7L576.5,190.4L576.5,191.2L576.5,191.9L576.5,192.7L576.5,193.4L576.5,194.2L576.5,194.9L576.5,195.7L576.5,196.4L576.5,197.2L576.5,197.9L576.5,198.7L576.5,199.4L576.5,200.2L576.5,200.9L576.5,201.7L576.5,202.4L576.5,203.2L576.5,203.9L576.5,204.7L576.5,205.4L576.5,206.2L576.5,206.9L576.5,207.7L576.5,208.4L576.5,209.2L576.5,209.9L576.5,210.7L576.5,211.4L576.5,212.2L576.5,212.9L576.5,213.7L576.5,214.4L576.5,215.2L576.5,215.9L576.5,216.7L576.5,217.4L576.5,218.2L576.5,218.9L576.5,219.7L576.5,220.4L576.5,221.2L576.5,221.9L576.5,222.7L576.5,223.4L576.5,224.2L575.7,224.2L575,224.2L574.2,224.2L573.5,224.2L572.7,224.2L572,224.2L571.2,224.2L570.5,224.2L569.7,224.2L569,224.2L568.2,224.2L567.5,224.2L566.7,224.2L566,224.2L565.2,224.2L564.5,224.2L563.7,224.2L563,224.2L562.2,224.2L561.5,224.2L560.7,224.2L560,224.2L559.2,224.2L558.5,224.2L557.7,224.2L557,224.2L556.2,224.2L555.5,224.2L554.7,224.2L554,224.2L553.2,224.2L552.5,224.2L551.7,224.2L551,224.2L550.2,224.2L549.5,224.2L548.7,224.2L548,224.2L547.2,224.2L546.5,224.2L545.7,224.2L545,224.2L544.2,224.2L543.5,224.2L542.7,224.2L542,224.2L541.2,224.2L540.5,224.2L539.7,224.2L539,224.2L538.2,224.2L537.5,224.2L536.7,224.2L536,224.2L535.2,224.2L534.5,224.2L533.7,224.2L533,224.2L532.2,224.2L531.5,224.2L530.7,224.2L530,224.2L529.2,224.2L528.5,224.2L527.7,224.2L527,224.2L526.2,224.2L525.5,224.2L524.7,224.2L524,224.2L523.2,224.2L522.5,224.2L521.7,224.2L521,224.2L520.2,224.2L519.5,224.2L518.7,224.2L518,224.2L517.2,224.2L516.5,224.2L515.7,224.2L515,224.2L514.2,224.2L513.5,224.2L512.7,224.2L511.9,224.2L511.2,224.2L510.4,224.2L509.7,224.2L508.9,224.2L508.2,224.2L507.4,224.2L506.7,224.2L505.9,224.2L505.2,224.2L504.4,224.2L503.7,224.2L502.9,224.2L502.2,224.2L501.4,224.2L500.7,224.2L499.9,224.2L499.2,224.2L498.4,224.2L497.7,224.2L496.9,224.2L496.2,224.2L495.4,224.2L494.7,224.2L493.9,224.2L493.2,224.2L492.4,224.2L491.7,224.2L490.9,224.2L490.2,224.2L489.4,224.2L488.7,224.2L487.9,224.2L487.2,224.2L486.4,224.2L485.7,224.2L484.9,224.2L484.2,224.2L483.4,224.2L482.7,224.2L481.9,224.2L481.2,224.2L480.4,224.2L479.7,224.2L478.9,224.2L478.2,224.2L477.4,224.2L476.7,224.2L475.9,224.2L475.2,224.2L474.4,224.2L473.7,224.2L472.9,224.2L472.2,224.2L471.4,224.2L470.7,224.2L469.9,224.2L469.2,224.2L468.4,224.2L467.7,224.2L466.9,224.2L466.2,224.2L465.4,224.2L464.7,224.2L463.9,224.2L463.2,224.2L462.4,224.2L461.7,224.2L460.9,224.2L460.2,224.2L459.4,224.2L458.7,224.2L457.9,224.2L457.2,224.2L456.4,224.2L455.7,224.2L454.9,224.2L454.2,224.2L453.4,224.2L452.7,224.2L451.9,224.2L451.2,224.2L450.4,224.2L449.7,224.2L448.9,224.2L448.2,224.2L447.4,224.2L446.7,224.2L445.9,224.2L445.2,224.2L444.4,224.2L443.7,224.2L442.9,224.2L442.2,224.2L441.4,224.2L440.7,224.2L439.9,224.2L439.2,224.2L438.4,224.2L437.7,224.2L436.9,224.2L436.2,224.2L435.4,224.2L434.7,224.2L433.9,224.2L433.2,224.2L432.4,224.2L431.7,224.2L430.9,224.2L430.2,224.2L429.4,224.2L428.7,224.2L427.9,224.2L427.2,224.2L426.4,224.2L425.7,224.2L424.9,224.2L424.2,224.2L423.4,224.2L422.7,224.2L421.9,224.2L421.2,224.2L420.4,224.2L419.7,224.2L418.9,224.2L418.2,224.2L417.4,224.2L416.7,224.2L415.9,224.2L415.2,224.2L414.4,224.2L413.7,224.2L412.9,224.2L412.2,224.2L411.4,224.2L410.7,224.2L409.9,224.2L409.2,224.2L408.4,224.2L407.7,224.2L406.9,224.2L406.2,224.2L405.4,224.2L404.7,224.2L403.9,224.2L403.2,224.2L402.4,224.2L401.7,224.2L400.9,224.2L400.2,224.2L399.4,224.2L398.7,224.2L397.9,224.2L397.2,224.2L396.4,224.2L395.7,224.2L394.9,224.2L394.2,224.2L393.4,224.2L392.7,224.2L391.9,224.2L391.2,224.2L390.4,224.2L389.7,224.2L388.9,224.2L388.2,224.2L387.4,224.2L386.7,224.2L386.7,223.4L386.7,222.7L386.7,221.9L386.7,221.2L386.7,220.4L386.7,219.7L386.7,218.9L386.7,218.2L386.7,217.4L386.7,216.7L386.7,215.9L386.7,215.2L386.7,214.4L386.7,213.7L386.7,212.9L386.7,212.2L386.7,211.4L386.7,210.7L386.7,209.9L386.7,209.2L386.7,208.4L386.7,207.7L386.7,206.9L386.7,206.2L386.7,205.4L386.7,204.7L386.7,203.9L386.7,203.2L386.7,202.4L386.7,201.7L386.7,200.9L386.7,200.2L386.7,199.4L386.7,198.7L386.7,197.9L386.7,197.2L386.7,196.4L386.7,195.7L386.7,194.9L386.7,194.2L386.7,193.4L386.7,192.7L386.7,191.9L386.7,191.2L386.7,190.4L386.7,189.7L386.7,188.9L386.7,188.2L386.7,187.4L386.7,186.7L386.7,185.9L386.7,185.2L386.7,184.4L386.7,183.7L386.7,182.9L386.7,182.2L386.7,181.4L386.7,180.7L386.7,179.9L386.7,179.2L386.7,178.4L386.7,177.7L386.7,176.9L386.7,176.2L386.7,175.4L386.7,174.7L386.7,173.9L386.7,173.2L386.7,172.4L386.7,171.7L386.7,170.9L386.7,170.2L386.7,169.4L386.7,168.7L386.7,167.9L386.7,167.2L386.7,166.4L386.7,165.7L386.7,164.9L386.7,164.2L386.7,163.4L386.7,162.7L386.7,161.9L386.7,161.2L386.7,160.4L386.7,159.7L386.7,158.9L386.7,158.2L386.7,157.4L386.7,156.7L386.7,155.9L386.7,155.2L386.7,154.4L386.7,153.7L386.7,152.9L386.7,152.2L386.7,151.4L386.7,150.7L386.7,149.9L386.7,149.2L386.7,148.4L386.7,147.7L386.7,146.9L386.7,146.2L386.7,145.4L386.7,144.7L386.7,143.9L386.7,143.2L386.7,142.4L386.7,141.7L386.7,140.9L386.7,140.2L386.7,139.4L386.7,138.7L386.7,137.9L386.7,137.2L386.7,136.4L386.7,135.7L386.7,134.9L386.7,134.2L386.7,133.4L386.7,132.7L386.7,131.9L386.7,131.2L386.7,130.4L386.7,129.7L386.7,128.9L386.7,128.2L386.7,127.5L386.7,126.7L386.7,126L386.7,125.2L386.7,124.5L386.7,123.7L386.7,123L386.7,122.2L386.7,121.5L386.7,120.7L386.7,120L386.7,119.2L386.7,118.5L386.7,117.7L386.7,117L386.7,116.2L386.7,115.5L386.7,114.7L386.7,114L386.7,113.2L386.7,112.5L386.7,111.7L386.7,111L386.7,110.2L386.7,109.5L386.7,108.7L386.7,108L386.7,107.2L386.7,106.5L386.7,105.7L386.7,105L386.7,104.2L386.7,103.5L386.7,102.7L386.7,102L386.7,101.2L386.7,100.5L386.7,99.7L386.7,99L386.7,98.2L386.7,97.5L386.7,96.7L386.7,96L386.7,95.2L386.7,94.5L386.7,93.7L386.7,93L386.7,92.2L386.7,91.5L386.7,90.7L386.7,90L386.7,89.2L386.7,88.5L386.7,87.7L386.7,87L386.7,86.2L386.7,85.5L386.7,84.7L386.7,84L386.7,83.2L386.7,82.5L386.7,81.7L386.7,81L386.7,80.2L386.7,79.5L386.7,78.7L386.7,78L386.7,77.2L386.7,76.5L386.7,75.7L386.7,75L386.7,74.2L386.7,73.5L386.7,72.7L386.7,72L386.7,71.2L386.7,70.5L386.7,69.7L386.7,69L386.7,68.2L386.7,67.5L386.7,66.7L386.7,66L386.7,65.2L386.7,64.5L386.7,63.7L386.7,63L386.7,62.2L386.7,61.5L386.7,60.7L386.7,60L386.7,59.2L386.7,58.5L386.7,57.7L386.7,57L386.7,56.2L386.7,55.5L386.7,54.7L386.7,54L386.7,53.2L386.7,52.5L386.7,51.7L386.7,51L386.7,50.2L386.7,49.5L386.7,48.7L386.7,48L386.7,47.7L387.4,47.6L388.2,47.6L388.9,47.5L389.7,47.4L390.4,47.3L391.2,47.3L391.9,47.2L391.9,47.2L392.7,47.1L393.4,47L394.2,47L394.9,46.9L395.7,46.8L396.5,46.8L397.2,46.7L397.9,46.6L398.7,46.6L399.4,46.5L399.9,46.5L400.2,46.4L400.9,46.4L401.7,46.3L402.4,46.2L403.2,46.2L403.9,46.1L404.7,46L405.4,46L406.2,45.9L406.9,45.8L407.7,45.8L408.4,45.7L408.8,45.7L409.2,45.7L410,45.6L410.7,45.6L411.5,45.5L412.2,45.4L412.9,45.4L413.7,45.3L414.4,45.3L415.2,45.2L415.9,45.2L416.7,45.1L417.5,45.1L418.2,45L418.9,45L419.1,45L419.7,44.9L420.4,44.9L421.2,44.8L421.9,44.8L422.7,44.7L423.4,44.7L424.2,44.6L424.9,44.6L425.7,44.5L426.4,44.5L427.2,44.4L427.9,44.4L428.7,44.4L429.4,44.3L430.2,44.3L430.9,44.2L431.6,44.2L431.7,44.2L432.4,44.2L433.2,44.1L434,44.1L434.7,44L435.4,44L436.2,44L436.9,43.9L437.7,43.9L438.4,43.9L439.2,43.8L439.9,43.8L440.7,43.8L441.4,43.7L442.2,43.7L442.9,43.7L443.7,43.6L444.4,43.6L445.2,43.6L445.9,43.6L446.7,43.5L447.4,43.5L448.2,43.5Z" fill="#51ae5d"/>
<path d="M447.5,57L448.2,56.9L449,56.9L449.7,56.9L450.4,56.8L451.2,56.8L451.9,56.8L452.7,56.8L453.4,56.7L454.2,56.7L454.9,56.7L455.7,56.7L456.5,56.6L457.2,56.6L457.9,56.6L458.7,56.6L459.4,56.6L460.2,56.5L460.9,56.5L461.7,56.5L462.4,56.5L463.2,56.5L464,56.5L464.7,56.4L465.5,56.4L466.2,56.4L466.9,56.4L467.7,56.4L468.4,56.4L469.2,56.4L469.9,56.4L470.7,56.3L471.4,56.3L472.2,56.3L472.9,56.3L473.7,56.3L474.5,56.3L475.2,56.3L475.9,56.3L476.7,56.3L477.4,56.3L478.2,56.3L479,56.3L479.7,56.3L480.4,56.3L481.2,56.3L481.9,56.3L482.7,56.3L483.4,56.3L484.2,56.3L484.9,56.3L485.7,56.3L486.4,56.3L487.2,56.3L488,56.3L488.7,56.3L489.4,56.3L490.2,56.3L490.9,56.3L491.7,56.4L492.4,56.4L493.2,56.4L493.9,56.4L494.7,56.4L495.4,56.4L496.2,56.4L496.9,56.4L497.7,56.5L498.4,56.5L499.2,56.5L500,56.5L500.7,56.5L501.4,56.5L502.2,56.6L502.9,56.6L503.7,56.6L504.4,56.6L505.2,56.6L505.9,56.7L506.7,56.7L507.4,56.7L508.2,56.7L509,56.8L509.7,56.8L510.4,56.8L511.2,56.8L511.9,56.9L512.7,56.9L513.5,56.9L514.1,57L514.2,57L515,57L515.7,57L516.5,57L517.2,57.1L518,57.1L518.7,57.1L519.5,57.2L520.2,57.2L521,57.3L521.7,57.3L522.5,57.3L523.2,57.4L524,57.4L524.7,57.4L525.5,57.5L526.2,57.5L527,57.6L527.7,57.6L528.5,57.7L529.2,57.7L529.2,57.7L530,57.7L530.7,57.8L531.5,57.8L532.2,57.9L533,57.9L533.7,58L534.5,58L535.2,58.1L536,58.1L536.7,58.2L537.5,58.2L538.2,58.3L539,58.3L539.7,58.4L540.5,58.4L540.6,58.5L541.2,58.5L542,58.6L542.7,58.6L543.5,58.7L544.2,58.7L545,58.8L545.7,58.8L546.5,58.9L547.2,59L548,59L548.7,59.1L549.5,59.2L550,59.2L550.2,59.2L551,59.3L551.7,59.3L552.5,59.4L553.2,59.5L554,59.6L554.7,59.6L555.5,59.7L556.2,59.8L557,59.8L557.7,59.9L558.2,60L558.5,60L559.2,60L560,60.1L560.7,60.2L561.5,60.3L562.2,60.3L563,60.4L563.7,60.5L564.5,60.6L565.2,60.7L565.6,60.7L566,60.7L566.7,60.8L567.5,60.9L568.2,61L569,61.1L569.7,61.1L570.5,61.2L571.2,61.3L572,61.4L572.4,61.5L572.7,61.5L573.5,61.6L574.2,61.7L575,61.8L575.7,61.8L576.5,61.9L576.5,62.2L576.5,63L576.5,63.7L576.5,64.5L576.5,65.2L576.5,66L576.5,66.7L576.5,67.5L576.5,68.2L576.5,69L576.5,69.7L576.5,70.5L576.5,71.2L576.5,72L576.5,72.7L576.5,73.5L576.5,74.2L576.5,75L576.5,75.7L576.5,76.5L576.5,77.2L576.5,78L576.5,78.7L576.5,79.5L576.5,80.2L576.5,81L576.5,81.7L576.5,82.5L576.5,83.2L576.5,84L576.5,84.7L576.5,85.5L576.5,86.2L576.5,87L576.5,87.7L576.5,88.5L576.5,89.2L576.5,90L576.5,90.7L576.5,91.5L576.5,92.2L576.5,93L576.5,93.7L576.5,94.5L576.5,95.2L576.5,96L576.5,96.7L576.5,97.5L576.5,98.2L576.5,99L576.5,99.7L576.5,100.5L576.5,101.2L576.5,102L576.5,102.7L576.5,103.5L576.5,104.2L576.5,105L576.5,105.7L576.5,106.5L576.5,107.2L576.5,108L576.5,108.7L576.5,109.5L576.5,110.2L576.5,111L576.5,111.7L576.5,112.5L576.5,113.2L576.5,114L576.5,114.7L576.5,115.5L576.5,116.2L576.5,117L576.5,117.7L576.5,118.5L576.5,119.2L576.5,120L576.5,120.7L576.5,121.5L576.5,122.2L576.5,123L576.5,123.7L576.5,124.5L576.5,125.2L576.5,126L576.5,126.7L576.5,127.5L576.5,128.2L576.5,128.9L576.5,129.7L576.5,130.4L576.5,131.2L576.5,131.9L576.5,132.7L576.5,133.4L576.5,134.2L576.5,134.9L576.5,135.7L576.5,136.4L576.5,137.2L576.5,137.9L576.5,138.7L576.5,139.4L576.5,140.2L576.5,140.9L576.5,141.7L576.5,142.4L576.5,143.2L576.5,143.9L576.5,144.7L576.5,145.4L576.5,146.2L576.5,146.9L576.5,147.7L576.5,148.4L576.5,149.2L576.5,149.9L576.5,150.7L576.5,151.4L576.5,152.2L576.5,152.9L576.5,153.7L576.5,154.4L576.5,155.2L576.5,155.9L576.5,156.7L576.5,157.4L576.5,158.2L576.5,158.9L576.5,159.7L576.5,160.4L576.5,161.2L576.5,161.9L576.5,162.7L576.5,163.4L576.5,164.2L576.5,164.9L576.5,165.7L576.5,166.4L576.5,167.2L576.5,167.9L576.5,168.7L576.5,169.4L576.5,170.2L576.5,170.9L576.5,171.7L576.5,172.4L576.5,173.2L576.5,173.9L576.5,174.7L576.5,175.4L576.5,176.2L576.5,176.9L576.5,177.7L576.5,178.4L576.5,179.2L576.5,179.9L576.5,180.7L576.5,181.4L576.5,182.2L576.5,182.9L576.5,183.7L576.5,184.4L576.5,185.2L576.5,185.9L576.5,186.7L576.5,187.4L576.5,188.2L576.5,188.9L576.5,189.7L576.5,190.4L576.5,191.2L576.5,191.9L576.5,192.7L576.5,193.4L576.5,194.2L576.5,194.9L576.5,195.7L576.5,196.4L576.5,197.2L576.5,197.9L576.5,198.7L576.5,199.4L576.5,200.2L576.5,200.9L576.5,201.7L576.5,202.4L576.5,203.2L576.5,203.9L576.5,204.7L576.5,205.4L576.5,206.2L576.5,206.9L576.5,207.7L576.5,208.4L576.5,209.2L576.5,209.9L576.5,210.7L576.5,211.4L576.5,212.2L576.5,212.9L576.5,213.7L576.5,214.4L576.5,215.2L576.5,215.9L576.5,216.7L576.5,217.4L576.5,218.2L576.5,218.9L576.5,219.7L576.5,220.4L576.5,221.2L576.5,221.9L576.5,222.7L576.5,223.4L576.5,224.2L575.7,224.2L575,224.2L574.2,224.2L573.5,224.2L572.7,224.2L572,224.2L571.2,224.2L570.5,224.2L569.7,224.2L569,224.2L568.2,224.2L567.5,224.2L566.7,224.2L566,224.2L565.2,224.2L564.5,224.2L563.7,224.2L563,224.2L562.2,224.2L561.5,224.2L560.7,224.2L560,224.2L559.2,224.2L558.5,224.2L557.7,224.2L557,224.2L556.2,224.2L555.5,224.2L554.7,224.2L554,224.2L553.2,224.2L552.5,224.2L551.7,224.2L551,224.2L550.2,224.2L549.5,224.2L548.7,224.2L548,224.2L547.2,224.2L546.5,224.2L545.7,224.2L545,224.2L544.2,224.2L543.5,224.2L542.7,224.2L542,224.2L541.2,224.2L540.5,224.2L539.7,224.2L539,224.2L538.2,224.2L537.5,224.2L536.7,224.2L536,224.2L535.2,224.2L534.5,224.2L533.7,224.2L533,224.2L532.2,224.2L531.5,224.2L530.7,224.2L530,224.2L529.2,224.2L528.5,224.2L527.7,224.2L527,224.2L526.2,224.2L525.5,224.2L524.7,224.2L524,224.2L523.2,224.2L522.5,224.2L521.7,224.2L521,224.2L520.2,224.2L519.5,224.2L518.7,224.2L518,224.2L517.2,224.2L516.5,224.2L515.7,224.2L515,224.2L514.2,224.2L513.5,224.2L512.7,224.2L511.9,224.2L511.2,224.2L510.4,224.2L509.7,224.2L508.9,224.2L508.2,224.2L507.4,224.2L506.7,224.2L505.9,224.2L505.2,224.2L504.4,224.2L503.7,224.2L502.9,224.2L502.2,224.2L501.4,224.2L500.7,224.2L499.9,224.2L499.2,224.2L498.4,224.2L497.7,224.2L496.9,224.2L496.2,224.2L495.4,224.2L494.7,224.2L493.9,224.2L493.2,224.2L492.4,224.2L491.7,224.2L490.9,224.2L490.2,224.2L489.4,224.2L488.7,224.2L487.9,224.2L487.2,224.2L486.4,224.2L485.7,224.2L484.9,224.2L484.2,224.2L483.4,224.2L482.7,224.2L481.9,224.2L481.2,224.2L480.4,224.2L479.7,224.2L478.9,224.2L478.2,224.2L477.4,224.2L476.7,224.2L475.9,224.2L475.2,224.2L474.4,224.2L473.7,224.2L472.9,224.2L472.2,224.2L471.4,224.2L470.7,224.2L469.9,224.2L469.2,224.2L468.4,224.2L467.7,224.2L466.9,224.2L466.2,224.2L465.4,224.2L464.7,224.2L463.9,224.2L463.2,224.2L462.4,224.2L461.7,224.2L460.9,224.2L460.2,224.2L459.4,224.2L458.7,224.2L457.9,224.2L457.2,224.2L456.4,224.2L455.7,224.2L454.9,224.2L454.2,224.2L453.4,224.2L452.7,224.2L451.9,224.2L451.2,224.2L450.4,224.2L449.7,224.2L448.9,224.2L448.2,224.2L447.4,224.2L446.7,224.2L445.9,224.2L445.2,224.2L444.4,224.2L443.7,224.2L442.9,224.2L442.2,224.2L441.4,224.2L440.7,224.2L439.9,224.2L439.2,224.2L438.4,224.2L437.7,224.2L436.9,224.2L436.2,224.2L435.4,224.2L434.7,224.2L433.9,224.2L433.2,224.2L432.4,224.2L431.7,224.2L430.9,224.2L430.2,224.2L429.4,224.2L428.7,224.2L427.9,224.2L427.2,224.2L426.4,224.2L425.7,224.2L424.9,224.2L424.2,224.2L423.4,224.2L422.7,224.2L421.9,224.2L421.2,224.2L420.4,224.2L419.7,224.2L418.9,224.2L418.2,224.2L417.4,224.2L416.7,224.2L415.9,224.2L415.2,224.2L414.4,224.2L413.7,224.2L412.9,224.2L412.2,224.2L411.4,224.2L410.7,224.2L409.9,224.2L409.2,224.2L408.4,224.2L407.7,224.2L406.9,224.2L406.2,224.2L405.4,224.2L404.7,224.2L403.9,224.2L403.2,224.2L402.4,224.2L401.7,224.2L400.9,224.2L400.2,224.2L399.4,224.2L398.7,224.2L397.9,224.2L397.2,224.2L396.4,224.2L395.7,224.2L394.9,224.2L394.2,224.2L393.4,224.2L392.7,224.2L391.9,224.2L391.2,224.2L390.4,224.2L389.7,224.2L388.9,224.2L388.2,224.2L387.4,224.2L386.7,224.2L386.7,223.4L386.7,222.7L386.7,221.9L386.7,221.2L386.7,220.4L386.7,219.7L386.7,218.9L386.7,218.2L386.7,217.4L386.7,216.7L386.7,215.9L386.7,215.2L386.7,214.4L386.7,213.7L386.7,212.9L386.7,212.2L386.7,211.4L386.7,210.7L386.7,209.9L386.7,209.2L386.7,208.4L386.7,207.7L386.7,206.9L386.7,206.2L386.7,205.4L386.7,204.7L386.7,203.9L386.7,203.2L386.7,202.4L386.7,201.7L386.7,200.9L386.7,200.2L386.7,199.4L386.7,198.7L386.7,197.9L386.7,197.2L386.7,196.4L386.7,195.7L386.7,194.9L386.7,194.2L386.7,193.4L386.7,192.7L386.7,191.9L386.7,191.2L386.7,190.4L386.7,189.7L386.7,188.9L386.7,188.2L386.7,187.4L386.7,186.7L386.7,185.9L386.7,185.2L386.7,184.4L386.7,183.7L386.7,182.9L386.7,182.2L386.7,181.4L386.7,180.7L386.7,179.9L386.7,179.2L386.7,178.4L386.7,177.7L386.7,176.9L386.7,176.2L386.7,175.4L386.7,174.7L386.7,173.9L386.7,173.2L386.7,172.4L386.7,171.7L386.7,170.9L386.7,170.2L386.7,169.4L386.7,168.7L386.7,167.9L386.7,167.2L386.7,166.4L386.7,165.7L386.7,164.9L386.7,164.2L386.7,163.4L386.7,162.7L386.7,161.9L386.7,161.2L386.7,160.4L386.7,159.7L386.7,158.9L386.7,158.2L386.7,157.4L386.7,156.7L386.7,155.9L386.7,155.2L386.7,154.4L386.7,153.7L386.7,152.9L386.7,152.2L386.7,151.4L386.7,150.7L386.7,149.9L386.7,149.2L386.7,148.4L386.7,147.7L386.7,146.9L386.7,146.2L386.7,145.4L386.7,144.7L386.7,143.9L386.7,143.2L386.7,142.4L386.7,141.7L386.7,140.9L386.7,140.2L386.7,139.4L386.7,138.7L386.7,137.9L386.7,137.2L386.7,136.4L386.7,135.7L386.7,134.9L386.7,134.2L386.7,133.4L386.7,132.7L386.7,131.9L386.7,131.2L386.7,130.4L386.7,129.7L386.7,128.9L386.7,128.2L386.7,127.5L386.7,126.7L386.7,126L386.7,125.2L386.7,124.5L386.7,123.7L386.7,123L386.7,122.2L386.7,121.5L386.7,120.7L386.7,120L386.7,119.2L386.7,118.5L386.7,117.7L386.7,117L386.7,116.2L386.7,115.5L386.7,114.7L386.7,114L386.7,113.2L386.7,112.5L386.7,111.7L386.7,111L386.7,110.2L386.7,109.5L386.7,108.7L386.7,108L386.7,107.2L386.7,106.5L386.7,105.7L386.7,105L386.7,104.2L386.7,103.5L386.7,102.7L386.7,102L386.7,101.2L386.7,100.5L386.7,99.7L386.7,99L386.7,98.2L386.7,97.5L386.7,96.7L386.7,96L386.7,95.2L386.7,94.5L386.7,93.7L386.7,93L386.7,92.2L386.7,91.5L386.7,90.7L386.7,90L386.7,89.2L386.7,88.5L386.7,87.7L386.7,87L386.7,86.2L386.7,85.5L386.7,84.7L386.7,84L386.7,83.2L386.7,82.5L386.7,81.7L386.7,81L386.7,80.2L386.7,79.5L386.7,78.7L386.7,78L386.7,77.2L386.7,76.5L386.7,75.7L386.7,75L386.7,74.2L386.7,73.5L386.7,72.7L386.7,72L386.7,71.2L386.7,70.5L386.7,69.7L386.7,69L386.7,68.2L386.7,67.5L386.7,66.7L386.7,66L386.7,65.2L386.7,64.5L386.7,63.7L386.7,63L386.7,62.2L386.7,61.8L387.4,61.7L388.2,61.6L388.9,61.5L389.3,61.5L389.7,61.4L390.4,61.3L391.2,61.2L391.9,61.1L392.7,61.1L393.4,61L394.2,60.9L394.9,60.8L395.7,60.7L396,60.7L396.4,60.7L397.2,60.6L397.9,60.5L398.7,60.4L399.4,60.3L400.2,60.3L400.9,60.2L401.7,60.1L402.4,60L403.2,60L403.4,60L403.9,59.9L404.7,59.8L405.4,59.8L406.2,59.7L406.9,59.6L407.7,59.5L408.5,59.5L409.2,59.4L410,59.3L410.7,59.3L411.4,59.2L411.6,59.2L412.2,59.2L412.9,59.1L413.7,59L414.4,59L415.2,58.9L415.9,58.8L416.7,58.8L417.4,58.7L418.2,58.7L418.9,58.6L419.7,58.6L420.4,58.5L421.1,58.5L421.2,58.4L421.9,58.4L422.7,58.3L423.4,58.3L424.2,58.2L425,58.2L425.7,58.1L426.5,58.1L427.2,58L427.9,58L428.7,57.9L429.4,57.9L430.2,57.8L430.9,57.8L431.7,57.7L432.4,57.7L432.4,57.7L433.2,57.7L433.9,57.6L434.7,57.6L435.4,57.5L436.2,57.5L436.9,57.4L437.7,57.4L438.4,57.4L439.2,57.3L439.9,57.3L440.7,57.3L441.4,57.2L442.2,57.2L442.9,57.1L443.7,57.1L444.4,57.1L445.2,57L445.9,57L446.7,57L447.4,57Z" fill="#82cc91"/>
<path d="M459.8,72L460.2,71.9L460.9,71.9L461.7,71.9L462.4,71.9L463.2,71.9L464,71.8L464.7,71.8L465.4,71.8L466.2,71.8L466.9,71.8L467.7,71.8L468.4,71.7L469.2,71.7L469.9,71.7L470.7,71.7L471.4,71.7L472.2,71.7L472.9,71.7L473.7,71.7L474.4,71.7L475.2,71.7L475.9,71.7L476.7,71.7L477.4,71.6L478.2,71.6L479,71.6L479.7,71.6L480.4,71.6L481.2,71.6L482,71.6L482.7,71.6L483.4,71.6L484.2,71.6L485,71.7L485.7,71.7L486.5,71.7L487.2,71.7L487.9,71.7L488.7,71.7L489.4,71.7L490.2,71.7L491,71.7L491.7,71.7L492.4,71.7L493.2,71.7L493.9,71.8L494.7,71.8L495.4,71.8L496.2,71.8L496.9,71.8L497.7,71.8L498.4,71.9L499.2,71.9L499.9,71.9L500.7,71.9L501.4,71.9L501.9,72L502.2,72L502.9,72L503.7,72L504.4,72L505.2,72.1L505.9,72.1L506.7,72.1L507.4,72.1L508.2,72.2L509,72.2L509.7,72.2L510.4,72.3L511.2,72.3L512,72.3L512.7,72.4L513.5,72.4L514.2,72.4L515,72.5L515.7,72.5L516.5,72.5L517.2,72.6L518,72.6L518.7,72.7L519.5,72.7L519.6,72.7L520.2,72.7L521,72.8L521.7,72.8L522.5,72.9L523.2,72.9L524,73L524.7,73L525.5,73.1L526.2,73.1L527,73.1L527.7,73.2L528.5,73.3L529.2,73.3L530,73.4L530.7,73.4L531.3,73.5L531.5,73.5L532.2,73.5L533,73.6L533.7,73.6L534.5,73.7L535.2,73.7L536,73.8L536.7,73.9L537.5,73.9L538.2,74L539,74.1L539.7,74.1L540.5,74.2L540.7,74.2L541.2,74.2L542,74.3L542.7,74.4L543.5,74.4L544.2,74.5L545,74.6L545.7,74.7L546.5,74.7L547.2,74.8L548,74.9L548.7,74.9L548.8,75L549.5,75L550.2,75.1L551,75.2L551.7,75.3L552.5,75.3L553.2,75.4L554,75.5L554.7,75.6L555.5,75.7L555.9,75.7L556.2,75.7L557,75.8L557.7,75.9L558.5,76L559.2,76.1L560,76.2L560.7,76.3L561.5,76.3L562.2,76.4L562.3,76.5L563,76.5L563.7,76.6L564.5,76.7L565.2,76.8L566,76.9L566.7,77L567.5,77.1L568.2,77.2L568.3,77.2L569,77.3L569.7,77.4L570.5,77.5L571.2,77.6L572,77.7L572.7,77.8L573.5,77.9L573.8,78L574.2,78L575,78.1L575.7,78.2L576.5,78.3L576.5,78.7L576.5,79.5L576.5,80.2L576.5,81L576.5,81.7L576.5,82.5L576.5,83.2L576.5,84L576.5,84.7L576.5,85.5L576.5,86.2L576.5,87L576.5,87.7L576.5,88.5L576.5,89.2L576.5,90L576.5,90.7L576.5,91.5L576.5,92.2L576.5,93L576.5,93.7L576.5,94.5L576.5,95.2L576.5,96L576.5,96.7L576.5,97.5L576.5,98.2L576.5,99L576.5,99.7L576.5,100.5L576.5,101.2L576.5,102L576.5,102.7L576.5,103.5L576.5,104.2L576.5,105L576.5,105.7L576.5,106.5L576.5,107.2L576.5,108L576.5,108.7L576.5,109.5L576.5,110.2L576.5,111L576.5,111.7L576.5,112.5L576.5,113.2L576.5,114L576.5,114.7L576.5,115.5L576.5,116.2L576.5,117L576.5,117.7L576.5,118.5L576.5,119.2L576.5,120L576.5,120.7L576.5,121.5L576.5,122.2L576.5,123L576.5,123.7L576.5,124.5L576.5,125.2L576.5,126L576.5,126.7L576.5,127.5L576.5,128.2L576.5,128.9L576.5,129.7L576.5,130.4L576.5,131.2L576.5,131.9L576.5,132.7L576.5,133.4L576.5,134.2L576.5,134.9L576.5,135.7L576.5,136.4L576.5,137.2L576.5,137.9L576.5,138.7L576.5,139.4L576.5,140.2L576.5,140.9L576.5,141.7L576.5,142.4L576.5,143.2L576.5,143.9L576.5,144.7L576.5,145.4L576.5,146.2L576.5,146.9L576.5,147.7L576.5,148.4L576.5,149.2L576.5,149.9L576.5,150.7L576.5,151.4L576.5,152.2L576.5,152.9L576.5,153.7L576.5,154.4L576.5,155.2L576.5,155.9L576.5,156.7L576.5,157.4L576.5,158.2L576.5,158.9L576.5,159.7L576.5,160.4L576.5,161.2L576.5,161.9L576.5,162.7L576.5,163.4L576.5,164.2L576.5,164.9L576.5,165.7L576.5,166.4L576.5,167.2L576.5,167.9L576.5,168.7L576.5,169.4L576.5,170.2L576.5,170.9L576.5,171.7L576.5,172.4L576.5,173.2L576.5,173.9L576.5,174.7L576.5,175.4L576.5,176.2L576.5,176.9L576.5,177.7L576.5,178.4L576.5,179.2L576.5,179.9L576.5,180.7L576.5,181.4L576.5,182.2L576.5,182.9L576.5,183.7L576.5,184.4L576.5,185.2L576.5,185.9L576.5,186.7L576.5,187.4L576.5,188.2L576.5,188.9L576.5,189.7L576.5,190.4L576.5,191.2L576.5,191.9L576.5,192.7L576.5,193.4L576.5,194.2L576.5,194.9L576.5,195.7L576.5,196.4L576.5,197.2L576.5,197.9L576.5,198.7L576.5,199.4L576.5,200.2L576.5,200.9L576.5,201.7L576.5,202.4L576.5,203.2L576.5,203.9L576.5,204.7L576.5,205.4L576.5,206.2L576.5,206.9L576.5,207.7L576.5,208.4L576.5,209.2L576.5,209.9L576.5,210.7L576.5,211.4L576.5,212.2L576.5,212.9L576.5,213.7L576.5,214.4L576.5,215.2L576.5,215.9L576.5,216.7L576.5,217.4L576.5,218.2L576.5,218.9L576.5,219.7L576.5,220.4L576.5,221.2L576.5,221.9L576.5,222.7L576.5,223.4L576.5,224.2L575.7,224.2L575,224.2L574.2,224.2L573.5,224.2L572.7,224.2L572,224.2L571.2,224.2L570.5,224.2L569.7,224.2L569,224.2L568.2,224.2L567.5,224.2L566.7,224.2L566,224.2L565.2,224.2L564.5,224.2L563.7,224.2L563,224.2L562.2,224.2L561.5,224.2L560.7,224.2L560,224.2L559.2,224.2L558.5,224.2L557.7,224.2L557,224.2L556.2,224.2L555.5,224.2L554.7,224.2L554,224.2L553.2,224.2L552.5,224.2L551.7,224.2L551,224.2L550.2,224.2L549.5,224.2L548.7,224.2L548,224.2L547.2,224.2L546.5,224.2L545.7,224.2L545,224.2L544.2,224.2L543.5,224.2L542.7,224.2L542,224.2L541.2,224.2L540.5,224.2L539.7,224.2L539,224.2L538.2,224.2L537.5,224.2L536.7,224.2L536,224.2L535.2,224.2L534.5,224.2L533.7,224.2L533,224.2L532.2,224.2L531.5,224.2L530.7,224.2L530,224.2L529.2,224.2L528.5,224.2L527.7,224.2L527,224.2L526.2,224.2L525.5,224.2L524.7,224.2L524,224.2L523.2,224.2L522.5,224.2L521.7,224.2L521,224.2L520.2,224.2L519.5,224.2L518.7,224.2L518,224.2L517.2,224.2L516.5,224.2L515.7,224.2L515,224.2L514.2,224.2L513.5,224.2L512.7,224.2L511.9,224.2L511.2,224.2L510.4,224.2L509.7,224.2L508.9,224.2L508.2,224.2L507.4,224.2L506.7,224.2L505.9,224.2L505.2,224.2L504.4,224.2L503.7,224.2L502.9,224.2L502.2,224.2L501.4,224.2L500.7,224.2L499.9,224.2L499.2,224.2L498.4,224.2L497.7,224.2L496.9,224.2L496.2,224.2L495.4,224.2L494.7,224.2L493.9,224.2L493.2,224.2L492.4,224.2L491.7,224.2L490.9,224.2L490.2,224.2L489.4,224.2L488.7,224.2L487.9,224.2L487.2,224.2L486.4,224.2L485.7,224.2L484.9,224.2L484.2,224.2L483.4,224.2L482.7,224.2L481.9,224.2L481.2,224.2L480.4,224.2L479.7,224.2L478.9,224.2L478.2,224.2L477.4,224.2L476.7,224.2L475.9,224.2L475.2,224.2L474.4,224.2L473.7,224.2L472.9,224.2L472.2,224.2L471.4,224.2L470.7,224.2L469.9,224.2L469.2,224.2L468.4,224.2L467.7,224.2L466.9,224.2L466.2,224.2L465.4,224.2L464.7,224.2L463.9,224.2L463.2,224.2L462.4,224.2L461.7,224.2L460.9,224.2L460.2,224.2L459.4,224.2L458.7,224.2L457.9,224.2L457.2,224.2L456.4,224.2L455.7,224.2L454.9,224.2L454.2,224.2L453.4,224.2L452.7,224.2L451.9,224.2L451.2,224.2L450.4,224.2L449.7,224.2L448.9,224.2L448.2,224.2L447.4,224.2L446.7,224.2L445.9,224.2L445.2,224.2L444.4,224.2L443.7,224.2L442.9,224.2L442.2,224.2L441.4,224.2L440.7,224.2L439.9,224.2L439.2,224.2L438.4,224.2L437.7,224.2L436.9,224.2L436.2,224.2L435.4,224.2L434.7,224.2L433.9,224.2L433.2,224.2L432.4,224.2L431.7,224.2L430.9,224.2L430.2,224.2L429.4,224.2L428.7,224.2L427.9,224.2L427.2,224.2L426.4,224.2L425.7,224.2L424.9,224.2L424.2,224.2L423.4,224.2L422.7,224.2L421.9,224.2L421.2,224.2L420.4,224.2L419.7,224.2L418.9,224.2L418.2,224.2L417.4,224.2L416.7,224.2L415.9,224.2L415.2,224.2L414.4,224.2L413.7,224.2L412.9,224.2L412.2,224.2L411.4,224.2L410.7,224.2L409.9,224.2L409.2,224.2L408.4,224.2L407.7,224.2L406.9,224.2L406.2,224.2L405.4,224.2L404.7,224.2L403.9,224.2L403.2,224.2L402.4,224.2L401.7,224.2L400.9,224.2L400.2,224.2L399.4,224.2L398.7,224.2L397.9,224.2L397.2,224.2L396.4,224.2L395.7,224.2L394.9,224.2L394.2,224.2L393.4,224.2L392.7,224.2L391.9,224.2L391.2,224.2L390.4,224.2L389.7,224.2L388.9,224.2L388.2,224.2L387.4,224.2L386.7,224.2L386.7,223.4L386.7,222.7L386.7,221.9L386.7,221.2L386.7,220.4L386.7,219.7L386.7,218.9L386.7,218.2L386.7,217.4L386.7,216.7L386.7,215.9L386.7,215.2L386.7,214.4L386.7,213.7L386.7,212.9L386.7,212.2L386.7,211.4L386.7,210.7L386.7,209.9L386.7,209.2L386.7,208.4L386.7,207.7L386.7,206.9L386.7,206.2L386.7,205.4L386.7,204.7L386.7,203.9L386.7,203.2L386.7,202.4L386.7,201.7L386.7,200.9L386.7,200.2L386.7,199.4L386.7,198.7L386.7,197.9L386.7,197.2L386.7,196.4L386.7,195.7L386.7,194.9L386.7,194.2L386.7,193.4L386.7,192.7L386.7,191.9L386.7,191.2L386.7,190.4L386.7,189.7L386.7,188.9L386.7,188.2L386.7,187.4L386.7,186.7L386.7,185.9L386.7,185.2L386.7,184.4L386.7,183.7L386.7,182.9L386.7,182.2L386.7,181.4L386.7,180.7L386.7,179.9L386.7,179.2L386.7,178.4L386.7,177.7L386.7,176.9L386.7,176.2L386.7,175.4L386.7,174.7L386.7,173.9L386.7,173.2L386.7,172.4L386.7,171.7L386.7,170.9L386.7,170.2L386.7,169.4L386.7,168.7L386.7,167.9L386.7,167.2L386.7,166.4L386.7,165.7L386.7,164.9L386.7,164.2L386.7,163.4L386.7,162.7L386.7,161.9L386.7,161.2L386.7,160.4L386.7,159.7L386.7,158.9L386.7,158.2L386.7,157.4L386.7,156.7L386.7,155.9L386.7,155.2L386.7,154.4L386.7,153.7L386.7,152.9L386.7,152.2L386.7,151.4L386.7,150.7L386.7,149.9L386.7,149.2L386.7,148.4L386.7,147.7L386.7,146.9L386.7,146.2L386.7,145.4L386.7,144.7L386.7,143.9L386.7,143.2L386.7,142.4L386.7,141.7L386.7,140.9L386.7,140.2L386.7,139.4L386.7,138.7L386.7,137.9L386.7,137.2L386.7,136.4L386.7,135.7L386.7,134.9L386.7,134.2L386.7,133.4L386.7,132.7L386.7,131.9L386.7,131.2L386.7,130.4L386.7,129.7L386.7,128.9L386.7,128.2L386.7,127.5L386.7,126.7L386.7,126L386.7,125.2L386.7,124.5L386.7,123.7L386.7,123L386.7,122.2L386.7,121.5L386.7,120.7L386.7,120L386.7,119.2L386.7,118.5L386.7,117.7L386.7,117L386.7,116.2L386.7,115.5L386.7,114.7L386.7,114L386.7,113.2L386.7,112.5L386.7,111.7L386.7,111L386.7,110.2L386.7,109.5L386.7,108.7L386.7,108L386.7,107.2L386.7,106.5L386.7,105.7L386.7,105L386.7,104.2L386.7,103.5L386.7,102.7L386.7,102L386.7,101.2L386.7,100.5L386.7,99.7L386.7,99L386.7,98.2L386.7,97.5L386.7,96.7L386.7,96L386.7,95.2L386.7,94.5L386.7,93.7L386.7,93L386.7,92.2L386.7,91.5L386.7,90.7L386.7,90L386.7,89.2L386.7,88.5L386.7,87.7L386.7,87L386.7,86.2L386.7,85.5L386.7,84.7L386.7,84L386.7,83.2L386.7,82.5L386.7,81.7L386.7,81L386.7,80.2L386.7,79.5L386.7,78.7L386.7,78.1L387.4,78L388,78L388.2,77.9L388.9,77.8L389.7,77.7L390.4,77.6L391.2,77.5L391.9,77.4L392.7,77.3L393.4,77.2L393.5,77.2L394.2,77.1L395,77L395.7,76.9L396.5,76.8L397.2,76.7L398,76.6L398.7,76.5L399.4,76.5L399.4,76.4L400.2,76.4L400.9,76.3L401.7,76.2L402.4,76.1L403.2,76L403.9,75.9L404.7,75.8L405.4,75.7L405.9,75.7L406.2,75.7L406.9,75.6L407.7,75.5L408.4,75.4L409.2,75.3L409.9,75.3L410.7,75.2L411.5,75.1L412.2,75L412.9,75L413,75L413.7,74.9L414.5,74.8L415.2,74.7L415.9,74.7L416.7,74.6L417.4,74.5L418.2,74.5L418.9,74.4L419.7,74.3L420.4,74.3L421,74.2L421.2,74.2L421.9,74.1L422.7,74.1L423.4,74L424.2,73.9L424.9,73.9L425.7,73.8L426.5,73.8L427.2,73.7L427.9,73.6L428.7,73.6L429.5,73.5L430.2,73.5L430.4,73.5L430.9,73.4L431.7,73.4L432.4,73.3L433.2,73.3L433.9,73.2L434.7,73.2L435.4,73.1L436.2,73.1L437,73L437.7,73L438.4,72.9L439.2,72.9L439.9,72.8L440.7,72.8L441.4,72.7L442.2,72.7L442.2,72.7L442.9,72.7L443.7,72.6L444.4,72.6L445.2,72.5L445.9,72.5L446.7,72.5L447.4,72.4L448.2,72.4L448.9,72.4L449.7,72.3L450.4,72.3L451.2,72.3L451.9,72.2L452.7,72.2L453.5,72.2L454.2,72.1L454.9,72.1L455.7,72.1L456.5,72.1L457.2,72L457.9,72L458.7,72L459.4,72Z" fill="#7ea7dc"/>
<path d="M458.9,90.7L459.4,90.7L460.2,90.7L460.9,90.6L461.7,90.6L462.4,90.6L463.2,90.5L463.9,90.5L464.7,90.5L465.4,90.5L466.2,90.5L466.9,90.4L467.7,90.4L468.5,90.4L469.2,90.4L469.9,90.4L470.7,90.4L471.4,90.3L472.2,90.3L472.9,90.3L473.7,90.3L474.4,90.3L475.2,90.3L475.9,90.3L476.7,90.3L477.4,90.3L478.2,90.3L479,90.3L479.7,90.3L480.4,90.3L481.2,90.3L481.9,90.3L482.7,90.3L483.4,90.3L484.2,90.3L484.9,90.3L485.7,90.3L486.5,90.3L487.2,90.3L487.9,90.3L488.7,90.3L489.4,90.3L490.2,90.3L490.9,90.4L491.7,90.4L492.5,90.4L493.2,90.4L493.9,90.4L494.7,90.4L495.4,90.5L496.2,90.5L496.9,90.5L497.7,90.5L498.4,90.5L499.2,90.6L499.9,90.6L500.7,90.6L501.4,90.6L502.2,90.7L502.9,90.7L503,90.7L503.7,90.7L504.5,90.8L505.2,90.8L505.9,90.8L506.7,90.9L507.4,90.9L508.2,90.9L508.9,91L509.7,91L510.5,91L511.2,91.1L512,91.1L512.7,91.2L513.5,91.2L514.2,91.3L515,91.3L515.7,91.4L516.5,91.4L517.2,91.4L517.2,91.5L518,91.5L518.7,91.5L519.5,91.6L520.2,91.7L521,91.7L521.7,91.8L522.5,91.8L523.2,91.9L524,91.9L524.7,92L525.5,92.1L526.2,92.1L527,92.2L527.2,92.2L527.7,92.2L528.5,92.3L529.2,92.4L530,92.4L530.7,92.5L531.5,92.6L532.2,92.6L533,92.7L533.7,92.8L534.5,92.9L535.2,92.9L535.3,93L536,93L536.7,93.1L537.5,93.2L538.2,93.3L539,93.3L539.7,93.4L540.5,93.5L541.2,93.6L542,93.7L542.2,93.7L542.7,93.8L543.5,93.8L544.2,93.9L545,94L545.7,94.1L546.5,94.2L547.2,94.3L548,94.4L548.4,94.5L548.7,94.5L549.5,94.6L550.2,94.7L551,94.8L551.7,94.9L552.5,95L553.2,95.1L554,95.2L554,95.2L554.7,95.3L555.5,95.4L556.2,95.5L557,95.6L557.7,95.7L558.5,95.8L559.2,96L559.2,96L560,96.1L560.7,96.2L561.5,96.3L562.2,96.4L563,96.5L563.7,96.7L563.9,96.7L564.5,96.8L565.2,96.9L566,97L566.7,97.2L567.5,97.3L568.2,97.4L568.4,97.4L569,97.5L569.7,97.7L570.5,97.8L571.2,97.9L572,98.1L572.6,98.2L572.7,98.2L573.5,98.4L574.2,98.5L575,98.6L575.7,98.8L576.5,98.9L576.5,99L576.5,99.7L576.5,100.5L576.5,101.2L576.5,102L576.5,102.7L576.5,103.5L576.5,104.2L576.5,105L576.5,105.7L576.5,106.5L576.5,107.2L576.5,108L576.5,108.7L576.5,109.5L576.5,110.2L576.5,111L576.5,111.7L576.5,112.5L576.5,113.2L576.5,114L576.5,114.7L576.5,115.5L576.5,116.2L576.5,117L576.5,117.7L576.5,118.5L576.5,119.2L576.5,120L576.5,120.7L576.5,121.5L576.5,122.2L576.5,123L576.5,123.7L576.5,124.5L576.5,125.2L576.5,126L576.5,126.7L576.5,127.5L576.5,128.2L576.5,128.9L576.5,129.7L576.5,130.4L576.5,131.2L576.5,131.9L576.5,132.7L576.5,133.4L576.5,134.2L576.5,134.9L576.5,135.7L576.5,136.4L576.5,137.2L576.5,137.9L576.5,138.7L576.5,139.4L576.5,140.2L576.5,140.9L576.5,141.7L576.5,142.4L576.5,143.2L576.5,143.9L576.5,144.7L576.5,145.4L576.5,146.2L576.5,146.9L576.5,147.7L576.5,148.4L576.5,149.2L576.5,149.9L576.5,150.7L576.5,151.4L576.5,152.2L576.5,152.9L576.5,153.7L576.5,154.4L576.5,155.2L576.5,155.9L576.5,156.7L576.5,157.4L576.5,158.2L576.5,158.9L576.5,159.7L576.5,160.4L576.5,161.2L576.5,161.9L576.5,162.7L576.5,163.4L576.5,164.2L576.5,164.9L576.5,165.7L576.5,166.4L576.5,167.2L576.5,167.9L576.5,168.7L576.5,169.4L576.5,170.2L576.5,170.9L576.5,171.7L576.5,172.4L576.5,173.2L576.5,173.9L576.5,174.7L576.5,175.4L576.5,176.2L576.5,176.9L576.5,177.7L576.5,178.4L576.5,179.2L576.5,179.9L576.5,180.7L576.5,181.4L576.5,182.2L576.5,182.9L576.5,183.7L576.5,184.4L576.5,185.2L576.5,185.9L576.5,186.7L576.5,187.4L576.5,188.2L576.5,188.9L576.5,189.7L576.5,190.4L576.5,191.2L576.5,191.9L576.5,192.7L576.5,193.4L576.5,194.2L576.5,194.9L576.5,195.7L576.5,196.4L576.5,197.2L576.5,197.9L576.5,198.7L576.5,199.4L576.5,200.2L576.5,200.9L576.5,201.7L576.5,202.4L576.5,203.2L576.5,203.9L576.5,204.7L576.5,205.4L576.5,206.2L576.5,206.9L576.5,207.7L576.5,208.4L576.5,209.2L576.5,209.9L576.5,210.7L576.5,211.4L576.5,212.2L576.5,212.9L576.5,213.7L576.5,214.4L576.5,215.2L576.5,215.9L576.5,216.7L576.5,217.4L576.5,218.2L576.5,218.9L576.5,219.7L576.5,220.4L576.5,221.2L576.5,221.9L576.5,222.7L576.5,222.7L575.7,222.9L575,223L574.2,223.1L573.5,223.3L572.7,223.4L572.5,223.4L572,223.6L571.2,223.7L570.5,223.8L569.7,224L569,224.1L568.3,224.2L568.2,224.2L567.5,224.2L566.7,224.2L566,224.2L565.2,224.2L564.5,224.2L563.7,224.2L563,224.2L562.2,224.2L561.5,224.2L560.7,224.2L560,224.2L559.2,224.2L558.5,224.2L557.7,224.2L557,224.2L556.2,224.2L555.5,224.2L554.7,224.2L554,224.2L553.2,224.2L552.5,224.2L551.7,224.2L551,224.2L550.2,224.2L549.5,224.2L548.7,224.2L548,224.2L547.2,224.2L546.5,224.2L545.7,224.2L545,224.2L544.2,224.2L543.5,224.2L542.7,224.2L542,224.2L541.2,224.2L540.5,224.2L539.7,224.2L539,224.2L538.2,224.2L537.5,224.2L536.7,224.2L536,224.2L535.2,224.2L534.5,224.2L533.7,224.2L533,224.2L532.2,224.2L531.5,224.2L530.7,224.2L530,224.2L529.2,224.2L528.5,224.2L527.7,224.2L527,224.2L526.2,224.2L525.5,224.2L524.7,224.2L524,224.2L523.2,224.2L522.5,224.2L521.7,224.2L521,224.2L520.2,224.2L519.5,224.2L518.7,224.2L518,224.2L517.2,224.2L516.5,224.2L515.7,224.2L515,224.2L514.2,224.2L513.5,224.2L512.7,224.2L511.9,224.2L511.2,224.2L510.4,224.2L509.7,224.2L508.9,224.2L508.2,224.2L507.4,224.2L506.7,224.2L505.9,224.2L505.2,224.2L504.4,224.2L503.7,224.2L502.9,224.2L502.2,224.2L501.4,224.2L500.7,224.2L499.9,224.2L499.2,224.2L498.4,224.2L497.7,224.2L496.9,224.2L496.2,224.2L495.4,224.2L494.7,224.2L493.9,224.2L493.2,224.2L492.4,224.2L491.7,224.2L490.9,224.2L490.2,224.2L489.4,224.2L488.7,224.2L487.9,224.2L487.2,224.2L486.4,224.2L485.7,224.2L484.9,224.2L484.2,224.2L483.4,224.2L482.7,224.2L481.9,224.2L481.2,224.2L480.4,224.2L479.7,224.2L478.9,224.2L478.2,224.2L477.4,224.2L476.7,224.2L475.9,224.2L475.2,224.2L474.4,224.2L473.7,224.2L472.9,224.2L472.2,224.2L471.4,224.2L470.7,224.2L469.9,224.2L469.2,224.2L468.4,224.2L467.7,224.2L466.9,224.2L466.2,224.2L465.4,224.2L464.7,224.2L463.9,224.2L463.2,224.2L462.4,224.2L461.7,224.2L460.9,224.2L460.2,224.2L459.4,224.2L458.7,224.2L457.9,224.2L457.2,224.2L456.4,224.2L455.7,224.2L454.9,224.2L454.2,224.2L453.4,224.2L452.7,224.2L451.9,224.2L451.2,224.2L450.4,224.2L449.7,224.2L448.9,224.2L448.2,224.2L447.4,224.2L446.7,224.2L445.9,224.2L445.2,224.2L444.4,224.2L443.7,224.2L442.9,224.2L442.2,224.2L441.4,224.2L440.7,224.2L439.9,224.2L439.2,224.2L438.4,224.2L437.7,224.2L436.9,224.2L436.2,224.2L435.4,224.2L434.7,224.2L433.9,224.2L433.2,224.2L432.4,224.2L431.7,224.2L430.9,224.2L430.2,224.2L429.4,224.2L428.7,224.2L427.9,224.2L427.2,224.2L426.4,224.2L425.7,224.2L424.9,224.2L424.2,224.2L423.4,224.2L422.7,224.2L421.9,224.2L421.2,224.2L420.4,224.2L419.7,224.2L418.9,224.2L418.2,224.2L417.4,224.2L416.7,224.2L415.9,224.2L415.2,224.2L414.4,224.2L413.7,224.2L412.9,224.2L412.2,224.2L411.4,224.2L410.7,224.2L409.9,224.2L409.2,224.2L408.4,224.2L407.7,224.2L406.9,224.2L406.2,224.2L405.4,224.2L404.7,224.2L403.9,224.2L403.2,224.2L402.4,224.2L401.7,224.2L400.9,224.2L400.2,224.2L399.4,224.2L398.7,224.2L397.9,224.2L397.2,224.2L396.4,224.2L395.7,224.2L394.9,224.2L394.6,224.2L394.2,224.1L393.5,224L392.7,223.9L391.9,223.7L391.2,223.6L390.4,223.5L390.4,223.4L389.7,223.3L388.9,223.2L388.2,223L387.5,222.9L386.7,222.8L386.7,222.7L386.7,221.9L386.7,221.2L386.7,220.4L386.7,219.7L386.7,218.9L386.7,218.2L386.7,217.4L386.7,216.7L386.7,215.9L386.7,215.2L386.7,214.4L386.7,213.7L386.7,212.9L386.7,212.2L386.7,211.4L386.7,210.7L386.7,209.9L386.7,209.2L386.7,208.4L386.7,207.7L386.7,206.9L386.7,206.2L386.7,205.4L386.7,204.7L386.7,203.9L386.7,203.2L386.7,202.4L386.7,201.7L386.7,200.9L386.7,200.2L386.7,199.4L386.7,198.7L386.7,197.9L386.7,197.2L386.7,196.4L386.7,195.7L386.7,194.9L386.7,194.2L386.7,193.4L386.7,192.7L386.7,191.9L386.7,191.2L386.7,190.4L386.7,189.7L386.7,188.9L386.7,188.2L386.7,187.4L386.7,186.7L386.7,185.9L386.7,185.2L386.7,184.4L386.7,183.7L386.7,182.9L386.7,182.2L386.7,181.4L386.7,180.7L386.7,179.9L386.7,179.2L386.7,178.4L386.7,177.7L386.7,176.9L386.7,176.2L386.7,175.4L386.7,174.7L386.7,173.9L386.7,173.2L386.7,172.4L386.7,171.7L386.7,170.9L386.7,170.2L386.7,169.4L386.7,168.7L386.7,167.9L386.7,167.2L386.7,166.4L386.7,165.7L386.7,164.9L386.7,164.2L386.7,163.4L386.7,162.7L386.7,161.9L386.7,161.2L386.7,160.4L386.7,159.7L386.7,158.9L386.7,158.2L386.7,157.4L386.7,156.7L386.7,155.9L386.7,155.2L386.7,154.4L386.7,153.7L386.7,152.9L386.7,152.2L386.7,151.4L386.7,150.7L386.7,149.9L386.7,149.2L386.7,148.4L386.7,147.7L386.7,146.9L386.7,146.2L386.7,145.4L386.7,144.7L386.7,143.9L386.7,143.2L386.7,142.4L386.7,141.7L386.7,140.9L386.7,140.2L386.7,139.4L386.7,138.7L386.7,137.9L386.7,137.2L386.7,136.4L386.7,135.7L386.7,134.9L386.7,134.2L386.7,133.4L386.7,132.7L386.7,131.9L386.7,131.2L386.7,130.4L386.7,129.7L386.7,128.9L386.7,128.2L386.7,127.5L386.7,126.7L386.7,126L386.7,125.2L386.7,124.5L386.7,123.7L386.7,123L386.7,122.2L386.7,121.5L386.7,120.7L386.7,120L386.7,119.2L386.7,118.5L386.7,117.7L386.7,117L386.7,116.2L386.7,115.5L386.7,114.7L386.7,114L386.7,113.2L386.7,112.5L386.7,111.7L386.7,111L386.7,110.2L386.7,109.5L386.7,108.7L386.7,108L386.7,107.2L386.7,106.5L386.7,105.7L386.7,105L386.7,104.2L386.7,103.5L386.7,102.7L386.7,102L386.7,101.2L386.7,100.5L386.7,99.7L386.7,99L386.7,98.7L387.5,98.6L388.2,98.4L388.9,98.3L389.3,98.2L389.7,98.1L390.4,98L391.2,97.9L392,97.7L392.7,97.6L393.4,97.5L393.5,97.5L394.2,97.3L394.9,97.2L395.7,97.1L396.4,97L397.2,96.8L397.9,96.7L398,96.7L398.7,96.6L399.4,96.5L400.2,96.3L400.9,96.2L401.7,96.1L402.4,96L402.7,95.9L403.2,95.9L403.9,95.8L404.7,95.7L405.4,95.5L406.2,95.4L406.9,95.3L407.7,95.2L407.9,95.2L408.4,95.1L409.2,95L409.9,94.9L410.7,94.8L411.4,94.7L412.2,94.6L412.9,94.5L413.5,94.5L413.7,94.4L414.4,94.3L415.2,94.2L415.9,94.1L416.7,94L417.4,94L418.2,93.9L418.9,93.8L419.6,93.7L419.7,93.7L420.4,93.6L421.2,93.5L421.9,93.4L422.7,93.4L423.4,93.3L424.2,93.2L424.9,93.1L425.7,93L426.4,93L426.6,93L427.2,92.9L428,92.8L428.7,92.7L429.4,92.7L430.2,92.6L430.9,92.5L431.7,92.5L432.5,92.4L433.2,92.3L433.9,92.3L434.7,92.2L434.7,92.2L435.4,92.1L436.2,92.1L436.9,92L437.7,92L438.4,91.9L439.2,91.8L439.9,91.8L440.7,91.7L441.5,91.7L442.2,91.6L442.9,91.6L443.7,91.5L444.4,91.5L444.6,91.5L445.2,91.4L446,91.4L446.7,91.3L447.4,91.3L448.2,91.2L448.9,91.2L449.7,91.1L450.4,91.1L451.2,91.1L452,91L452.7,91L453.4,90.9L454.2,90.9L455,90.9L455.7,90.8L456.4,90.8L457.2,90.8L457.9,90.7L458.7,90.7Z" fill="#1212e0"/>
<path d="M471.8,116.2L472.2,116.2L472.9,116.2L473.7,116.2L474.4,116.1L475.2,116.1L475.9,116.1L476.7,116.1L477.4,116.1L478.2,116.1L478.9,116.1L479.7,116.1L480.4,116.1L481.2,116.1L482,116.1L482.7,116.1L483.4,116.1L484.2,116.1L484.9,116.1L485.7,116.1L486.4,116.1L487.2,116.1L487.9,116.1L488.7,116.2L489.4,116.2L490.2,116.2L490.3,116.2L490.9,116.2L491.7,116.2L492.4,116.3L493.2,116.3L493.9,116.3L494.7,116.3L495.4,116.4L496.2,116.4L496.9,116.4L497.7,116.5L498.4,116.5L499.2,116.5L500,116.6L500.7,116.6L501.4,116.7L502.2,116.7L502.9,116.8L503.7,116.8L504.4,116.9L505.2,116.9L505.8,117L505.9,117L506.7,117L507.4,117.1L508.2,117.1L508.9,117.2L509.7,117.3L510.4,117.3L511.2,117.4L511.9,117.4L512.7,117.5L513.5,117.6L514.2,117.7L514.7,117.7L515,117.7L515.7,117.8L516.5,117.9L517.2,118L518,118L518.7,118.1L519.5,118.2L520.2,118.3L521,118.4L521.5,118.5L521.7,118.5L522.5,118.6L523.2,118.7L524,118.8L524.7,118.8L525.5,118.9L526.2,119L527,119.1L527.3,119.2L527.7,119.3L528.5,119.4L529.2,119.5L530,119.6L530.7,119.7L531.5,119.8L532.2,119.9L532.4,120L533,120L533.7,120.2L534.5,120.3L535.2,120.4L536,120.5L536.7,120.7L536.9,120.7L537.5,120.8L538.2,120.9L539,121.1L539.7,121.2L540.5,121.4L541,121.5L541.2,121.5L542,121.6L542.7,121.8L543.5,121.9L544.2,122.1L544.7,122.2L545,122.2L545.7,122.4L546.5,122.6L547.2,122.7L548,122.9L548.2,123L548.7,123.1L549.5,123.2L550.2,123.4L551,123.6L551.5,123.7L551.7,123.8L552.5,123.9L553.2,124.1L554,124.3L554.5,124.5L554.7,124.5L555.5,124.7L556.2,124.9L557,125.1L557.4,125.2L557.7,125.3L558.5,125.5L559.2,125.7L560,125.9L560.1,126L560.7,126.1L561.5,126.4L562.2,126.6L562.6,126.7L563,126.8L563.7,127L564.5,127.3L565.1,127.5L565.2,127.5L566,127.7L566.7,128L567.4,128.2L567.5,128.2L568.2,128.5L569,128.7L569.6,128.9L569.7,129L570.5,129.3L571.2,129.5L571.7,129.7L572,129.8L572.7,130.1L573.5,130.4L573.7,130.4L574.2,130.7L575,130.9L575.6,131.2L575.7,131.2L576.5,131.6L576.5,131.9L576.5,132.7L576.5,133.4L576.5,134.2L576.5,134.9L576.5,135.7L576.5,136.4L576.5,137.2L576.5,137.9L576.5,138.7L576.5,139.4L576.5,140.2L576.5,140.9L576.5,141.7L576.5,142.4L576.5,143.2L576.5,143.9L576.5,144.7L576.5,145.4L576.5,146.2L576.5,146.9L576.5,147.7L576.5,148.4L576.5,149.2L576.5,149.9L576.5,150.7L576.5,151.4L576.5,152.2L576.5,152.9L576.5,153.7L576.5,154.4L576.5,155.2L576.5,155.9L576.5,156.7L576.5,157.4L576.5,158.2L576.5,158.9L576.5,159.7L576.5,160.4L576.5,161.2L576.5,161.9L576.5,162.7L576.5,163.4L576.5,164.2L576.5,164.9L576.5,165.7L576.5,166.4L576.5,167.2L576.5,167.9L576.5,168.7L576.5,169.4L576.5,170.2L576.5,170.9L576.5,171.7L576.5,172.4L576.5,173.2L576.5,173.9L576.5,174.7L576.5,175.4L576.5,176.2L576.5,176.9L576.5,177.7L576.5,178.4L576.5,179.2L576.5,179.9L576.5,180.7L576.5,181.4L576.5,182.2L576.5,182.9L576.5,183.7L576.5,184.4L576.5,185.2L576.5,185.9L576.5,186.7L576.5,187.4L576.5,188.2L576.5,188.9L576.5,189.7L576.5,190.1L575.7,190.4L575.6,190.4L575,190.7L574.2,191L573.6,191.2L573.5,191.3L572.7,191.6L572,191.8L571.6,191.9L571.2,192.1L570.5,192.4L569.7,192.6L569.5,192.7L569,192.9L568.2,193.2L567.5,193.4L567.3,193.5L566.7,193.7L566,193.9L565.2,194.1L565,194.2L564.5,194.4L563.7,194.6L563,194.8L562.6,194.9L562.2,195.1L561.5,195.3L560.7,195.5L560,195.7L560,195.7L559.2,195.9L558.5,196.1L557.7,196.3L557.3,196.4L557,196.5L556.2,196.7L555.5,196.9L554.7,197.1L554.4,197.2L554,197.3L553.2,197.5L552.5,197.7L551.7,197.9L551.3,197.9L551,198L550.2,198.2L549.5,198.4L548.7,198.6L548,198.7L548,198.7L547.2,198.9L546.5,199L545.7,199.2L545,199.4L544.5,199.4L544.2,199.5L543.5,199.7L542.7,199.8L542,200L541.2,200.1L540.7,200.2L540.5,200.3L539.7,200.4L539,200.5L538.2,200.7L537.5,200.8L536.7,200.9L536.6,200.9L536,201.1L535.2,201.2L534.5,201.3L533.7,201.4L533,201.6L532.2,201.7L532,201.7L531.5,201.8L530.7,201.9L530,202L529.2,202.1L528.5,202.2L527.7,202.3L527,202.4L526.9,202.4L526.2,202.5L525.5,202.6L524.7,202.7L524,202.8L523.2,202.9L522.5,203L521.7,203.1L521,203.2L521,203.2L520.2,203.3L519.5,203.4L518.7,203.5L518,203.5L517.2,203.6L516.5,203.7L515.7,203.8L515,203.9L514.2,203.9L514,203.9L513.5,204L512.7,204.1L511.9,204.1L511.2,204.2L510.5,204.3L509.7,204.3L509,204.4L508.2,204.4L507.4,204.5L506.7,204.6L505.9,204.6L505.2,204.7L504.7,204.7L504.4,204.7L503.7,204.8L502.9,204.8L502.2,204.9L501.4,204.9L500.7,204.9L500,205L499.2,205L498.5,205.1L497.7,205.1L497,205.1L496.2,205.2L495.4,205.2L494.7,205.2L493.9,205.2L493.2,205.3L492.4,205.3L491.7,205.3L490.9,205.3L490.2,205.4L489.5,205.4L488.7,205.4L487.9,205.4L487.2,205.4L486.4,205.4L485.7,205.4L485.2,205.4L484.9,205.5L484.2,205.5L483.4,205.5L482.7,205.5L481.9,205.5L481.2,205.5L480.5,205.5L479.7,205.5L478.9,205.5L478.2,205.5L477.6,205.4L477.5,205.4L476.7,205.4L475.9,205.4L475.2,205.4L474.4,205.4L473.7,205.4L472.9,205.4L472.2,205.4L471.4,205.3L470.7,205.3L469.9,205.3L469.2,205.3L468.4,205.2L467.7,205.2L466.9,205.2L466.2,205.1L465.4,205.1L464.7,205.1L463.9,205L463.2,205L462.4,205L461.7,204.9L460.9,204.9L460.2,204.8L459.4,204.8L458.7,204.7L458.1,204.7L457.9,204.7L457.2,204.6L456.4,204.6L455.7,204.5L454.9,204.5L454.2,204.4L453.4,204.4L452.7,204.3L452,204.2L451.2,204.2L450.4,204.1L449.7,204L448.9,204L448.8,203.9L448.2,203.9L447.4,203.8L446.7,203.7L446,203.7L445.2,203.6L444.5,203.5L443.7,203.4L442.9,203.3L442.2,203.3L441.7,203.2L441.4,203.2L440.7,203.1L439.9,203L439.2,202.9L438.4,202.8L437.7,202.7L436.9,202.6L436.2,202.5L435.8,202.4L435.4,202.4L434.7,202.3L433.9,202.2L433.2,202.1L432.4,202L431.7,201.9L430.9,201.7L430.7,201.7L430.2,201.6L429.4,201.5L428.7,201.4L427.9,201.3L427.2,201.1L426.4,201L426.1,200.9L425.7,200.9L424.9,200.7L424.2,200.6L423.4,200.5L422.7,200.3L422,200.2L421.9,200.2L421.2,200.1L420.4,199.9L419.7,199.8L418.9,199.6L418.2,199.5L418.2,199.4L417.4,199.3L416.7,199.1L415.9,199L415.2,198.8L414.7,198.7L414.5,198.7L413.7,198.5L412.9,198.3L412.2,198.1L411.4,198L411.4,197.9L410.7,197.8L409.9,197.6L409.2,197.4L408.4,197.2L408.3,197.2L407.7,197L407,196.9L406.2,196.7L405.4,196.5L405.4,196.4L404.7,196.3L403.9,196.1L403.2,195.8L402.7,195.7L402.4,195.6L401.7,195.4L401,195.2L400.2,195L400.1,194.9L399.4,194.8L398.7,194.5L397.9,194.3L397.7,194.2L397.2,194.1L396.4,193.8L395.7,193.6L395.3,193.4L394.9,193.3L394.2,193.1L393.4,192.8L393.1,192.7L392.7,192.6L391.9,192.3L391.2,192L391,191.9L390.4,191.7L389.7,191.5L389,191.2L388.9,191.2L388.2,190.9L387.4,190.6L387.1,190.4L386.7,190.3L386.7,189.7L386.7,188.9L386.7,188.2L386.7,187.4L386.7,186.7L386.7,185.9L386.7,185.2L386.7,184.4L386.7,183.7L386.7,182.9L386.7,182.2L386.7,181.4L386.7,180.7L386.7,179.9L386.7,179.2L386.7,178.4L386.7,177.7L386.7,176.9L386.7,176.2L386.7,175.4L386.7,174.7L386.7,173.9L386.7,173.2L386.7,172.4L386.7,171.7L386.7,170.9L386.7,170.2L386.7,169.4L386.7,168.7L386.7,167.9L386.7,167.2L386.7,166.4L386.7,165.7L386.7,164.9L386.7,164.2L386.7,163.4L386.7,162.7L386.7,161.9L386.7,161.2L386.7,160.4L386.7,159.7L386.7,158.9L386.7,158.2L386.7,157.4L386.7,156.7L386.7,155.9L386.7,155.2L386.7,154.4L386.7,153.7L386.7,152.9L386.7,152.2L386.7,151.4L386.7,150.7L386.7,149.9L386.7,149.2L386.7,148.4L386.7,147.7L386.7,146.9L386.7,146.2L386.7,145.4L386.7,144.7L386.7,143.9L386.7,143.2L386.7,142.4L386.7,141.7L386.7,140.9L386.7,140.2L386.7,139.4L386.7,138.7L386.7,137.9L386.7,137.2L386.7,136.4L386.7,135.7L386.7,134.9L386.7,134.2L386.7,133.4L386.7,132.7L386.7,131.9L386.7,131.2L386.7,131.2L387.4,130.9L388.2,130.6L388.5,130.4L388.9,130.3L389.7,130L390.4,129.7L390.5,129.7L391.2,129.4L391.9,129.2L392.6,128.9L392.7,128.9L393.4,128.7L394.2,128.4L394.8,128.2L394.9,128.1L395.7,127.9L396.4,127.7L397.1,127.5L397.2,127.4L397.9,127.2L398.7,126.9L399.4,126.7L399.5,126.7L400.2,126.5L400.9,126.3L401.7,126.1L402.1,126L402.4,125.8L403.2,125.6L403.9,125.4L404.7,125.2L404.8,125.2L405.4,125L406.2,124.8L406.9,124.6L407.6,124.5L407.7,124.4L408.5,124.2L409.2,124.1L409.9,123.9L410.7,123.7L410.7,123.7L411.4,123.5L412.2,123.3L412.9,123.2L413.7,123L413.9,123L414.5,122.8L415.2,122.7L415.9,122.5L416.7,122.3L417.4,122.2L417.4,122.2L418.2,122L418.9,121.9L419.7,121.7L420.5,121.6L421.1,121.4L421.2,121.4L421.9,121.3L422.7,121.2L423.4,121L424.2,120.9L424.9,120.8L425.2,120.7L425.7,120.6L426.4,120.5L427.2,120.4L427.9,120.2L428.7,120.1L429.5,120L429.7,119.9L430.2,119.9L430.9,119.8L431.7,119.6L432.4,119.5L433.2,119.4L433.9,119.3L434.7,119.2L434.8,119.2L435.4,119.1L436.2,119L437,118.9L437.7,118.8L438.4,118.7L439.2,118.6L440,118.5L440.5,118.5L440.7,118.4L441.4,118.3L442.2,118.3L442.9,118.2L443.7,118.1L444.4,118L445.2,117.9L445.9,117.8L446.7,117.8L447.4,117.7L447.4,117.7L448.2,117.6L448.9,117.6L449.7,117.5L450.4,117.4L451.2,117.4L452,117.3L452.7,117.2L453.4,117.2L454.2,117.1L454.9,117L455.7,117L456.3,117L456.4,116.9L457.2,116.9L457.9,116.8L458.7,116.8L459.4,116.7L460.2,116.7L460.9,116.7L461.7,116.6L462.4,116.6L463.2,116.5L464,116.5L464.7,116.5L465.4,116.4L466.2,116.4L466.9,116.4L467.7,116.3L468.4,116.3L469.2,116.3L469.9,116.3L470.7,116.2L471.4,116.2Z" fill="#0a0a70"/>
<path d="M576.5,131.6 575.7,131.2 575.6,131.2 575,130.9 574.2,130.7 573.7,130.4 573.5,130.4 572.7,130.1 572,129.8 571.7,129.7 571.2,129.5 570.5,129.3 569.7,129 569.6,128.9 569,128.7 568.2,128.5 567.5,128.2 567.4,128.2 566.7,128 566,127.7 565.2,127.5 565.1,127.5 564.5,127.3 563.7,127 563,126.8 562.6,126.7 562.2,126.6 561.5,126.4 560.7,126.1 560.1,126 560,125.9 559.2,125.7 558.5,125.5 557.7,125.3 557.4,125.2 557,125.1 556.2,124.9 555.5,124.7 554.7,124.5 554.5,124.5 554,124.3 553.2,124.1 552.5,123.9 551.7,123.8 551.5,123.7 551,123.6 550.2,123.4 549.5,123.2 548.7,123.1 548.2,123 548,122.9 547.2,122.7 546.5,122.6 545.7,122.4 545,122.2 544.7,122.2 544.2,122.1 543.5,121.9 542.7,121.8 542,121.6 541.2,121.5 541,121.5 540.5,121.4 539.7,121.2 539,121.1 538.2,120.9 537.5,120.8 536.9,120.7 536.7,120.7 536,120.5 535.2,120.4 534.5,120.3 533.7,120.2 533,120 532.4,120 532.2,119.9 531.5,119.8 530.7,119.7 530,119.6 529.2,119.5 528.5,119.4 527.7,119.3 527.3,119.2 527,119.1 526.2,119 525.5,118.9 524.7,118.8 524,118.8 523.2,118.7 522.5,118.6 521.7,118.5 521.5,118.5 521,118.4 520.2,118.3 519.5,118.2 518.7,118.1 518,118 517.2,118 516.5,117.9 515.7,117.8 515,117.7 514.7,117.7 514.2,117.7 513.5,117.6 512.7,117.5 511.9,117.4 511.2,117.4 510.4,117.3 509.7,117.3 508.9,117.2 508.2,117.1 507.4,117.1 506.7,117 505.9,117 505.8,117 505.2,116.9 504.4,116.9 503.7,116.8 503,116.8 502.2,116.7 501.4,116.7 500.7,116.6 499.9,116.6 499.2,116.5 498.4,116.5 497.7,116.5 496.9,116.4 496.2,116.4 495.5,116.4 494.7,116.3 493.9,116.3 493.2,116.3 492.4,116.3 491.7,116.2 490.9,116.2 490.3,116.2 490.2,116.2 489.4,116.2 488.7,116.2 487.9,116.1 487.2,116.1 486.4,116.1 485.7,116.1 484.9,116.1 484.2,116.1 483.4,116.1 482.7,116.1 482,116.1 481.2,116.1 480.4,116.1 479.7,116.1 478.9,116.1 478.2,116.1 477.5,116.1 476.7,116.1 475.9,116.1 475.2,116.1 474.4,116.1 473.7,116.2 472.9,116.2 472.2,116.2 471.8,116.2 471.4,116.2 470.7,116.2 469.9,116.3 469.2,116.3 468.4,116.3 467.7,116.3 466.9,116.4 466.2,116.4 465.4,116.4 464.7,116.5 464,116.5 463.2,116.5 462.4,116.6 461.7,116.6 460.9,116.7 460.2,116.7 459.5,116.7 458.7,116.8 457.9,116.8 457.2,116.9 456.4,116.9 456.3,116.9 455.7,117 454.9,117 454.2,117.1 453.4,117.2 452.7,117.2 451.9,117.3 451.2,117.4 450.4,117.4 449.7,117.5 448.9,117.6 448.2,117.6 447.4,117.7 447.4,117.7 446.7,117.8 445.9,117.8 445.2,117.9 444.4,118 443.7,118.1 442.9,118.2 442.2,118.3 441.4,118.3 440.7,118.4 440.5,118.5 439.9,118.5 439.2,118.6 438.4,118.7 437.7,118.8 437,118.9 436.2,119 435.4,119.1 434.8,119.2 434.7,119.2 433.9,119.3 433.2,119.4 432.4,119.5 431.7,119.6 430.9,119.8 430.2,119.9 429.7,119.9 429.5,120 428.7,120.1 427.9,120.2 427.2,120.4 426.4,120.5 425.7,120.6 425.2,120.7 424.9,120.8 424.2,120.9 423.4,121 422.7,121.2 421.9,121.3 421.2,121.4 421.1,121.5 420.4,121.6 419.7,121.7 418.9,121.9 418.2,122 417.4,122.2 417.4,122.2 416.7,122.3 415.9,122.5 415.2,122.7 414.4,122.8 413.9,123 413.7,123 412.9,123.2 412.2,123.3 411.4,123.5 410.7,123.7 410.7,123.7 409.9,123.9 409.2,124.1 408.5,124.2 407.7,124.4 407.6,124.4 406.9,124.6 406.2,124.8 405.4,125 404.8,125.2 404.7,125.2 403.9,125.4 403.2,125.6 402.4,125.8 402.1,126 401.7,126.1 400.9,126.3 400.2,126.5 399.5,126.7 399.4,126.7 398.7,126.9 398,127.2 397.2,127.4 397.1,127.5 396.4,127.7 395.7,127.9 394.9,128.1 394.8,128.2 394.2,128.4 393.5,128.7 392.7,128.9 392.6,128.9 392,129.2 391.2,129.4 390.5,129.7 390.4,129.7 389.7,130 388.9,130.3 388.5,130.4 388.2,130.6 387.4,130.9 386.7,131.2M386.7,190.3 387.1,190.4 387.5,190.6 388.2,190.9 388.9,191.2 389,191.2 389.7,191.5 390.4,191.7 391,191.9 391.2,192 391.9,192.3 392.7,192.6 393.1,192.7 393.4,192.8 394.2,193.1 394.9,193.3 395.3,193.4 395.7,193.6 396.4,193.8 397.2,194.1 397.7,194.2 398,194.3 398.7,194.5 399.4,194.8 400.1,194.9 400.2,195 401,195.2 401.7,195.4 402.4,195.6 402.7,195.7 403.2,195.8 403.9,196.1 404.7,196.3 405.4,196.4 405.4,196.5 406.2,196.7 406.9,196.9 407.7,197 408.3,197.2 408.4,197.2 409.2,197.4 409.9,197.6 410.7,197.8 411.4,197.9 411.4,198 412.2,198.1 412.9,198.3 413.7,198.5 414.4,198.7 414.7,198.7 415.2,198.8 415.9,199 416.7,199.1 417.4,199.3 418.2,199.4 418.2,199.5 418.9,199.6 419.7,199.8 420.4,199.9 421.2,200.1 421.9,200.2 422,200.2 422.7,200.3 423.4,200.5 424.2,200.6 424.9,200.7 425.7,200.9 426.1,200.9 426.4,201 427.2,201.1 427.9,201.3 428.7,201.4 429.4,201.5 430.2,201.6 430.7,201.7 430.9,201.7 431.7,201.9 432.4,202 433.2,202.1 433.9,202.2 434.7,202.3 435.4,202.4 435.8,202.4 436.2,202.5 436.9,202.6 437.7,202.7 438.4,202.8 439.2,202.9 439.9,203 440.7,203.1 441.4,203.2 441.7,203.2 442.2,203.3 442.9,203.3 443.7,203.4 444.5,203.5 445.2,203.6 445.9,203.7 446.7,203.7 447.4,203.8 448.2,203.9 448.8,203.9 448.9,204 449.7,204 450.4,204.1 451.2,204.2 451.9,204.2 452.7,204.3 453.4,204.4 454.2,204.4 454.9,204.5 455.7,204.5 456.4,204.6 457.2,204.6 457.9,204.7 458.1,204.7 458.7,204.7 459.4,204.8 460.2,204.8 460.9,204.9 461.7,204.9 462.5,205 463.2,205 463.9,205 464.7,205.1 465.4,205.1 466.2,205.1 467,205.2 467.7,205.2 468.4,205.2 469.2,205.3 469.9,205.3 470.7,205.3 471.4,205.3 472.2,205.4 472.9,205.4 473.7,205.4 474.4,205.4 475.2,205.4 475.9,205.4 476.7,205.4 477.4,205.4 477.6,205.4 478.2,205.5 478.9,205.5 479.7,205.5 480.5,205.5 481.2,205.5 481.9,205.5 482.7,205.5 483.4,205.5 484.2,205.5 484.9,205.5 485.2,205.4 485.7,205.4 486.4,205.4 487.2,205.4 487.9,205.4 488.7,205.4 489.5,205.4 490.2,205.4 490.9,205.3 491.7,205.3 492.4,205.3 493.2,205.3 493.9,205.2 494.7,205.2 495.5,205.2 496.2,205.2 496.9,205.1 497.7,205.1 498.5,205.1 499.2,205 499.9,205 500.7,204.9 501.4,204.9 502.2,204.9 503,204.8 503.7,204.8 504.4,204.7 504.7,204.7 505.2,204.7 505.9,204.6 506.7,204.6 507.4,204.5 508.2,204.4 509,204.4 509.7,204.3 510.4,204.3 511.2,204.2 511.9,204.1 512.7,204.1 513.5,204 514,203.9 514.2,203.9 515,203.9 515.7,203.8 516.5,203.7 517.2,203.6 518,203.5 518.7,203.5 519.5,203.4 520.2,203.3 521,203.2 521,203.2 521.7,203.1 522.5,203 523.2,202.9 524,202.8 524.7,202.7 525.5,202.6 526.2,202.5 526.9,202.4 527,202.4 527.7,202.3 528.5,202.2 529.2,202.1 530,202 530.7,201.9 531.5,201.8 532,201.7 532.2,201.7 533,201.6 533.7,201.4 534.5,201.3 535.2,201.2 536,201.1 536.6,200.9 536.7,200.9 537.5,200.8 538.2,200.7 539,200.5 539.7,200.4 540.5,200.3 540.7,200.2 541.2,200.1 542,200 542.7,199.8 543.5,199.7 544.2,199.5 544.5,199.4 545,199.4 545.7,199.2 546.5,199 547.2,198.9 548,198.7 548,198.7 548.7,198.6 549.5,198.4 550.2,198.2 551,198 551.3,197.9 551.7,197.9 552.5,197.7 553.2,197.5 554,197.3 554.4,197.2 554.7,197.1 555.5,196.9 556.2,196.7 557,196.5 557.3,196.4 557.7,196.3 558.5,196.1 559.2,195.9 560,195.7 560,195.7 560.7,195.5 561.5,195.3 562.2,195.1 562.6,194.9 563,194.8 563.7,194.6 564.5,194.4 565,194.2 565.2,194.1 566,193.9 566.7,193.7 567.3,193.4 567.5,193.4 568.2,193.2 569,192.9 569.5,192.7 569.7,192.6 570.5,192.4 571.2,192.1 571.6,191.9 572,191.8 572.7,191.6 573.5,191.3 573.6,191.2 574.2,191 575,190.7 575.6,190.4 575.7,190.4 576.5,190.1" fill="none" stroke="#050505" stroke-opacity="0.9" stroke-width="0.95"/>
<path d="M576.5,98.9 575.7,98.8 575,98.6 574.2,98.5 573.5,98.4 572.7,98.2 572.6,98.2 572,98.1 571.2,97.9 570.5,97.8 569.7,97.7 569,97.5 568.4,97.5 568.2,97.4 567.5,97.3 566.7,97.2 566,97 565.2,96.9 564.5,96.8 563.9,96.7 563.7,96.7 563,96.5 562.2,96.4 561.5,96.3 560.7,96.2 560,96.1 559.2,96 559.2,96 558.5,95.8 557.7,95.7 557,95.6 556.2,95.5 555.5,95.4 554.7,95.3 554,95.2 554,95.2 553.2,95.1 552.5,95 551.7,94.9 551,94.8 550.2,94.7 549.5,94.6 548.7,94.5 548.4,94.5 548,94.4 547.2,94.3 546.5,94.2 545.7,94.1 545,94 544.2,93.9 543.5,93.8 542.7,93.8 542.2,93.7 542,93.7 541.2,93.6 540.5,93.5 539.7,93.4 539,93.3 538.2,93.3 537.5,93.2 536.7,93.1 536,93 535.3,93 535.2,92.9 534.5,92.9 533.7,92.8 533,92.7 532.2,92.6 531.5,92.6 530.7,92.5 530,92.4 529.2,92.4 528.5,92.3 527.7,92.2 527.2,92.2 527,92.2 526.2,92.1 525.5,92.1 524.7,92 524,91.9 523.2,91.9 522.5,91.8 521.7,91.8 521,91.7 520.2,91.7 519.5,91.6 518.7,91.5 518,91.5 517.2,91.5 517.2,91.4 516.5,91.4 515.7,91.4 515,91.3 514.2,91.3 513.5,91.2 512.7,91.2 512,91.1 511.2,91.1 510.5,91 509.7,91 509,91 508.2,90.9 507.4,90.9 506.7,90.9 505.9,90.8 505.2,90.8 504.4,90.8 503.7,90.7 503,90.7 502.9,90.7 502.2,90.7 501.5,90.6 500.7,90.6 500,90.6 499.2,90.6 498.4,90.5 497.7,90.5 496.9,90.5 496.2,90.5 495.4,90.5 494.7,90.4 493.9,90.4 493.2,90.4 492.5,90.4 491.7,90.4 490.9,90.4 490.2,90.3 489.5,90.3 488.7,90.3 487.9,90.3 487.2,90.3 486.5,90.3 485.7,90.3 484.9,90.3 484.2,90.3 483.4,90.3 482.7,90.3 481.9,90.3 481.2,90.3 480.4,90.3 479.7,90.3 479,90.3 478.2,90.3 477.5,90.3 476.7,90.3 475.9,90.3 475.2,90.3 474.4,90.3 473.7,90.3 472.9,90.3 472.2,90.3 471.4,90.3 470.7,90.4 469.9,90.4 469.2,90.4 468.4,90.4 467.7,90.4 466.9,90.4 466.2,90.5 465.4,90.5 464.7,90.5 463.9,90.5 463.2,90.5 462.4,90.6 461.7,90.6 460.9,90.6 460.2,90.7 459.4,90.7 458.9,90.7 458.7,90.7 457.9,90.7 457.2,90.8 456.4,90.8 455.7,90.8 455,90.9 454.2,90.9 453.4,90.9 452.7,91 451.9,91 451.2,91.1 450.4,91.1 449.7,91.1 448.9,91.2 448.2,91.2 447.4,91.3 446.7,91.3 445.9,91.4 445.2,91.4 444.6,91.5 444.4,91.5 443.7,91.5 442.9,91.6 442.2,91.6 441.4,91.7 440.7,91.7 439.9,91.8 439.2,91.8 438.4,91.9 437.7,92 436.9,92 436.2,92.1 435.5,92.1 434.7,92.2 434.7,92.2 433.9,92.3 433.2,92.3 432.5,92.4 431.7,92.5 430.9,92.5 430.2,92.6 429.4,92.7 428.7,92.7 427.9,92.8 427.2,92.9 426.6,93 426.4,93 425.7,93 424.9,93.1 424.2,93.2 423.4,93.3 422.7,93.4 421.9,93.4 421.2,93.5 420.4,93.6 419.7,93.7 419.6,93.7 418.9,93.8 418.2,93.9 417.4,94 416.7,94 416,94.1 415.2,94.2 414.4,94.3 413.7,94.4 413.5,94.5 412.9,94.5 412.2,94.6 411.4,94.7 410.7,94.8 409.9,94.9 409.2,95 408.4,95.1 407.9,95.2 407.7,95.2 406.9,95.3 406.2,95.4 405.4,95.5 404.7,95.7 403.9,95.8 403.2,95.9 402.7,96 402.4,96 401.7,96.1 400.9,96.2 400.2,96.3 399.4,96.5 398.7,96.6 398,96.7 397.9,96.7 397.2,96.8 396.4,97 395.7,97.1 394.9,97.2 394.2,97.3 393.5,97.5 393.4,97.5 392.7,97.6 391.9,97.7 391.2,97.9 390.4,98 389.7,98.1 389.3,98.2 388.9,98.3 388.2,98.4 387.4,98.6 386.7,98.7M386.7,222.8 387.5,222.9 388.2,223 388.9,223.2 389.7,223.3 390.4,223.4 390.4,223.5 391.2,223.6 391.9,223.7 392.7,223.9 393.5,224 394.2,224.1 394.6,224.2M568.3,224.2 569,224.1 569.7,224 570.5,223.8 571.2,223.7 572,223.6 572.5,223.4 572.7,223.4 573.5,223.3 574.2,223.1 575,223 575.7,222.9 576.5,222.7" fill="none" stroke="#050505" stroke-opacity="0.9" stroke-width="0.95"/>
<path d="M576.5,78.3 575.7,78.2 575,78.1 574.2,78 573.8,78 573.5,77.9 572.7,77.8 572,77.7 571.2,77.6 570.5,77.5 569.7,77.4 569,77.3 568.3,77.2 568.2,77.2 567.5,77.1 566.7,77 566,76.9 565.2,76.8 564.5,76.7 563.7,76.6 563,76.5 562.3,76.5 562.2,76.4 561.5,76.3 560.7,76.3 560,76.2 559.2,76.1 558.5,76 557.7,75.9 557,75.8 556.2,75.7 555.9,75.7 555.5,75.7 554.7,75.6 554,75.5 553.2,75.4 552.5,75.3 551.7,75.3 551,75.2 550.2,75.1 549.5,75 548.8,75 548.7,74.9 548,74.9 547.2,74.8 546.5,74.7 545.7,74.7 545,74.6 544.2,74.5 543.5,74.4 542.7,74.4 542,74.3 541.2,74.2 540.7,74.2 540.5,74.2 539.7,74.1 539,74.1 538.2,74 537.5,73.9 536.7,73.9 536,73.8 535.2,73.7 534.5,73.7 533.7,73.6 533,73.6 532.2,73.5 531.5,73.5 531.3,73.5 530.7,73.4 530,73.4 529.2,73.3 528.5,73.3 527.7,73.2 527,73.1 526.2,73.1 525.5,73.1 524.7,73 524,73 523.2,72.9 522.5,72.9 521.7,72.8 521,72.8 520.2,72.7 519.6,72.7 519.4,72.7 518.7,72.7 518,72.6 517.2,72.6 516.5,72.5 515.7,72.5 515,72.5 514.2,72.4 513.5,72.4 512.7,72.4 512,72.3 511.2,72.3 510.4,72.3 509.7,72.2 509,72.2 508.2,72.2 507.4,72.1 506.7,72.1 505.9,72.1 505.2,72.1 504.4,72 503.7,72 502.9,72 502.2,72 501.9,72 501.4,71.9 500.7,71.9 499.9,71.9 499.2,71.9 498.4,71.9 497.7,71.8 496.9,71.8 496.2,71.8 495.4,71.8 494.7,71.8 493.9,71.8 493.2,71.7 492.5,71.7 491.7,71.7 491,71.7 490.2,71.7 489.5,71.7 488.7,71.7 487.9,71.7 487.2,71.7 486.4,71.7 485.7,71.7 485,71.7 484.2,71.6 483.4,71.6 482.7,71.6 481.9,71.6 481.2,71.6 480.4,71.6 479.7,71.6 478.9,71.6 478.2,71.6 477.4,71.6 476.7,71.7 475.9,71.7 475.2,71.7 474.4,71.7 473.7,71.7 472.9,71.7 472.2,71.7 471.5,71.7 470.7,71.7 469.9,71.7 469.2,71.7 468.4,71.7 467.7,71.8 466.9,71.8 466.2,71.8 465.4,71.8 464.7,71.8 464,71.8 463.2,71.9 462.4,71.9 461.7,71.9 460.9,71.9 460.2,71.9 459.8,72 459.4,72 458.7,72 457.9,72 457.2,72 456.5,72.1 455.7,72.1 454.9,72.1 454.2,72.1 453.5,72.2 452.7,72.2 451.9,72.2 451.2,72.3 450.4,72.3 449.7,72.3 449,72.4 448.2,72.4 447.4,72.4 446.7,72.5 445.9,72.5 445.2,72.5 444.4,72.6 443.7,72.6 442.9,72.7 442.2,72.7 442.2,72.7 441.4,72.7 440.7,72.8 439.9,72.8 439.2,72.9 438.4,72.9 437.7,73 437,73 436.2,73.1 435.4,73.1 434.7,73.2 433.9,73.2 433.2,73.3 432.4,73.3 431.7,73.4 430.9,73.4 430.4,73.5 430.2,73.5 429.4,73.5 428.7,73.6 427.9,73.6 427.2,73.7 426.4,73.8 425.7,73.8 424.9,73.9 424.2,73.9 423.4,74 422.7,74.1 421.9,74.1 421.2,74.2 421,74.2 420.4,74.3 419.7,74.3 418.9,74.4 418.2,74.5 417.4,74.5 416.7,74.6 415.9,74.7 415.2,74.7 414.5,74.8 413.7,74.9 413,75 412.9,75 412.2,75 411.5,75.1 410.7,75.2 409.9,75.3 409.2,75.3 408.4,75.4 407.7,75.5 406.9,75.6 406.2,75.7 405.9,75.7 405.4,75.7 404.7,75.8 403.9,75.9 403.2,76 402.4,76.1 401.7,76.2 400.9,76.3 400.2,76.4 399.4,76.4 399.4,76.5 398.7,76.5 397.9,76.6 397.2,76.7 396.4,76.8 395.7,76.9 395,77 394.2,77.1 393.5,77.2 393.4,77.2 392.7,77.3 391.9,77.4 391.2,77.5 390.4,77.6 389.7,77.7 388.9,77.8 388.2,77.9 388,78 387.4,78 386.7,78.1" fill="none" stroke="#050505" stroke-opacity="0.9" stroke-width="0.95"/>
<path d="M576.5,61.9 575.7,61.8 575,61.8 574.2,61.7 573.5,61.6 572.7,61.5 572.4,61.5 572,61.4 571.2,61.3 570.5,61.2 569.7,61.1 569,61.1 568.2,61 567.5,60.9 566.7,60.8 566,60.7 565.6,60.7 565.2,60.7 564.5,60.6 563.7,60.5 563,60.4 562.2,60.3 561.5,60.3 560.7,60.2 560,60.1 559.2,60 558.5,60 558.2,60 557.7,59.9 557,59.8 556.2,59.8 555.5,59.7 554.7,59.6 554,59.6 553.2,59.5 552.5,59.4 551.7,59.3 551,59.3 550.2,59.2 550,59.2 549.5,59.2 548.7,59.1 548,59 547.2,59 546.5,58.9 545.7,58.8 545,58.8 544.2,58.7 543.5,58.7 542.7,58.6 542,58.6 541.2,58.5 540.6,58.5 540.5,58.4 539.7,58.4 539,58.3 538.2,58.3 537.5,58.2 536.7,58.2 536,58.1 535.2,58.1 534.5,58 533.7,58 533,57.9 532.2,57.9 531.5,57.8 530.7,57.8 530,57.7 529.2,57.7 529.2,57.7 528.5,57.7 527.7,57.6 527,57.6 526.2,57.5 525.5,57.5 524.7,57.4 524,57.4 523.2,57.4 522.5,57.3 521.7,57.3 521,57.3 520.2,57.2 519.5,57.2 518.7,57.1 518,57.1 517.2,57.1 516.5,57 515.7,57 515,57 514.2,57 514.1,57 513.5,56.9 512.7,56.9 511.9,56.9 511.2,56.8 510.4,56.8 509.7,56.8 508.9,56.8 508.2,56.7 507.4,56.7 506.7,56.7 505.9,56.7 505.2,56.6 504.4,56.6 503.7,56.6 503,56.6 502.2,56.6 501.4,56.5 500.7,56.5 499.9,56.5 499.2,56.5 498.4,56.5 497.7,56.5 496.9,56.4 496.2,56.4 495.4,56.4 494.7,56.4 493.9,56.4 493.2,56.4 492.4,56.4 491.7,56.4 490.9,56.3 490.2,56.3 489.4,56.3 488.7,56.3 487.9,56.3 487.2,56.3 486.4,56.3 485.7,56.3 484.9,56.3 484.2,56.3 483.4,56.3 482.7,56.3 481.9,56.3 481.2,56.3 480.4,56.3 479.7,56.3 478.9,56.3 478.2,56.3 477.4,56.3 476.7,56.3 475.9,56.3 475.2,56.3 474.4,56.3 473.7,56.3 472.9,56.3 472.2,56.3 471.4,56.3 470.7,56.3 469.9,56.4 469.2,56.4 468.4,56.4 467.7,56.4 466.9,56.4 466.2,56.4 465.4,56.4 464.7,56.4 464,56.5 463.2,56.5 462.4,56.5 461.7,56.5 460.9,56.5 460.2,56.5 459.4,56.6 458.7,56.6 457.9,56.6 457.2,56.6 456.5,56.6 455.7,56.7 454.9,56.7 454.2,56.7 453.5,56.7 452.7,56.8 451.9,56.8 451.2,56.8 450.4,56.8 449.7,56.9 448.9,56.9 448.2,56.9 447.5,57 447.4,57 446.7,57 445.9,57 445.2,57 444.4,57.1 443.7,57.1 442.9,57.1 442.2,57.2 441.4,57.2 440.7,57.3 439.9,57.3 439.2,57.3 438.4,57.4 437.7,57.4 436.9,57.4 436.2,57.5 435.4,57.5 434.7,57.6 433.9,57.6 433.2,57.7 432.4,57.7 432.4,57.7 431.7,57.7 430.9,57.8 430.2,57.8 429.4,57.9 428.7,57.9 427.9,58 427.2,58 426.4,58.1 425.7,58.1 425,58.2 424.2,58.2 423.4,58.3 422.7,58.3 422,58.4 421.2,58.4 421.1,58.5 420.4,58.5 419.7,58.6 418.9,58.6 418.2,58.7 417.4,58.7 416.7,58.8 415.9,58.8 415.2,58.9 414.4,59 413.7,59 412.9,59.1 412.2,59.2 411.6,59.2 411.4,59.2 410.7,59.3 409.9,59.3 409.2,59.4 408.4,59.5 407.7,59.5 406.9,59.6 406.2,59.7 405.4,59.8 404.7,59.8 403.9,59.9 403.4,60 403.2,60 402.4,60 401.7,60.1 400.9,60.2 400.2,60.3 399.4,60.3 398.7,60.4 397.9,60.5 397.2,60.6 396.4,60.7 396,60.7 395.7,60.7 394.9,60.8 394.2,60.9 393.4,61 392.7,61.1 391.9,61.1 391.2,61.2 390.4,61.3 389.7,61.4 389.3,61.5 388.9,61.5 388.2,61.6 387.4,61.7 386.7,61.8" fill="none" stroke="#050505" stroke-opacity="0.9" stroke-width="0.95"/>
<path d="M576.5,47.9 575.7,47.8 575,47.7 574.2,47.7 573.5,47.6 572.7,47.5 572,47.4 571.2,47.4 570.5,47.3 569.7,47.2 569.7,47.2 569,47.1 568.2,47.1 567.5,47 566.7,46.9 566,46.8 565.2,46.8 564.5,46.7 563.7,46.6 563,46.6 562.2,46.5 561.7,46.5 561.4,46.4 560.7,46.4 560,46.3 559.2,46.2 558.5,46.2 557.7,46.1 557,46 556.2,46 555.5,45.9 554.7,45.9 554,45.8 553.2,45.7 552.7,45.7 552.5,45.7 551.7,45.6 551,45.6 550.2,45.5 549.5,45.5 548.7,45.4 548,45.3 547.2,45.3 546.5,45.2 545.7,45.2 545,45.1 544.2,45.1 543.5,45 542.7,45 542.4,45 542,44.9 541.2,44.9 540.5,44.8 539.7,44.8 539,44.7 538.2,44.7 537.5,44.6 536.7,44.6 536,44.5 535.2,44.5 534.5,44.5 533.7,44.4 533,44.4 532.2,44.3 531.5,44.3 530.7,44.2 530,44.2 529.9,44.2 529.2,44.2 528.5,44.1 527.7,44.1 527,44.1 526.2,44 525.5,44 524.7,43.9 524,43.9 523.2,43.9 522.5,43.8 521.7,43.8 521,43.8 520.2,43.7 519.5,43.7 518.7,43.7 518,43.6 517.2,43.6 516.5,43.6 515.7,43.6 515,43.5 514.2,43.5 513.5,43.5 512.7,43.5 512.7,43.5 511.9,43.4 511.2,43.4 510.5,43.4 509.7,43.4 508.9,43.3 508.2,43.3 507.4,43.3 506.7,43.3 506,43.2 505.2,43.2 504.4,43.2 503.7,43.2 502.9,43.2 502.2,43.2 501.4,43.1 500.7,43.1 499.9,43.1 499.2,43.1 498.4,43.1 497.7,43.1 496.9,43 496.2,43 495.4,43 494.7,43 493.9,43 493.2,43 492.4,43 491.7,43 490.9,43 490.2,43 489.4,42.9 488.7,42.9 488,42.9 487.2,42.9 486.4,42.9 485.7,42.9 484.9,42.9 484.2,42.9 483.4,42.9 482.7,42.9 482,42.9 481.2,42.9 480.4,42.9 479.7,42.9 478.9,42.9 478.2,42.9 477.4,42.9 476.7,42.9 476,42.9 475.2,42.9 474.4,42.9 473.7,42.9 472.9,42.9 472.2,42.9 471.5,43 470.7,43 469.9,43 469.2,43 468.4,43 467.7,43 466.9,43 466.2,43 465.4,43 464.7,43 463.9,43.1 463.2,43.1 462.4,43.1 461.7,43.1 460.9,43.1 460.2,43.1 459.5,43.1 458.7,43.2 457.9,43.2 457.2,43.2 456.4,43.2 455.7,43.2 455,43.3 454.2,43.3 453.4,43.3 452.7,43.3 451.9,43.3 451.2,43.4 450.4,43.4 449.7,43.4 448.9,43.4 448.9,43.5 448.2,43.5 447.4,43.5 446.7,43.5 445.9,43.6 445.2,43.6 444.4,43.6 443.7,43.6 442.9,43.7 442.2,43.7 441.4,43.7 440.7,43.8 439.9,43.8 439.2,43.8 438.4,43.9 437.7,43.9 436.9,43.9 436.2,44 435.4,44 434.7,44 433.9,44.1 433.2,44.1 432.4,44.2 431.7,44.2 431.6,44.2 430.9,44.2 430.2,44.3 429.4,44.3 428.7,44.4 427.9,44.4 427.2,44.4 426.4,44.5 425.7,44.5 425,44.6 424.2,44.6 423.4,44.7 422.7,44.7 421.9,44.8 421.2,44.8 420.5,44.9 419.7,44.9 419.1,45 418.9,45 418.2,45 417.5,45.1 416.7,45.1 415.9,45.2 415.2,45.2 414.4,45.3 413.7,45.3 412.9,45.4 412.2,45.4 411.5,45.5 410.7,45.6 410,45.6 409.2,45.7 408.8,45.7 408.4,45.7 407.7,45.8 406.9,45.8 406.2,45.9 405.4,46 404.7,46 403.9,46.1 403.2,46.2 402.5,46.2 401.7,46.3 400.9,46.4 400.2,46.4 399.9,46.5 399.4,46.5 398.7,46.6 398,46.6 397.2,46.7 396.4,46.8 395.7,46.8 394.9,46.9 394.2,47 393.4,47 392.7,47.1 391.9,47.2 391.9,47.2 391.2,47.3 390.4,47.3 389.7,47.4 388.9,47.5 388.2,47.6 387.4,47.6 386.7,47.7" fill="none" stroke="#050505" stroke-opacity="0.9" stroke-width="0.95"/>
<path d="M576.5,35.4 575.7,35.3 575,35.3 574.2,35.2 574.2,35.2 573.5,35.1 572.7,35.1 572,35 571.2,34.9 570.5,34.9 569.7,34.8 569,34.7 568.2,34.7 567.5,34.6 566.7,34.5 566,34.5 565.7,34.5 565.2,34.4 564.5,34.3 563.7,34.3 563,34.2 562.2,34.2 561.5,34.1 560.7,34 560,34 559.2,33.9 558.5,33.9 557.7,33.8 557,33.7 556.3,33.7 556.2,33.7 555.5,33.6 554.7,33.6 554,33.5 553.2,33.5 552.5,33.4 551.7,33.4 551,33.3 550.2,33.3 549.5,33.2 548.7,33.2 548,33.1 547.2,33.1 546.5,33 545.7,33 545.5,33 545,32.9 544.2,32.9 543.5,32.8 542.7,32.8 542,32.7 541.2,32.7 540.5,32.6 539.7,32.6 539,32.6 538.2,32.5 537.5,32.5 536.7,32.4 536,32.4 535.2,32.3 534.5,32.3 533.7,32.3 533,32.2 532.4,32.2 532.2,32.2 531.5,32.2 530.7,32.1 530,32.1 529.2,32 528.5,32 527.7,32 527,31.9 526.2,31.9 525.5,31.9 524.7,31.8 524,31.8 523.2,31.8 522.5,31.7 521.7,31.7 521,31.7 520.2,31.7 519.5,31.6 518.7,31.6 518,31.6 517.2,31.5 516.5,31.5 515.7,31.5 515,31.5 514.3,31.4 514.2,31.4 513.5,31.4 512.7,31.4 512,31.4 511.2,31.4 510.4,31.3 509.7,31.3 509,31.3 508.2,31.3 507.5,31.2 506.7,31.2 505.9,31.2 505.2,31.2 504.5,31.2 503.7,31.2 502.9,31.1 502.2,31.1 501.5,31.1 500.7,31.1 499.9,31.1 499.2,31.1 498.4,31.1 497.7,31 497,31 496.2,31 495.5,31 494.7,31 493.9,31 493.2,31 492.4,31 491.7,31 490.9,31 490.2,30.9 489.4,30.9 488.7,30.9 487.9,30.9 487.2,30.9 486.4,30.9 485.7,30.9 484.9,30.9 484.2,30.9 483.4,30.9 482.7,30.9 481.9,30.9 481.2,30.9 480.5,30.9 479.7,30.9 478.9,30.9 478.2,30.9 477.4,30.9 476.7,30.9 475.9,30.9 475.2,30.9 474.5,30.9 473.7,30.9 472.9,30.9 472.2,30.9 471.5,30.9 470.7,31 470,31 469.2,31 468.4,31 467.7,31 466.9,31 466.2,31 465.4,31 464.7,31 463.9,31 463.2,31.1 462.4,31.1 461.7,31.1 460.9,31.1 460.2,31.1 459.4,31.1 458.7,31.1 457.9,31.2 457.2,31.2 456.5,31.2 455.7,31.2 454.9,31.2 454.2,31.2 453.4,31.3 452.7,31.3 451.9,31.3 451.2,31.3 450.4,31.3 449.7,31.4 448.9,31.4 448.2,31.4 447.4,31.4 447.1,31.5 446.7,31.5 445.9,31.5 445.2,31.5 444.4,31.5 443.7,31.6 442.9,31.6 442.2,31.6 441.4,31.7 440.7,31.7 439.9,31.7 439.2,31.7 438.4,31.8 437.7,31.8 436.9,31.8 436.2,31.9 435.4,31.9 434.7,31.9 433.9,32 433.2,32 432.4,32 431.7,32.1 431,32.1 430.2,32.1 429.4,32.2 429.1,32.2 428.7,32.2 427.9,32.3 427.2,32.3 426.4,32.3 425.7,32.4 424.9,32.4 424.2,32.5 423.4,32.5 422.7,32.5 421.9,32.6 421.2,32.6 420.4,32.7 419.7,32.7 418.9,32.8 418.2,32.8 417.4,32.9 416.7,32.9 415.9,32.9 415.9,33 415.2,33 414.4,33 413.7,33.1 412.9,33.1 412.2,33.2 411.4,33.2 410.7,33.3 409.9,33.4 409.2,33.4 408.4,33.5 407.7,33.5 406.9,33.6 406.2,33.6 405.4,33.7 405.1,33.7 404.7,33.7 403.9,33.8 403.2,33.8 402.4,33.9 401.7,34 400.9,34 400.2,34.1 399.4,34.1 398.7,34.2 397.9,34.3 397.2,34.3 396.4,34.4 395.7,34.5 395.7,34.5 394.9,34.5 394.2,34.6 393.4,34.6 392.7,34.7 391.9,34.8 391.2,34.8 390.5,34.9 389.7,35 388.9,35 388.2,35.1 387.4,35.2 387.3,35.2 386.7,35.3" fill="none" stroke="#050505" stroke-opacity="0.9" stroke-width="0.95"/>
</g>
<rect x="388.0" y="30.5" width="186.70000000000002" height="192.20000000000002" fill="none" stroke="#f2f2ee" stroke-opacity="0.5" stroke-width="0.7"/>
<rect x="389.2" y="31.7" width="184.3" height="189.8" fill="none" stroke="#8a8a8a" stroke-opacity="0.55" stroke-width="1"/>
<circle cx="415.9" cy="194.4" r="2.3" fill="#000"/>
<circle cx="415.9" cy="59.9" r="2.3" fill="#000"/>
<circle cx="546.9" cy="194.4" r="2.3" fill="#000"/>
<circle cx="546.9" cy="59.9" r="2.3" fill="#000"/>
<circle cx="388.8" cy="127.2" r="2.3" fill="#000"/>
<circle cx="574" cy="127.2" r="2.3" fill="#000"/>
<circle cx="481.4" cy="222.2" r="2.3" fill="#000"/>
<circle cx="481.4" cy="32.1" r="2.3" fill="#000"/>
<circle cx="481.4" cy="127.2" r="2.3" fill="#000"/>
<line x1="415.5" y1="222.5" x2="415.5" y2="224.5" stroke="#999" stroke-width="0.6"/>
<text x="415.5" y="233.1" font-size="8" font-weight="normal" text-anchor="middle" fill="#262626" textLength="7.8" lengthAdjust="spacingAndGlyphs" stroke="#262626" stroke-width="0.12">50</text>
<line x1="448.2" y1="222.5" x2="448.2" y2="224.5" stroke="#999" stroke-width="0.6"/>
<text x="448.2" y="233.1" font-size="8" font-weight="normal" text-anchor="middle" fill="#262626" textLength="7.8" lengthAdjust="spacingAndGlyphs" stroke="#262626" stroke-width="0.12">55</text>
<line x1="481" y1="222.5" x2="481" y2="224.5" stroke="#999" stroke-width="0.6"/>
<text x="481" y="233.1" font-size="8" font-weight="normal" text-anchor="middle" fill="#262626" textLength="7.8" lengthAdjust="spacingAndGlyphs" stroke="#262626" stroke-width="0.12">60</text>
<line x1="513.8" y1="222.5" x2="513.8" y2="224.5" stroke="#999" stroke-width="0.6"/>
<text x="513.8" y="233.1" font-size="8" font-weight="normal" text-anchor="middle" fill="#262626" textLength="7.8" lengthAdjust="spacingAndGlyphs" stroke="#262626" stroke-width="0.12">65</text>
<line x1="546.5" y1="222.5" x2="546.5" y2="224.5" stroke="#999" stroke-width="0.6"/>
<text x="546.5" y="233.1" font-size="8" font-weight="normal" text-anchor="middle" fill="#262626" textLength="7.8" lengthAdjust="spacingAndGlyphs" stroke="#262626" stroke-width="0.12">70</text>
<line x1="386.2" y1="194.2" x2="388.2" y2="194.2" stroke="#999" stroke-width="0.6"/>
<text x="384.9" y="197.2" font-size="8" font-weight="normal" text-anchor="end" fill="#262626" textLength="10.2" lengthAdjust="spacingAndGlyphs" stroke="#262626" stroke-width="0.12">2.5</text>
<line x1="386.2" y1="160.6" x2="388.2" y2="160.6" stroke="#999" stroke-width="0.6"/>
<text x="384.9" y="163.5" font-size="8" font-weight="normal" text-anchor="end" fill="#262626" textLength="10.2" lengthAdjust="spacingAndGlyphs" stroke="#262626" stroke-width="0.12">3.0</text>
<line x1="386.2" y1="127" x2="388.2" y2="127" stroke="#999" stroke-width="0.6"/>
<text x="384.9" y="129.9" font-size="8" font-weight="normal" text-anchor="end" fill="#262626" textLength="10.2" lengthAdjust="spacingAndGlyphs" stroke="#262626" stroke-width="0.12">3.5</text>
<line x1="386.2" y1="93.4" x2="388.2" y2="93.4" stroke="#999" stroke-width="0.6"/>
<text x="384.9" y="96.3" font-size="8" font-weight="normal" text-anchor="end" fill="#262626" textLength="10.2" lengthAdjust="spacingAndGlyphs" stroke="#262626" stroke-width="0.12">4.0</text>
<line x1="386.2" y1="59.8" x2="388.2" y2="59.8" stroke="#999" stroke-width="0.6"/>
<text x="384.9" y="62.6" font-size="8" font-weight="normal" text-anchor="end" fill="#262626" textLength="10.2" lengthAdjust="spacingAndGlyphs" stroke="#262626" stroke-width="0.12">4.5</text>
<text x="480.8" y="245.2" font-size="9.8" font-weight="normal" text-anchor="middle" fill="#222" textLength="31.3" lengthAdjust="spacingAndGlyphs" stroke="#222" stroke-width="0.2">CPV - A</text>
<text x="0" y="0" font-size="9.8" font-weight="normal" text-anchor="middle" fill="#222" textLength="32" lengthAdjust="spacingAndGlyphs" stroke="#222" stroke-width="0.2" transform="translate(368.1,126.4) rotate(-90)">CPV - B</text>
<text x="397.8" y="22" font-size="11.4" font-weight="normal" text-anchor="start" fill="#1a1a1a" textLength="194" lengthAdjust="spacingAndGlyphs" stroke="#1a1a1a" stroke-width="0.55">Contour Plot of R2 vs CPV - B, CPV - A</text>
<text x="673.2" y="21" font-size="15.2" font-weight="bold" text-anchor="start" fill="#000" textLength="9.4" lengthAdjust="spacingAndGlyphs" >B</text>
<rect x="625.4" y="32.4" width="49.30000000000007" height="76.1" fill="#fff" stroke="#b8b8b8" stroke-width="0.8"/>
<text x="654.5" y="40.8" font-size="6.2" font-weight="normal" text-anchor="middle" fill="#222" stroke="#222" stroke-width="0.25">R2</text>
<rect x="628" y="45.1" width="8.2" height="6.3" fill="#0a0a70"/>
<text x="654.2" y="50.4" font-size="6.6" font-weight="normal" text-anchor="middle" fill="#1e1e1e" textLength="3.4" lengthAdjust="spacingAndGlyphs" stroke="#1e1e1e" stroke-width="0.25">&lt;</text>
<text x="670.4" y="50.4" font-size="6.6" font-weight="normal" text-anchor="end" fill="#1e1e1e" stroke="#1e1e1e" stroke-width="0.25">1.2</text>
<rect x="628" y="54.2" width="8.2" height="6.3" fill="#1212e0"/>
<text x="648.6" y="59.5" font-size="6.6" font-weight="normal" text-anchor="end" fill="#1e1e1e" stroke="#1e1e1e" stroke-width="0.25">1.2</text>
<text x="654.2" y="59.5" font-size="6.6" font-weight="normal" text-anchor="middle" fill="#1e1e1e" textLength="3.0" lengthAdjust="spacingAndGlyphs" stroke="#1e1e1e" stroke-width="0.25">–</text>
<text x="670.4" y="59.5" font-size="6.6" font-weight="normal" text-anchor="end" fill="#1e1e1e" stroke="#1e1e1e" stroke-width="0.25">1.5</text>
<rect x="628" y="63.2" width="8.2" height="6.3" fill="#7ea7dc"/>
<text x="648.6" y="68.5" font-size="6.6" font-weight="normal" text-anchor="end" fill="#1e1e1e" stroke="#1e1e1e" stroke-width="0.25">1.5</text>
<text x="654.2" y="68.5" font-size="6.6" font-weight="normal" text-anchor="middle" fill="#1e1e1e" textLength="3.0" lengthAdjust="spacingAndGlyphs" stroke="#1e1e1e" stroke-width="0.25">–</text>
<text x="670.4" y="68.5" font-size="6.6" font-weight="normal" text-anchor="end" fill="#1e1e1e" stroke="#1e1e1e" stroke-width="0.25">1.8</text>
<rect x="628" y="72.2" width="8.2" height="6.3" fill="#82cc91"/>
<text x="648.6" y="77.5" font-size="6.6" font-weight="normal" text-anchor="end" fill="#1e1e1e" stroke="#1e1e1e" stroke-width="0.25">1.8</text>
<text x="654.2" y="77.5" font-size="6.6" font-weight="normal" text-anchor="middle" fill="#1e1e1e" textLength="3.0" lengthAdjust="spacingAndGlyphs" stroke="#1e1e1e" stroke-width="0.25">–</text>
<text x="670.4" y="77.5" font-size="6.6" font-weight="normal" text-anchor="end" fill="#1e1e1e" stroke="#1e1e1e" stroke-width="0.25">2.1</text>
<rect x="628" y="81.3" width="8.2" height="6.3" fill="#51ae5d"/>
<text x="648.6" y="86.6" font-size="6.6" font-weight="normal" text-anchor="end" fill="#1e1e1e" stroke="#1e1e1e" stroke-width="0.25">2.1</text>
<text x="654.2" y="86.6" font-size="6.6" font-weight="normal" text-anchor="middle" fill="#1e1e1e" textLength="3.0" lengthAdjust="spacingAndGlyphs" stroke="#1e1e1e" stroke-width="0.25">–</text>
<text x="670.4" y="86.6" font-size="6.6" font-weight="normal" text-anchor="end" fill="#1e1e1e" stroke="#1e1e1e" stroke-width="0.25">2.4</text>
<rect x="628" y="90.3" width="8.2" height="6.3" fill="#00832a"/>
<text x="648.6" y="95.6" font-size="6.6" font-weight="normal" text-anchor="end" fill="#1e1e1e" stroke="#1e1e1e" stroke-width="0.25">2.4</text>
<text x="654.2" y="95.6" font-size="6.6" font-weight="normal" text-anchor="middle" fill="#1e1e1e" textLength="3.0" lengthAdjust="spacingAndGlyphs" stroke="#1e1e1e" stroke-width="0.25">–</text>
<text x="670.4" y="95.6" font-size="6.6" font-weight="normal" text-anchor="end" fill="#1e1e1e" stroke="#1e1e1e" stroke-width="0.25">2.7</text>
<rect x="628" y="99.4" width="8.2" height="6.3" fill="#006a0a"/>
<text x="654.2" y="104.7" font-size="6.6" font-weight="normal" text-anchor="middle" fill="#1e1e1e" textLength="3.4" lengthAdjust="spacingAndGlyphs" stroke="#1e1e1e" stroke-width="0.25">&gt;</text>
<text x="670.4" y="104.7" font-size="6.6" font-weight="normal" text-anchor="end" fill="#1e1e1e" stroke="#1e1e1e" stroke-width="0.25">2.7</text>
<clipPath id="cC"><rect x="251.5" y="289.4" width="182.5" height="181.90000000000003"/></clipPath>
<g clip-path="url(#cC)">
<rect x="251.5" y="289.4" width="182.5" height="181.90000000000003" fill="#cccccc"/>
<path d="M330.5,352.6L331.2,352.1L332,352.1L332.8,352L333.5,352L334.2,352L335,352L335.8,352L336.5,352L337.2,352L338,352L338.8,352L339.5,352L340.2,352L341,352L341.8,351.9L342.5,351.9L343.2,351.9L344,352L344.8,352L345.5,352L346.2,352L347,352L347.8,352L348.5,352L349.3,352L350,352L350.8,352L351.5,352L352.2,352L353,352L353.8,352.1L354.5,352.1L355.2,352.1L356,352.1L356.8,352.1L357.5,352.1L358.2,352.2L359,352.2L359.8,352.2L360.5,352.2L361.2,352.3L362,352.3L362.8,352.3L363.5,352.3L364.2,352.4L365,352.4L365.8,352.4L366.5,352.5L367.2,352.5L368,352.5L368.8,352.6L369.5,352.6L370.2,352.6L370.4,352.6L371,352.7L371.8,352.7L372.5,352.8L373.2,352.8L374,352.8L374.8,352.9L375.5,352.9L376.2,353L377,353L377.8,353.1L378.5,353.1L379.2,353.2L380,353.2L380.8,353.3L381.5,353.3L382.2,353.4L382.4,353.4L383,353.4L383.8,353.5L384.5,353.6L385.2,353.6L386,353.7L386.8,353.7L387.5,353.8L388.2,353.9L389,353.9L389.8,354L390.5,354.1L391.2,354.1L391.4,354.1L392,354.2L392.8,354.3L393.5,354.3L394.2,354.4L395,354.5L395.8,354.6L396.5,354.6L397.2,354.7L398,354.8L398.8,354.9L399,354.9L399.5,355L400.2,355L401,355.1L401.8,355.2L402.5,355.3L403.2,355.4L404,355.5L404.8,355.6L405.5,355.7L405.5,355.7L406.2,355.7L407,355.8L407.8,355.9L408.5,356L409.2,356.1L410,356.2L410.8,356.3L411.3,356.4L411.5,356.4L412.2,356.5L413,356.6L413.8,356.7L414.5,356.8L415.2,356.9L416,357.1L416.7,357.1L416.7,357.2L417.5,357.3L418.2,357.4L419,357.5L419.8,357.6L420.5,357.7L421.2,357.9L421.6,357.9L422,358L422.8,358.1L423.5,358.2L424.2,358.3L425,358.5L425.8,358.6L426.1,358.6L426.5,358.7L427.2,358.9L428,359L428.8,359.1L429.5,359.2L430.2,359.4L430.3,359.4L430.3,360.1L430.2,360.3L429.8,360.9L429.5,361.3L429.2,361.6L428.8,362.4L428.7,362.4L428.2,363.1L428,363.5L427.8,363.9L427.3,364.6L427.2,364.8L426.9,365.4L426.5,366.1L426.5,366.1L426.1,366.9L425.8,367.6L425.7,367.6L425.3,368.4L425,369.1L425,369.1L424.7,369.9L424.4,370.6L424.2,370.9L424,371.4L423.8,372.1L423.5,372.8L423.5,372.9L423.2,373.6L423,374.4L422.8,375L422.7,375.1L422.5,375.9L422.2,376.6L422,377.4L422,377.5L421.8,378.1L421.6,378.9L421.5,379.6L421.3,380.4L421.2,380.5L421.1,381.1L420.9,381.9L420.8,382.6L420.7,383.4L420.5,384.1L420.5,384.3L420.4,384.9L420.3,385.6L420.2,386.4L420.1,387.1L420,387.9L419.9,388.6L419.8,389.4L419.7,390.1L419.7,390.2L419.7,390.9L419.6,391.6L419.6,392.4L419.5,393.1L419.5,393.9L419.5,394.6L419.4,395.4L419.4,396.1L419.4,396.9L419.4,397.6L419.4,398.4L419.4,399.1L419.5,399.9L419.5,400.6L419.5,401.4L419.6,402.1L419.6,402.9L419.7,403.6L419.7,404.4L419.8,404.7L419.8,405.1L419.9,405.9L419.9,406.6L420,407.4L420.1,408.1L420.2,408.9L420.3,409.6L420.5,410.4L420.5,410.7L420.6,411.1L420.7,411.9L420.8,412.6L421,413.4L421.1,414.1L421.2,414.7L421.3,414.9L421.4,415.6L421.6,416.4L421.8,417.1L422,417.9L422,418L422.2,418.6L422.4,419.4L422.6,420.2L422.8,420.7L422.8,420.9L423,421.6L423.3,422.4L423.5,423.1L423.5,423.1L423.8,423.9L424,424.6L424.2,425.3L424.3,425.4L424.6,426.1L424.8,426.9L425,427.3L425.1,427.6L425.4,428.4L425.8,429.1L425.8,429.1L426.1,429.9L426.4,430.6L426.5,430.8L426.8,431.4L427.1,432.1L427.2,432.4L427.5,432.9L427.9,433.6L428,433.9L428.3,434.4L428.7,435.1L428.8,435.3L429.1,435.9L429.5,436.6L429.5,436.6L430,437.4L430.2,437.8L430.4,438.1L430.9,438.9L431,439L431.4,439.6L431.8,440.1L431.9,440.4L432.5,441.1L432.5,441.2L433,441.9L433.2,442.2L433.6,442.6L434,443.2L434.2,443.4L434.8,444.1L434.8,444.1L435.4,444.9L435.5,445L436.1,445.6L436.2,445.8L436.2,446.4L436.2,447.1L436.2,447.9L436.2,448.6L436.2,449.4L436.2,450.1L436.2,450.9L436.2,451.6L436.2,452.4L436.2,453.1L436.2,453.9L436.2,454.6L436.2,455.4L436.2,456.1L436.2,456.9L436.2,457.6L436.2,458.4L436.2,459.1L436.2,459.9L436.2,460.6L436.2,461.4L436.2,462.1L436.2,462.8L435.9,462.9L435.5,463L434.8,463.1L434,463.3L433.2,463.4L432.5,463.6L432,463.6L431.8,463.7L431,463.8L430.2,464L429.5,464.1L428.8,464.2L428,464.4L427.9,464.4L427.2,464.5L426.5,464.6L425.8,464.8L425,464.9L424.2,465L423.5,465.1L423.4,465.1L422.8,465.3L422,465.4L421.2,465.5L420.5,465.6L419.8,465.7L419,465.9L418.7,465.9L418.2,466L417.5,466.1L416.8,466.2L416,466.3L415.2,466.4L414.5,466.5L413.8,466.6L413.6,466.6L413,466.7L412.2,466.8L411.5,466.9L410.8,467L410,467.1L409.2,467.2L408.5,467.3L407.9,467.4L407.8,467.4L407,467.5L406.2,467.6L405.5,467.7L404.8,467.8L404,467.9L403.2,468L402.5,468.1L401.8,468.1L401.7,468.1L401,468.2L400.2,468.3L399.5,468.4L398.8,468.5L398,468.6L397.2,468.6L396.5,468.7L395.8,468.8L395,468.9L394.6,468.9L394.2,468.9L393.5,469L392.8,469.1L392,469.2L391.2,469.2L390.5,469.3L389.8,469.4L389,469.4L388.2,469.5L387.5,469.6L386.8,469.6L386.3,469.6L386,469.7L385.2,469.7L384.5,469.8L383.8,469.9L383,469.9L382.2,470L381.5,470L380.8,470.1L380,470.1L379.2,470.2L378.5,470.2L377.8,470.3L377,470.3L376.2,470.4L375.8,470.4L375.5,470.4L374.8,470.5L374,470.5L373.2,470.5L372.5,470.6L371.8,470.6L371,470.7L370.2,470.7L369.5,470.7L368.8,470.8L368,470.8L367.2,470.9L366.5,470.9L365.8,470.9L365,471L364.2,471L363.5,471L362.8,471L362,471.1L361.2,471.1L360.5,471.1L359.8,471.1L359.4,471.1L359,471.2L358.2,471.2L357.5,471.2L356.8,471.2L356,471.2L355.2,471.3L354.5,471.3L353.8,471.3L353,471.3L352.2,471.3L351.5,471.3L350.8,471.3L350,471.4L349.2,471.4L348.5,471.4L347.8,471.4L347,471.4L346.2,471.4L345.5,471.4L344.8,471.4L344,471.4L343.2,471.4L342.5,471.4L342.1,471.1L341.8,470.4L341.8,470.3L341.6,469.6L341.3,468.9L341.1,468.2L341,467.8L340.9,467.4L340.7,466.6L340.5,465.9L340.2,465.2L340.2,465.1L340,464.4L339.8,463.6L339.6,462.9L339.5,462.4L339.4,462.1L339.2,461.4L339,460.6L338.8,459.9L338.8,459.6L338.6,459.1L338.4,458.4L338.2,457.6L338.1,456.9L338,456.7L337.9,456.1L337.7,455.4L337.5,454.6L337.3,453.9L337.2,453.6L337.1,453.1L337,452.4L336.8,451.6L336.6,450.9L336.5,450.4L336.4,450.1L336.3,449.4L336.1,448.6L336,447.9L335.8,447.1L335.8,447L335.6,446.4L335.5,445.6L335.3,444.9L335.2,444.1L335,443.4L335,443.4L334.9,442.6L334.7,441.9L334.6,441.1L334.4,440.4L334.3,439.6L334.2,439.5L334.1,438.9L334,438.1L333.9,437.4L333.7,436.6L333.6,435.9L333.5,435.4L333.5,435.1L333.3,434.4L333.2,433.6L333.1,432.9L333,432.1L332.8,431.4L332.8,430.9L332.7,430.6L332.6,429.9L332.5,429.1L332.4,428.4L332.3,427.6L332.1,426.9L332,426.1L332,425.9L331.9,425.4L331.8,424.6L331.7,423.9L331.6,423.1L331.5,422.4L331.4,421.6L331.3,420.9L331.2,420.2L331.2,420.1L331.2,419.4L331.1,418.6L331,417.9L330.9,417.1L330.8,416.4L330.7,415.6L330.6,414.9L330.6,414.1L330.5,413.5L330.5,413.4L330.4,412.6L330.3,411.9L330.3,411.1L330.2,410.4L330.1,409.6L330.1,408.9L330,408.1L330,407.4L329.9,406.6L329.8,405.9L329.8,405.1L329.8,404.8L329.7,404.4L329.7,403.6L329.6,402.9L329.6,402.1L329.5,401.4L329.5,400.6L329.4,399.9L329.4,399.1L329.4,398.4L329.3,397.6L329.3,396.9L329.3,396.1L329.2,395.4L329.2,394.6L329.2,393.9L329.1,393.1L329.1,392.4L329.1,391.6L329.1,390.9L329,390.1L329,389.4L329,388.6L329,387.9L329,387.7L329,387.1L329,386.4L329,385.6L329,384.9L329,384.1L329,383.4L329,382.6L329,381.9L329,381.1L329,380.4L329,379.6L329,378.9L329,378.2L329,378.1L329,377.4L329,376.6L329,375.9L329.1,375.1L329.1,374.4L329.1,373.6L329.1,372.9L329.2,372.1L329.2,371.4L329.2,370.6L329.2,369.9L329.3,369.1L329.3,368.4L329.4,367.6L329.4,366.9L329.4,366.1L329.5,365.4L329.5,364.6L329.6,363.9L329.6,363.1L329.7,362.4L329.7,361.6L329.8,361.4L329.8,360.9L329.8,360.1L329.9,359.4L330,358.6L330,357.9L330.1,357.1L330.2,356.4L330.2,355.6L330.3,354.9L330.4,354.1L330.4,353.4L330.5,352.9Z" fill="#fff"/>
<path d="M436.2,360.5 435.5,360.4 434.8,360.2 434.3,360.1 434,360.1 433.2,359.9 432.5,359.8 431.8,359.7 431,359.5 430.3,359.4 430.2,359.4 429.5,359.2 428.8,359.1 428,359 427.2,358.9 426.5,358.7 426.1,358.6 425.8,358.6 425,358.5 424.2,358.3 423.5,358.2 422.8,358.1 422,358 421.6,357.9 421.3,357.9 420.5,357.7 419.8,357.6 419,357.5 418.2,357.4 417.5,357.3 416.8,357.2 416.7,357.1 416,357.1 415.2,356.9 414.5,356.8 413.8,356.7 413,356.6 412.2,356.5 411.5,356.4 411.3,356.4 410.8,356.3 410,356.2 409.2,356.1 408.5,356 407.8,355.9 407,355.8 406.2,355.7 405.5,355.7 405.5,355.6 404.8,355.6 404,355.5 403.2,355.4 402.5,355.3 401.8,355.2 401,355.1 400.2,355 399.5,355 399,354.9 398.8,354.9 398,354.8 397.2,354.7 396.5,354.6 395.8,354.6 395,354.5 394.2,354.4 393.5,354.3 392.8,354.3 392,354.2 391.4,354.1 391.2,354.1 390.5,354.1 389.8,354 389,353.9 388.2,353.9 387.5,353.8 386.8,353.7 386,353.7 385.2,353.6 384.5,353.6 383.8,353.5 383,353.4 382.4,353.4 382.2,353.4 381.5,353.3 380.8,353.3 380,353.2 379.3,353.2 378.5,353.1 377.8,353.1 377,353 376.2,353 375.5,352.9 374.8,352.9 374,352.8 373.2,352.8 372.5,352.8 371.8,352.7 371,352.7 370.4,352.6 370.2,352.6 369.5,352.6 368.8,352.6 368,352.5 367.2,352.5 366.5,352.5 365.8,352.4 365,352.4 364.2,352.4 363.5,352.3 362.8,352.3 362,352.3 361.2,352.3 360.5,352.2 359.8,352.2 359,352.2 358.2,352.2 357.5,352.1 356.8,352.1 356,352.1 355.2,352.1 354.5,352.1 353.8,352.1 353,352 352.2,352 351.5,352 350.8,352 350,352 349.2,352 348.5,352 347.8,352 347,352 346.2,352 345.5,352 344.8,352 344,352 343.2,351.9 342.5,351.9 341.8,351.9 341,352 340.2,352 339.5,352 338.8,352 338,352 337.2,352 336.5,352 335.8,352 335,352 334.2,352 333.5,352 332.8,352 332,352.1 331.2,352.1 330.5,352.1 329.8,352.1 329,352.1 328.2,352.1 327.5,352.2 326.8,352.2 326,352.2 325.2,352.2 324.5,352.3 323.8,352.3 323,352.3 322.2,352.3 321.5,352.4 320.8,352.4 320,352.4 319.2,352.5 318.5,352.5 317.8,352.5 317,352.6 316.2,352.6 315.5,352.6 315,352.6 314.8,352.7 314,352.7 313.2,352.7 312.5,352.8 311.8,352.8 311,352.9 310.2,352.9 309.5,353 308.8,353 308,353.1 307.2,353.1 306.5,353.2 305.8,353.2 305,353.3 304.2,353.3 303.5,353.4 303,353.4 302.8,353.4 302,353.5 301.2,353.5 300.5,353.6 299.8,353.7 299,353.7 298.2,353.8 297.5,353.8 296.8,353.9 296,354 295.2,354 294.5,354.1 294,354.1 293.8,354.2 293,354.2 292.2,354.3 291.5,354.4 290.8,354.5 290,354.5 289.2,354.6 288.5,354.7 287.8,354.8 287,354.8 286.4,354.9 286.2,354.9 285.5,355 284.8,355.1 284,355.2 283.2,355.3 282.5,355.3 281.8,355.4 281,355.5 280.2,355.6 279.9,355.6 279.5,355.7 278.8,355.8 278,355.9 277.2,356 276.5,356.1 275.8,356.2 275,356.3 274.2,356.4 274.1,356.4 273.5,356.5 272.8,356.6 272,356.7 271.2,356.8 270.5,356.9 269.8,357 269,357.1 268.7,357.1 268.2,357.2 267.5,357.3 266.8,357.4 266,357.6 265.2,357.7 264.5,357.8 263.8,357.9 263.8,357.9 263,358 262.2,358.2 261.5,358.3 260.8,358.4 260,358.5 259.3,358.6 259.2,358.7 258.5,358.8 257.8,358.9 257,359.1 256.2,359.2 255.5,359.3 255.1,359.4 254.8,359.5 254,359.6 253.2,359.7 252.5,359.9 251.8,360 251.1,360.1 251,360.2 250.2,360.3 249.5,360.5M249.5,462.9 249.5,462.9 250.2,463 251,463.2 251.8,463.3 252.5,463.5 253.2,463.6 253.4,463.6 254,463.8 254.8,463.9 255.5,464 256.2,464.2 257,464.3 257.5,464.4 257.8,464.4 258.5,464.6 259.2,464.7 260,464.8 260.8,464.9 261.5,465.1 262,465.1 262.2,465.2 263,465.3 263.8,465.4 264.5,465.6 265.2,465.7 266,465.8 266.7,465.9 266.8,465.9 267.5,466 268.2,466.1 269,466.2 269.8,466.4 270.5,466.5 271.2,466.6 271.8,466.6 272,466.7 272.8,466.8 273.5,466.9 274.2,467 275,467.1 275.8,467.2 276.5,467.3 277.2,467.4 277.5,467.4 278,467.5 278.8,467.6 279.5,467.7 280.2,467.7 281,467.8 281.8,467.9 282.5,468 283.2,468.1 283.7,468.1 284,468.2 284.8,468.3 285.5,468.4 286.2,468.4 287,468.5 287.8,468.6 288.5,468.7 289.2,468.7 290,468.8 290.8,468.9 290.8,468.9 291.5,469 292.2,469 293,469.1 293.8,469.2 294.5,469.3 295.2,469.3 296,469.4 296.8,469.5 297.5,469.5 298.2,469.6 299,469.6 299.1,469.6 299.8,469.7 300.5,469.8 301.2,469.8 302,469.9 302.8,469.9 303.5,470 304.2,470 305,470.1 305.8,470.1 306.5,470.2 307.2,470.3 308,470.3 308.8,470.3 309.5,470.4 309.6,470.4 310.2,470.4 311,470.5 311.7,470.5 312.5,470.6 313.2,470.6 314,470.7 314.8,470.7 315.5,470.7 316.2,470.8 317,470.8 317.8,470.8 318.5,470.9 319.2,470.9 320,470.9 320.8,471 321.5,471 322.2,471 323,471.1 323.8,471.1 324.5,471.1 325.2,471.1 326,471.1 326,471.2 326.7,471.2 327.5,471.2 328.2,471.2 329,471.2 329.8,471.3 330.5,471.3 331.2,471.3 332,471.3 332.8,471.3 333.5,471.3 334.2,471.3 335,471.4 335.8,471.4 336.5,471.4 337.2,471.4 338,471.4 338.8,471.4 339.5,471.4 340.2,471.4 341,471.4 341.8,471.4 342.5,471.4 343.2,471.4 344,471.4 344.8,471.4 345.5,471.4 346.2,471.4 347,471.4 347.8,471.4 348.5,471.4 349.2,471.4 350,471.4 350.8,471.3 351.5,471.3 352.2,471.3 353,471.3 353.8,471.3 354.5,471.3 355.2,471.3 356,471.2 356.8,471.2 357.5,471.2 358.3,471.2 359,471.2 359.4,471.1 359.8,471.1 360.5,471.1 361.2,471.1 362,471.1 362.8,471 363.5,471 364.2,471 365,471 365.8,470.9 366.5,470.9 367.2,470.9 368,470.8 368.8,470.8 369.5,470.7 370.2,470.7 371,470.7 371.8,470.6 372.5,470.6 373.2,470.5 374,470.5 374.8,470.5 375.5,470.4 375.8,470.4 376.2,470.4 377,470.3 377.8,470.3 378.5,470.2 379.2,470.2 380,470.1 380.8,470.1 381.5,470 382.2,470 383,469.9 383.8,469.9 384.5,469.8 385.2,469.7 386,469.7 386.3,469.6 386.8,469.6 387.5,469.6 388.2,469.5 389,469.4 389.8,469.4 390.5,469.3 391.2,469.2 392,469.2 392.7,469.1 393.5,469 394.2,468.9 394.6,468.9 395,468.9 395.8,468.8 396.5,468.7 397.2,468.6 398,468.6 398.8,468.5 399.5,468.4 400.2,468.3 401,468.2 401.7,468.1 401.8,468.1 402.5,468.1 403.2,468 404,467.9 404.8,467.8 405.5,467.7 406.2,467.6 407,467.5 407.8,467.4 407.9,467.4 408.5,467.3 409.2,467.2 410,467.1 410.8,467 411.5,466.9 412.2,466.8 413,466.7 413.6,466.6 413.8,466.6 414.5,466.5 415.2,466.4 416,466.3 416.8,466.2 417.5,466.1 418.2,466 418.7,465.9 419,465.9 419.8,465.7 420.5,465.6 421.2,465.5 422,465.4 422.8,465.3 423.4,465.1 423.5,465.1 424.2,465 425,464.9 425.8,464.8 426.5,464.6 427.2,464.5 427.9,464.4 428,464.4 428.8,464.2 429.5,464.1 430.2,464 431,463.8 431.8,463.7 432,463.6 432.5,463.6 433.2,463.4 434,463.3 434.8,463.1 435.5,463 435.9,462.9 436.2,462.8" fill="none" stroke="#2160b3" stroke-width="1.35" stroke-dasharray="3.4 1.8"/>
<path d="M342.7,473.4 342.5,472.8 342.5,472.6 342.2,471.9 342,471.1 341.8,470.4 341.8,470.3 341.6,469.6 341.3,468.9 341.1,468.2 341,467.8 340.9,467.4 340.7,466.6 340.5,465.9 340.2,465.2 340.2,465.1 340,464.4 339.8,463.6 339.6,462.9 339.5,462.4 339.4,462.1 339.2,461.4 339,460.6 338.8,459.9 338.8,459.6 338.6,459.1 338.4,458.4 338.2,457.6 338.1,456.9 338,456.7 337.9,456.1 337.7,455.4 337.5,454.6 337.3,453.9 337.2,453.6 337.1,453.1 337,452.4 336.8,451.6 336.6,450.9 336.5,450.4 336.4,450.1 336.3,449.4 336.1,448.6 336,447.9 335.8,447.1 335.8,447 335.6,446.4 335.5,445.6 335.3,444.9 335.2,444.1 335,443.4 335,443.4 334.9,442.6 334.7,441.9 334.6,441.1 334.4,440.4 334.3,439.6 334.2,439.5 334.1,438.9 334,438.1 333.9,437.4 333.7,436.6 333.6,435.9 333.5,435.4 333.5,435.1 333.3,434.4 333.2,433.6 333.1,432.9 333,432.1 332.8,431.4 332.8,430.9 332.7,430.6 332.6,429.9 332.5,429.1 332.4,428.4 332.3,427.6 332.1,426.9 332,426.1 332,425.9 331.9,425.4 331.8,424.6 331.7,423.9 331.6,423.1 331.5,422.4 331.4,421.6 331.3,420.9 331.2,420.2 331.2,420.1 331.2,419.4 331.1,418.6 331,417.9 330.9,417.1 330.8,416.4 330.7,415.6 330.6,414.9 330.6,414.1 330.5,413.5 330.5,413.4 330.4,412.6 330.3,411.9 330.3,411.1 330.2,410.4 330.1,409.6 330.1,408.9 330,408.1 330,407.4 329.9,406.6 329.8,405.9 329.8,405.1 329.8,404.8 329.7,404.4 329.7,403.6 329.6,402.9 329.6,402.1 329.5,401.4 329.5,400.6 329.4,399.9 329.4,399.1 329.4,398.4 329.3,397.6 329.3,396.9 329.3,396.1 329.2,395.4 329.2,394.6 329.2,393.9 329.1,393.1 329.1,392.4 329.1,391.6 329.1,390.9 329,390.1 329,389.4 329,388.6 329,387.9 329,387.7 329,387.1 329,386.4 329,385.6 329,384.9 329,384.1 329,383.4 329,382.6 329,381.9 329,381.1 329,380.4 329,379.6 329,378.9 329,378.2 329,378.1 329,377.4 329,376.6 329,375.9 329.1,375.1 329.1,374.4 329.1,373.6 329.1,372.9 329.2,372.1 329.2,371.4 329.2,370.6 329.2,369.9 329.3,369.1 329.3,368.4 329.4,367.6 329.4,366.9 329.4,366.1 329.5,365.4 329.5,364.6 329.6,363.9 329.6,363.1 329.7,362.4 329.7,361.6 329.8,361.4 329.8,360.9 329.8,360.1 329.9,359.4 330,358.6 330,357.9 330.1,357.1 330.2,356.4 330.2,355.6 330.3,354.9 330.4,354.1 330.4,353.4 330.5,352.9 330.5,352.6 330.6,351.9 330.7,351.1 330.8,350.4 330.9,349.6 330.9,348.9 331,348.1 331.1,347.4 331.2,346.6 331.2,346.4 331.3,345.9 331.4,345.1 331.5,344.4 331.6,343.6 331.7,342.9 331.8,342.1 331.9,341.4 332,341 332.1,340.6 332.2,339.9 332.3,339.1 332.4,338.4 332.5,337.6 332.6,336.9 332.8,336.2 332.8,336.1 332.9,335.4 333,334.6 333.2,333.9 333.3,333.1 333.4,332.4 333.5,332 333.6,331.6 333.7,330.9 333.8,330.1 334,329.4 334.1,328.6 334.2,328.1 334.3,327.9 334.4,327.1 334.6,326.4 334.7,325.6 334.9,324.9 335,324.4 335.1,324.1 335.2,323.4 335.4,322.6 335.6,321.9 335.7,321.1 335.8,321.1 335.9,320.4 336.1,319.6 336.3,318.9 336.4,318.1 336.5,317.9 336.6,317.4 336.8,316.6 337,315.9 337.2,315.1 337.2,314.9 337.4,314.4 337.6,313.6 337.8,312.9 338,312.1 338,312.1 338.2,311.4 338.4,310.6 338.6,309.9 338.8,309.4 338.8,309.1 339,308.4 339.2,307.6 339.5,306.9 339.5,306.8 339.7,306.1 339.9,305.4 340.1,304.6 340.2,304.3 340.4,303.9 340.6,303.1 340.9,302.4 341,301.9 341.1,301.6 341.3,300.9 341.6,300.1 341.8,299.6 341.8,299.4 342.1,298.6 342.3,297.9 342.5,297.4 342.6,297.1 342.9,296.4 343.1,295.6 343.2,295.3 343.4,294.9 343.7,294.1 343.9,293.4 344,293.2 344.2,292.6 344.5,291.9 344.8,291.2 344.8,291.1 345.1,290.4 345.4,289.6 345.5,289.3 345.7,288.9 346,288.1 346.2,287.4 346.3,287.4" fill="none" stroke="#a41d22" stroke-width="1.35"/>
<path d="M436.2,445.8 436.1,445.6 435.5,445 435.4,444.9 434.8,444.1 434.8,444.1 434.2,443.4 434,443.2 433.6,442.6 433.2,442.2 433,441.9 432.5,441.2 432.5,441.1 431.9,440.4 431.7,440.1 431.4,439.6 431,439 430.9,438.9 430.4,438.1 430.2,437.8 430,437.4 429.5,436.6 429.5,436.6 429.1,435.9 428.8,435.3 428.7,435.1 428.3,434.4 428,433.9 427.9,433.6 427.5,432.9 427.2,432.4 427.1,432.1 426.8,431.4 426.5,430.8 426.4,430.6 426.1,429.9 425.8,429.1 425.8,429.1 425.4,428.4 425.1,427.6 425,427.3 424.8,426.9 424.6,426.1 424.3,425.4 424.2,425.3 424,424.6 423.8,423.9 423.5,423.1 423.5,423.1 423.3,422.4 423,421.6 422.8,420.9 422.8,420.7 422.6,420.1 422.4,419.4 422.2,418.6 422,418 422,417.9 421.8,417.1 421.6,416.4 421.4,415.6 421.3,414.9 421.2,414.7 421.1,414.1 421,413.4 420.8,412.6 420.7,411.9 420.6,411.2 420.5,410.7 420.5,410.4 420.3,409.6 420.2,408.9 420.1,408.1 420,407.4 419.9,406.6 419.9,405.9 419.8,405.1 419.8,404.7 419.7,404.4 419.7,403.6 419.6,402.9 419.6,402.1 419.5,401.4 419.5,400.6 419.5,399.9 419.4,399.1 419.4,398.4 419.4,397.6 419.4,396.9 419.4,396.1 419.4,395.4 419.5,394.6 419.5,393.9 419.5,393.1 419.6,392.4 419.6,391.6 419.7,390.9 419.7,390.1 419.8,390.1 419.8,389.4 419.9,388.6 420,387.9 420.1,387.1 420.2,386.4 420.3,385.6 420.4,384.9 420.5,384.3 420.5,384.1 420.7,383.4 420.8,382.6 420.9,381.9 421.1,381.1 421.2,380.5 421.3,380.4 421.5,379.6 421.6,378.9 421.8,378.1 422,377.5 422,377.4 422.2,376.6 422.5,375.9 422.7,375.1 422.8,375 423,374.4 423.2,373.6 423.5,372.9 423.5,372.8 423.8,372.1 424,371.4 424.2,370.9 424.4,370.6 424.7,369.9 425,369.1 425,369.1 425.3,368.4 425.7,367.6 425.8,367.6 426.1,366.9 426.5,366.1 426.5,366.1 426.9,365.4 427.2,364.8 427.3,364.7 427.8,363.9 428,363.5 428.2,363.1 428.7,362.4 428.8,362.4 429.2,361.6 429.5,361.3 429.8,360.9 430.2,360.3 430.3,360.1 430.9,359.4 431,359.3 431.6,358.6 431.8,358.4 432.2,357.9 432.5,357.6 433,357.1 433.2,356.8 433.7,356.4 434,356.1 434.5,355.6 434.8,355.5 435.4,354.9 435.5,354.8 436.3,354.2" fill="none" stroke="#a41d22" stroke-width="1.35" stroke-dasharray="3.4 1.8"/>
</g>
<rect x="250.5" y="288.4" width="184.5" height="183.90000000000003" fill="none" stroke="#ececec" stroke-width="0.8"/>
<rect x="251.5" y="289.4" width="182.5" height="181.90000000000003" fill="none" stroke="#b0b0b0" stroke-width="1"/>
<line x1="278.3" y1="471.8" x2="278.3" y2="473.8" stroke="#999" stroke-width="0.6"/>
<text x="278.3" y="481" font-size="7.8" font-weight="normal" text-anchor="middle" fill="#262626" textLength="7.5" lengthAdjust="spacingAndGlyphs" stroke="#262626" stroke-width="0.12">50</text>
<line x1="310.5" y1="471.8" x2="310.5" y2="473.8" stroke="#999" stroke-width="0.6"/>
<text x="310.5" y="481" font-size="7.8" font-weight="normal" text-anchor="middle" fill="#262626" textLength="7.5" lengthAdjust="spacingAndGlyphs" stroke="#262626" stroke-width="0.12">55</text>
<line x1="342.7" y1="471.8" x2="342.7" y2="473.8" stroke="#999" stroke-width="0.6"/>
<text x="342.7" y="481" font-size="7.8" font-weight="normal" text-anchor="middle" fill="#262626" textLength="7.5" lengthAdjust="spacingAndGlyphs" stroke="#262626" stroke-width="0.12">60</text>
<line x1="374.9" y1="471.8" x2="374.9" y2="473.8" stroke="#999" stroke-width="0.6"/>
<text x="374.9" y="481" font-size="7.8" font-weight="normal" text-anchor="middle" fill="#262626" textLength="7.5" lengthAdjust="spacingAndGlyphs" stroke="#262626" stroke-width="0.12">65</text>
<line x1="407.1" y1="471.8" x2="407.1" y2="473.8" stroke="#999" stroke-width="0.6"/>
<text x="407.1" y="481" font-size="7.8" font-weight="normal" text-anchor="middle" fill="#262626" textLength="7.5" lengthAdjust="spacingAndGlyphs" stroke="#262626" stroke-width="0.12">70</text>
<line x1="249.0" y1="445" x2="251.0" y2="445" stroke="#999" stroke-width="0.6"/>
<text x="247.7" y="447.9" font-size="7.8" font-weight="normal" text-anchor="end" fill="#262626" textLength="10" lengthAdjust="spacingAndGlyphs" stroke="#262626" stroke-width="0.12">2.5</text>
<line x1="249.0" y1="412.6" x2="251.0" y2="412.6" stroke="#999" stroke-width="0.6"/>
<text x="247.7" y="415.5" font-size="7.8" font-weight="normal" text-anchor="end" fill="#262626" textLength="10" lengthAdjust="spacingAndGlyphs" stroke="#262626" stroke-width="0.12">3.0</text>
<line x1="249.0" y1="380.2" x2="251.0" y2="380.2" stroke="#999" stroke-width="0.6"/>
<text x="247.7" y="383.1" font-size="7.8" font-weight="normal" text-anchor="end" fill="#262626" textLength="10" lengthAdjust="spacingAndGlyphs" stroke="#262626" stroke-width="0.12">3.5</text>
<line x1="249.0" y1="347.8" x2="251.0" y2="347.8" stroke="#999" stroke-width="0.6"/>
<text x="247.7" y="350.7" font-size="7.8" font-weight="normal" text-anchor="end" fill="#262626" textLength="10" lengthAdjust="spacingAndGlyphs" stroke="#262626" stroke-width="0.12">4.0</text>
<line x1="249.0" y1="315.4" x2="251.0" y2="315.4" stroke="#999" stroke-width="0.6"/>
<text x="247.7" y="318.3" font-size="7.8" font-weight="normal" text-anchor="end" fill="#262626" textLength="10" lengthAdjust="spacingAndGlyphs" stroke="#262626" stroke-width="0.12">4.5</text>
<text x="342.6" y="492.8" font-size="9.2" font-weight="normal" text-anchor="middle" fill="#222" textLength="31.6" lengthAdjust="spacingAndGlyphs" stroke="#222" stroke-width="0.2">CPV - A</text>
<text x="0" y="0" font-size="9.8" font-weight="normal" text-anchor="middle" fill="#222" textLength="31" lengthAdjust="spacingAndGlyphs" stroke="#222" stroke-width="0.2" transform="translate(232.2,378.8) rotate(-90)">CPV - B</text>
<text x="296.2" y="279.5" font-size="11.4" font-weight="normal" text-anchor="start" fill="#1a1a1a" textLength="109.8" lengthAdjust="spacingAndGlyphs" stroke="#1a1a1a" stroke-width="0.55">Contour Plot of R2, R1</text>
<text x="173.3" y="285.7" font-size="16.6" font-weight="bold" text-anchor="start" fill="#000" textLength="10.6" lengthAdjust="spacingAndGlyphs" >C</text>
<rect x="489.3" y="289.2" width="38.5" height="57.8" fill="#fff" stroke="#b8b8b8" stroke-width="0.8"/>
<text x="518.6" y="297.4" font-size="6.2" font-weight="normal" text-anchor="middle" fill="#222" stroke="#222" stroke-width="0.25">R2</text>
<line x1="492.2" y1="304.3" x2="511.1" y2="304.3" stroke="#2160b3" stroke-width="1.5"/>
<text x="515.4" y="306.6" font-size="6.4" font-weight="normal" text-anchor="start" fill="#1e1e1e" stroke="#1e1e1e" stroke-width="0.25">1</text>
<line x1="492.2" y1="312.4" x2="511.1" y2="312.4" stroke="#2160b3" stroke-width="1.5" stroke-dasharray="3.2 1.9"/>
<text x="515.4" y="314.7" font-size="6.4" font-weight="normal" text-anchor="start" fill="#1e1e1e" stroke="#1e1e1e" stroke-width="0.25">1.4</text>
<text x="518.6" y="325.5" font-size="6.2" font-weight="normal" text-anchor="middle" fill="#222" stroke="#222" stroke-width="0.25">R1</text>
<line x1="492.2" y1="332.6" x2="511.1" y2="332.6" stroke="#a41d22" stroke-width="1.5"/>
<text x="515.4" y="334.9" font-size="6.4" font-weight="normal" text-anchor="start" fill="#1e1e1e" stroke="#1e1e1e" stroke-width="0.25">5</text>
<line x1="492.2" y1="341.3" x2="511.1" y2="341.3" stroke="#a41d22" stroke-width="1.5" stroke-dasharray="3.2 1.9"/>
<text x="515.4" y="343.6" font-size="6.4" font-weight="normal" text-anchor="start" fill="#1e1e1e" stroke="#1e1e1e" stroke-width="0.25">7.5</text></svg>
</body></html>
